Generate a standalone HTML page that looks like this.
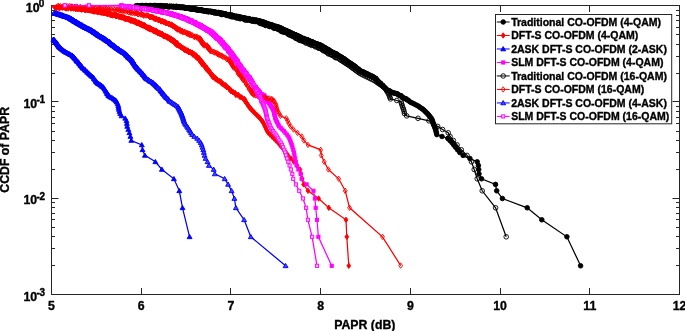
<!DOCTYPE html>
<html><head><meta charset="utf-8"><style>
html,body{margin:0;padding:0;background:#fff;}
svg{display:block;will-change:transform;}
text{font-family:"Liberation Sans",sans-serif;font-weight:bold;fill:#000;stroke:#000;stroke-width:0.35px;}
</style></head><body>
<svg width="685" height="331" viewBox="0 0 685 331">
<defs><clipPath id="pc"><rect x="51.5" y="2.5" width="628.0" height="292.0"/></clipPath><g id="m_blk4"><circle cx="0" cy="0" r="2.3" fill="#000" stroke="#000" stroke-width="0.9"/></g><g id="m_red4"><path d="M0,-2.7L1.9,0L0,2.7L-1.9,0Z" fill="#f00" stroke="#f00" stroke-width="0.9"/></g><g id="m_blu2"><path d="M0,-2.4L2.45,1.85L-2.45,1.85Z" fill="#00f" stroke="#00f" stroke-width="0.9"/></g><g id="m_mag4"><rect x="-1.6" y="-1.6" width="3.2" height="3.2" fill="#f0f" stroke="#f0f" stroke-width="0.9"/></g><g id="m_blk16"><circle cx="0" cy="0" r="2.3" fill="none" stroke="#000" stroke-width="0.9"/></g><g id="m_red16"><path d="M0,-2.7L1.9,0L0,2.7L-1.9,0Z" fill="none" stroke="#f00" stroke-width="0.9"/></g><g id="m_blu4"><path d="M0,-2.4L2.45,1.85L-2.45,1.85Z" fill="#44f" stroke="#00f" stroke-width="0.9"/></g><g id="m_mag16"><rect x="-1.6" y="-1.6" width="3.2" height="3.2" fill="#fbf" stroke="#f0f" stroke-width="0.9"/></g></defs>
<rect width="685" height="331" fill="#fff"/>
<rect x="51.5" y="5.5" width="628.0" height="289.0" fill="none" stroke="#262626" stroke-width="1"/><line x1="51.50" y1="294.5" x2="51.50" y2="288.0" stroke="#262626"/><line x1="51.50" y1="5.5" x2="51.50" y2="12.0" stroke="#262626"/><line x1="141.50" y1="294.5" x2="141.50" y2="288.0" stroke="#262626"/><line x1="141.50" y1="5.5" x2="141.50" y2="12.0" stroke="#262626"/><line x1="230.50" y1="294.5" x2="230.50" y2="288.0" stroke="#262626"/><line x1="230.50" y1="5.5" x2="230.50" y2="12.0" stroke="#262626"/><line x1="320.50" y1="294.5" x2="320.50" y2="288.0" stroke="#262626"/><line x1="320.50" y1="5.5" x2="320.50" y2="12.0" stroke="#262626"/><line x1="410.50" y1="294.5" x2="410.50" y2="288.0" stroke="#262626"/><line x1="410.50" y1="5.5" x2="410.50" y2="12.0" stroke="#262626"/><line x1="500.50" y1="294.5" x2="500.50" y2="288.0" stroke="#262626"/><line x1="500.50" y1="5.5" x2="500.50" y2="12.0" stroke="#262626"/><line x1="589.50" y1="294.5" x2="589.50" y2="288.0" stroke="#262626"/><line x1="589.50" y1="5.5" x2="589.50" y2="12.0" stroke="#262626"/><line x1="679.50" y1="294.5" x2="679.50" y2="288.0" stroke="#262626"/><line x1="679.50" y1="5.5" x2="679.50" y2="12.0" stroke="#262626"/><line x1="51.5" y1="5.50" x2="58.5" y2="5.50" stroke="#262626"/><line x1="679.5" y1="5.50" x2="672.5" y2="5.50" stroke="#262626"/><line x1="51.5" y1="73.50" x2="55.0" y2="73.50" stroke="#262626"/><line x1="679.5" y1="73.50" x2="676.0" y2="73.50" stroke="#262626"/><line x1="51.5" y1="56.50" x2="55.0" y2="56.50" stroke="#262626"/><line x1="679.5" y1="56.50" x2="676.0" y2="56.50" stroke="#262626"/><line x1="51.5" y1="44.50" x2="55.0" y2="44.50" stroke="#262626"/><line x1="679.5" y1="44.50" x2="676.0" y2="44.50" stroke="#262626"/><line x1="51.5" y1="34.50" x2="55.0" y2="34.50" stroke="#262626"/><line x1="679.5" y1="34.50" x2="676.0" y2="34.50" stroke="#262626"/><line x1="51.5" y1="27.50" x2="55.0" y2="27.50" stroke="#262626"/><line x1="679.5" y1="27.50" x2="676.0" y2="27.50" stroke="#262626"/><line x1="51.5" y1="20.50" x2="55.0" y2="20.50" stroke="#262626"/><line x1="679.5" y1="20.50" x2="676.0" y2="20.50" stroke="#262626"/><line x1="51.5" y1="15.50" x2="55.0" y2="15.50" stroke="#262626"/><line x1="679.5" y1="15.50" x2="676.0" y2="15.50" stroke="#262626"/><line x1="51.5" y1="10.50" x2="55.0" y2="10.50" stroke="#262626"/><line x1="679.5" y1="10.50" x2="676.0" y2="10.50" stroke="#262626"/><line x1="51.5" y1="101.50" x2="58.5" y2="101.50" stroke="#262626"/><line x1="679.5" y1="101.50" x2="672.5" y2="101.50" stroke="#262626"/><line x1="51.5" y1="169.50" x2="55.0" y2="169.50" stroke="#262626"/><line x1="679.5" y1="169.50" x2="676.0" y2="169.50" stroke="#262626"/><line x1="51.5" y1="152.50" x2="55.0" y2="152.50" stroke="#262626"/><line x1="679.5" y1="152.50" x2="676.0" y2="152.50" stroke="#262626"/><line x1="51.5" y1="140.50" x2="55.0" y2="140.50" stroke="#262626"/><line x1="679.5" y1="140.50" x2="676.0" y2="140.50" stroke="#262626"/><line x1="51.5" y1="131.50" x2="55.0" y2="131.50" stroke="#262626"/><line x1="679.5" y1="131.50" x2="676.0" y2="131.50" stroke="#262626"/><line x1="51.5" y1="123.50" x2="55.0" y2="123.50" stroke="#262626"/><line x1="679.5" y1="123.50" x2="676.0" y2="123.50" stroke="#262626"/><line x1="51.5" y1="117.50" x2="55.0" y2="117.50" stroke="#262626"/><line x1="679.5" y1="117.50" x2="676.0" y2="117.50" stroke="#262626"/><line x1="51.5" y1="111.50" x2="55.0" y2="111.50" stroke="#262626"/><line x1="679.5" y1="111.50" x2="676.0" y2="111.50" stroke="#262626"/><line x1="51.5" y1="106.50" x2="55.0" y2="106.50" stroke="#262626"/><line x1="679.5" y1="106.50" x2="676.0" y2="106.50" stroke="#262626"/><line x1="51.5" y1="198.50" x2="58.5" y2="198.50" stroke="#262626"/><line x1="679.5" y1="198.50" x2="672.5" y2="198.50" stroke="#262626"/><line x1="51.5" y1="265.50" x2="55.0" y2="265.50" stroke="#262626"/><line x1="679.5" y1="265.50" x2="676.0" y2="265.50" stroke="#262626"/><line x1="51.5" y1="248.50" x2="55.0" y2="248.50" stroke="#262626"/><line x1="679.5" y1="248.50" x2="676.0" y2="248.50" stroke="#262626"/><line x1="51.5" y1="236.50" x2="55.0" y2="236.50" stroke="#262626"/><line x1="679.5" y1="236.50" x2="676.0" y2="236.50" stroke="#262626"/><line x1="51.5" y1="227.50" x2="55.0" y2="227.50" stroke="#262626"/><line x1="679.5" y1="227.50" x2="676.0" y2="227.50" stroke="#262626"/><line x1="51.5" y1="219.50" x2="55.0" y2="219.50" stroke="#262626"/><line x1="679.5" y1="219.50" x2="676.0" y2="219.50" stroke="#262626"/><line x1="51.5" y1="213.50" x2="55.0" y2="213.50" stroke="#262626"/><line x1="679.5" y1="213.50" x2="676.0" y2="213.50" stroke="#262626"/><line x1="51.5" y1="207.50" x2="55.0" y2="207.50" stroke="#262626"/><line x1="679.5" y1="207.50" x2="676.0" y2="207.50" stroke="#262626"/><line x1="51.5" y1="202.50" x2="55.0" y2="202.50" stroke="#262626"/><line x1="679.5" y1="202.50" x2="676.0" y2="202.50" stroke="#262626"/><line x1="51.5" y1="294.50" x2="58.5" y2="294.50" stroke="#262626"/><line x1="679.5" y1="294.50" x2="672.5" y2="294.50" stroke="#262626"/>
<polyline points="135.7,6.1 137.8,5.6 139.2,5.8 140.9,6.0 142.0,5.5 144.3,5.8 145.8,5.5 147.1,6.0 148.5,6.2 150.7,5.5 151.5,5.9 153.6,5.8 154.2,5.9 155.4,5.7 157.0,5.9 158.1,5.8 159.5,6.0 160.8,5.7 162.2,6.1 162.8,5.9 164.0,6.4 164.1,6.1 165.5,6.4 166.5,6.2 167.2,6.5 167.6,6.5 169.0,6.7 169.5,6.5 169.9,6.3 171.5,6.5 171.8,6.6 173.1,6.8 173.6,6.6 174.6,6.9 175.5,6.7 176.3,6.5 176.8,7.0 178.5,7.0 178.8,6.7 179.8,7.3 180.7,7.1 181.4,7.0 181.7,7.6 182.3,7.3 182.6,7.5 183.8,7.2 184.2,7.8 184.9,7.9 185.4,7.8 185.8,7.8 185.9,8.2 187.0,7.8 187.5,8.1 187.9,8.1 188.7,8.4 189.4,8.4 189.4,8.3 190.2,8.6 191.4,8.9 191.9,9.0 192.0,9.1 193.0,8.6 193.0,8.7 194.3,8.9 194.3,9.3 195.1,9.0 195.6,9.4 196.2,9.3 197.3,9.5 197.5,9.6 197.9,9.7 198.8,9.6 199.2,10.2 200.2,9.8 200.9,10.3 201.0,9.9 201.7,10.5 202.3,10.5 203.4,10.5 203.6,10.9 204.8,10.7 204.9,10.9 205.7,10.9 206.2,11.1 206.6,10.9 208.1,11.4 208.1,11.5 208.8,11.7 209.8,11.4 210.0,11.2 211.2,11.3 211.8,12.1 212.2,11.6 213.1,12.3 213.6,12.0 214.0,12.0 214.5,12.3 215.3,12.1 215.7,12.5 216.5,12.5 217.2,12.9 218.3,12.4 218.4,12.7 219.7,13.1 219.8,12.8 220.6,13.3 221.3,13.1 221.7,13.4 221.8,13.7 222.1,13.7 222.4,13.4 223.6,13.5 223.9,13.9 224.5,13.8 224.5,13.9 225.5,14.2 226.0,14.5 225.8,14.3 226.2,14.1 226.7,14.8 227.8,14.9 227.9,14.8 228.7,14.7 229.0,14.7 229.1,14.9 230.3,15.2 230.8,15.2 230.7,15.6 231.7,15.1 232.0,15.3 232.0,15.9 232.5,15.6 233.8,15.8 233.5,15.7 234.1,16.3 234.5,16.5 235.2,16.6 236.2,16.3 236.1,16.5 236.5,16.7 237.0,16.4 238.3,16.7 238.5,16.9 238.7,16.7 239.8,17.5 240.3,17.0 240.2,17.5 241.4,17.5 241.7,17.7 241.9,17.8 242.5,17.7 242.9,17.8 244.2,18.0 244.5,18.3 245.3,18.2 245.3,18.3 245.9,18.8 247.0,18.5 247.0,18.8 247.8,18.9 248.1,18.6 248.7,18.8 249.5,18.9 249.7,19.4 250.4,19.6 251.2,19.8 251.5,19.7 252.6,19.5 253.4,19.7 253.8,20.4 254.4,20.0 254.4,20.3 255.7,20.2 256.3,20.2 256.9,20.3 256.9,21.0 258.0,21.1 258.6,21.1 259.1,20.9 259.5,21.0 260.3,21.4 260.2,21.1 261.2,21.8 261.2,21.7 261.8,21.8 261.8,21.8 262.0,21.7 262.8,22.1 263.1,22.0 263.2,22.2 263.4,22.4 264.4,22.6 264.4,22.9 264.6,22.6 265.3,23.1 265.8,23.1 266.2,23.5 266.1,23.4 266.7,23.4 267.1,23.7 267.9,24.1 267.7,24.1 267.9,23.8 268.7,24.5 268.8,24.5 269.8,24.3 270.0,24.9 270.1,24.9 270.9,24.9 271.4,25.3 271.8,25.2 271.5,25.1 272.0,25.4 272.9,25.2 273.2,25.8 273.3,25.8 273.5,26.1 273.8,26.4 274.9,26.3 274.8,26.6 275.9,26.2 276.1,26.9 276.4,26.9 276.6,27.2 277.5,26.9 277.8,27.1 277.6,27.2 278.0,27.7 279.2,27.3 279.3,27.7 279.3,27.7 279.8,28.2 279.9,27.9 280.6,28.0 281.1,28.5 281.6,28.4 281.4,28.8 281.7,28.9 282.0,29.2 282.8,29.4 283.3,29.4 283.2,29.7 283.7,29.7 283.7,29.6 283.8,30.1 284.1,30.2 284.8,30.5 285.4,30.7 285.1,30.5 285.8,30.5 286.1,30.7 286.5,30.6 286.7,31.1 286.9,31.2 287.7,31.6 287.8,31.7 288.0,31.5 288.0,31.7 288.9,32.3 289.4,32.2 289.9,32.3 290.1,32.5 290.4,33.0 290.3,32.6 291.0,33.0 291.1,32.8 291.5,33.3 291.8,33.7 292.3,33.8 293.0,34.0 293.0,34.1 293.5,34.2 293.8,34.2 294.2,34.6 294.8,34.8 295.1,35.0 295.4,35.0 295.4,35.0 296.1,35.6 296.3,35.2 296.9,35.6 297.0,35.5 297.4,36.2 297.7,36.1 298.3,36.0 298.5,36.8 299.0,36.6 299.4,36.9 299.4,36.8 300.4,37.0 300.1,37.6 300.9,37.5 301.4,37.9 301.5,38.0 302.4,38.3 302.5,38.4 302.9,38.5 303.3,38.9 304.4,38.7 304.2,39.4 305.1,39.5 305.0,39.7 306.0,39.4 306.3,40.0 307.1,39.7 307.4,39.9 308.2,40.3 308.6,40.7 308.8,40.6 309.2,40.7 309.3,41.3 310.0,41.5 310.4,41.7 311.3,41.6 311.2,41.8 312.1,41.8 312.3,42.0 313.2,42.8 313.3,42.4 314.3,43.1 315.0,43.2 314.9,43.5 315.2,43.7 315.7,43.6 316.6,43.8 316.8,43.9 317.9,44.3 318.2,44.3 318.9,44.6 319.3,45.3 320.2,44.9 320.5,45.7 320.4,45.5 321.0,46.1 321.3,46.3 322.0,46.0 322.5,46.2 322.2,46.8 322.5,46.9 323.0,47.1 324.0,47.7 323.7,47.3 324.9,47.5 324.8,47.8 325.0,48.0 325.9,48.7 326.4,49.0 326.8,48.9 327.2,49.6 327.6,49.3 327.5,50.0 328.4,49.9 328.8,50.2 329.2,50.1 329.5,50.6 329.8,51.2 330.4,51.3 331.1,51.6 331.6,51.9 331.6,52.3 332.0,52.5 333.1,52.7 332.8,52.4 333.9,52.9 334.0,53.6 334.2,53.5 335.0,53.5 335.4,54.1 336.3,53.9 336.5,54.2 337.2,54.5 337.0,55.0 338.1,55.2 338.1,55.8 339.2,56.1 339.2,56.1 339.7,56.5 340.2,56.6 341.0,57.3 341.3,57.0 341.8,57.6 342.6,58.0 342.9,58.3 343.1,58.7 343.8,58.6 343.6,59.0 344.4,59.1 344.7,59.7 344.9,60.2 345.9,60.1 346.1,60.5 346.6,61.1 347.2,61.2 347.4,61.8 348.1,61.7 348.3,62.5 349.2,62.8 350.1,63.1 350.5,63.4 351.0,63.7 350.7,63.8 351.6,64.5 352.2,64.6 352.6,64.7 353.3,65.3 353.3,65.5 354.2,65.9 354.0,66.0 354.9,66.6 355.6,66.7 355.6,67.5 355.8,67.4 356.7,67.9 356.8,68.2 357.8,68.8 357.8,68.8 359.0,69.6 358.9,70.2 359.3,70.2 360.7,70.8 361.0,71.4 362.1,71.8 363.1,71.8 363.8,72.3 364.8,72.9 365.5,73.4 366.6,73.4 366.7,74.2 368.1,74.4 368.7,74.8 369.9,75.5 370.5,75.4 371.7,76.1 372.0,76.5 373.3,76.7 373.7,77.4 375.4,78.2 375.9,78.5 376.0,79.0 376.5,79.5 377.2,80.3 377.3,80.5 377.7,80.8 378.4,81.5 379.0,82.3 379.1,82.6 380.4,83.2 380.5,83.4 380.9,84.4 381.9,84.7 382.5,85.5 383.0,85.6 383.2,86.5 383.7,87.1 384.4,87.3 384.9,87.8 385.5,88.6 386.1,89.0 387.2,90.1 388.5,90.4 389.8,91.0 390.3,92.0 391.2,92.1 392.1,92.5 393.2,92.8 394.6,93.3 395.1,93.2 397.0,93.6 397.1,94.0 398.5,94.8 399.5,95.4 401.0,95.6 401.9,97.0 403.0,97.4 404.0,98.5 405.8,98.6 406.7,99.6 408.1,100.2 409.1,101.1 410.6,102.3 412.2,103.0 413.9,103.8 415.6,104.7 417.4,105.6 418.9,106.5 420.2,107.5 421.6,108.4 423.1,109.4 424.2,110.4 425.3,111.5 426.3,112.5 427.4,113.6 428.4,114.7 429.4,115.9 430.3,117.1 431.3,118.3 431.9,119.5 432.4,120.8 432.8,122.1 433.2,123.5 433.8,124.9 434.4,126.4 435.0,127.9 435.6,129.5 436.0,131.1 436.4,132.8 436.8,134.6 442.0,136.5 447.8,138.4 449.9,140.5 451.9,142.6 453.7,144.9 455.6,147.3 457.6,149.8 459.8,152.5 463.1,155.4 469.9,158.5 477.2,161.8 478.4,165.5 478.7,169.5 479.0,173.9 481.5,178.8 495.5,184.4 496.7,190.8 502.4,198.5 527.2,207.8 541.8,219.8 566.9,236.8 580.6,265.8" fill="none" stroke="#000" stroke-width="1.25" clip-path="url(#pc)"/><g><use href="#m_blk4" x="135.7" y="6.1"/><use href="#m_blk4" x="137.8" y="5.6"/><use href="#m_blk4" x="139.2" y="5.8"/><use href="#m_blk4" x="140.9" y="6.0"/><use href="#m_blk4" x="142.0" y="5.5"/><use href="#m_blk4" x="144.3" y="5.8"/><use href="#m_blk4" x="145.8" y="5.5"/><use href="#m_blk4" x="147.1" y="6.0"/><use href="#m_blk4" x="148.5" y="6.2"/><use href="#m_blk4" x="150.7" y="5.5"/><use href="#m_blk4" x="151.5" y="5.9"/><use href="#m_blk4" x="153.6" y="5.8"/><use href="#m_blk4" x="154.2" y="5.9"/><use href="#m_blk4" x="155.4" y="5.7"/><use href="#m_blk4" x="157.0" y="5.9"/><use href="#m_blk4" x="158.1" y="5.8"/><use href="#m_blk4" x="159.5" y="6.0"/><use href="#m_blk4" x="160.8" y="5.7"/><use href="#m_blk4" x="162.2" y="6.1"/><use href="#m_blk4" x="162.8" y="5.9"/><use href="#m_blk4" x="164.0" y="6.4"/><use href="#m_blk4" x="164.1" y="6.1"/><use href="#m_blk4" x="165.5" y="6.4"/><use href="#m_blk4" x="166.5" y="6.2"/><use href="#m_blk4" x="167.2" y="6.5"/><use href="#m_blk4" x="167.6" y="6.5"/><use href="#m_blk4" x="169.0" y="6.7"/><use href="#m_blk4" x="169.5" y="6.5"/><use href="#m_blk4" x="169.9" y="6.3"/><use href="#m_blk4" x="171.5" y="6.5"/><use href="#m_blk4" x="171.8" y="6.6"/><use href="#m_blk4" x="173.1" y="6.8"/><use href="#m_blk4" x="173.6" y="6.6"/><use href="#m_blk4" x="174.6" y="6.9"/><use href="#m_blk4" x="175.5" y="6.7"/><use href="#m_blk4" x="176.3" y="6.5"/><use href="#m_blk4" x="176.8" y="7.0"/><use href="#m_blk4" x="178.5" y="7.0"/><use href="#m_blk4" x="178.8" y="6.7"/><use href="#m_blk4" x="179.8" y="7.3"/><use href="#m_blk4" x="180.7" y="7.1"/><use href="#m_blk4" x="181.4" y="7.0"/><use href="#m_blk4" x="181.7" y="7.6"/><use href="#m_blk4" x="182.3" y="7.3"/><use href="#m_blk4" x="182.6" y="7.5"/><use href="#m_blk4" x="183.8" y="7.2"/><use href="#m_blk4" x="184.2" y="7.8"/><use href="#m_blk4" x="184.9" y="7.9"/><use href="#m_blk4" x="185.4" y="7.8"/><use href="#m_blk4" x="185.8" y="7.8"/><use href="#m_blk4" x="185.9" y="8.2"/><use href="#m_blk4" x="187.0" y="7.8"/><use href="#m_blk4" x="187.5" y="8.1"/><use href="#m_blk4" x="187.9" y="8.1"/><use href="#m_blk4" x="188.7" y="8.4"/><use href="#m_blk4" x="189.4" y="8.4"/><use href="#m_blk4" x="189.4" y="8.3"/><use href="#m_blk4" x="190.2" y="8.6"/><use href="#m_blk4" x="191.4" y="8.9"/><use href="#m_blk4" x="191.9" y="9.0"/><use href="#m_blk4" x="192.0" y="9.1"/><use href="#m_blk4" x="193.0" y="8.6"/><use href="#m_blk4" x="193.0" y="8.7"/><use href="#m_blk4" x="194.3" y="8.9"/><use href="#m_blk4" x="194.3" y="9.3"/><use href="#m_blk4" x="195.1" y="9.0"/><use href="#m_blk4" x="195.6" y="9.4"/><use href="#m_blk4" x="196.2" y="9.3"/><use href="#m_blk4" x="197.3" y="9.5"/><use href="#m_blk4" x="197.5" y="9.6"/><use href="#m_blk4" x="197.9" y="9.7"/><use href="#m_blk4" x="198.8" y="9.6"/><use href="#m_blk4" x="199.2" y="10.2"/><use href="#m_blk4" x="200.2" y="9.8"/><use href="#m_blk4" x="200.9" y="10.3"/><use href="#m_blk4" x="201.0" y="9.9"/><use href="#m_blk4" x="201.7" y="10.5"/><use href="#m_blk4" x="202.3" y="10.5"/><use href="#m_blk4" x="203.4" y="10.5"/><use href="#m_blk4" x="203.6" y="10.9"/><use href="#m_blk4" x="204.8" y="10.7"/><use href="#m_blk4" x="204.9" y="10.9"/><use href="#m_blk4" x="205.7" y="10.9"/><use href="#m_blk4" x="206.2" y="11.1"/><use href="#m_blk4" x="206.6" y="10.9"/><use href="#m_blk4" x="208.1" y="11.4"/><use href="#m_blk4" x="208.1" y="11.5"/><use href="#m_blk4" x="208.8" y="11.7"/><use href="#m_blk4" x="209.8" y="11.4"/><use href="#m_blk4" x="210.0" y="11.2"/><use href="#m_blk4" x="211.2" y="11.3"/><use href="#m_blk4" x="211.8" y="12.1"/><use href="#m_blk4" x="212.2" y="11.6"/><use href="#m_blk4" x="213.1" y="12.3"/><use href="#m_blk4" x="213.6" y="12.0"/><use href="#m_blk4" x="214.0" y="12.0"/><use href="#m_blk4" x="214.5" y="12.3"/><use href="#m_blk4" x="215.3" y="12.1"/><use href="#m_blk4" x="215.7" y="12.5"/><use href="#m_blk4" x="216.5" y="12.5"/><use href="#m_blk4" x="217.2" y="12.9"/><use href="#m_blk4" x="218.3" y="12.4"/><use href="#m_blk4" x="218.4" y="12.7"/><use href="#m_blk4" x="219.7" y="13.1"/><use href="#m_blk4" x="219.8" y="12.8"/><use href="#m_blk4" x="220.6" y="13.3"/><use href="#m_blk4" x="221.3" y="13.1"/><use href="#m_blk4" x="221.7" y="13.4"/><use href="#m_blk4" x="221.8" y="13.7"/><use href="#m_blk4" x="222.1" y="13.7"/><use href="#m_blk4" x="222.4" y="13.4"/><use href="#m_blk4" x="223.6" y="13.5"/><use href="#m_blk4" x="223.9" y="13.9"/><use href="#m_blk4" x="224.5" y="13.8"/><use href="#m_blk4" x="224.5" y="13.9"/><use href="#m_blk4" x="225.5" y="14.2"/><use href="#m_blk4" x="226.0" y="14.5"/><use href="#m_blk4" x="225.8" y="14.3"/><use href="#m_blk4" x="226.2" y="14.1"/><use href="#m_blk4" x="226.7" y="14.8"/><use href="#m_blk4" x="227.8" y="14.9"/><use href="#m_blk4" x="227.9" y="14.8"/><use href="#m_blk4" x="228.7" y="14.7"/><use href="#m_blk4" x="229.0" y="14.7"/><use href="#m_blk4" x="229.1" y="14.9"/><use href="#m_blk4" x="230.3" y="15.2"/><use href="#m_blk4" x="230.8" y="15.2"/><use href="#m_blk4" x="230.7" y="15.6"/><use href="#m_blk4" x="231.7" y="15.1"/><use href="#m_blk4" x="232.0" y="15.3"/><use href="#m_blk4" x="232.0" y="15.9"/><use href="#m_blk4" x="232.5" y="15.6"/><use href="#m_blk4" x="233.8" y="15.8"/><use href="#m_blk4" x="233.5" y="15.7"/><use href="#m_blk4" x="234.1" y="16.3"/><use href="#m_blk4" x="234.5" y="16.5"/><use href="#m_blk4" x="235.2" y="16.6"/><use href="#m_blk4" x="236.2" y="16.3"/><use href="#m_blk4" x="236.1" y="16.5"/><use href="#m_blk4" x="236.5" y="16.7"/><use href="#m_blk4" x="237.0" y="16.4"/><use href="#m_blk4" x="238.3" y="16.7"/><use href="#m_blk4" x="238.5" y="16.9"/><use href="#m_blk4" x="238.7" y="16.7"/><use href="#m_blk4" x="239.8" y="17.5"/><use href="#m_blk4" x="240.3" y="17.0"/><use href="#m_blk4" x="240.2" y="17.5"/><use href="#m_blk4" x="241.4" y="17.5"/><use href="#m_blk4" x="241.7" y="17.7"/><use href="#m_blk4" x="241.9" y="17.8"/><use href="#m_blk4" x="242.5" y="17.7"/><use href="#m_blk4" x="242.9" y="17.8"/><use href="#m_blk4" x="244.2" y="18.0"/><use href="#m_blk4" x="244.5" y="18.3"/><use href="#m_blk4" x="245.3" y="18.2"/><use href="#m_blk4" x="245.3" y="18.3"/><use href="#m_blk4" x="245.9" y="18.8"/><use href="#m_blk4" x="247.0" y="18.5"/><use href="#m_blk4" x="247.0" y="18.8"/><use href="#m_blk4" x="247.8" y="18.9"/><use href="#m_blk4" x="248.1" y="18.6"/><use href="#m_blk4" x="248.7" y="18.8"/><use href="#m_blk4" x="249.5" y="18.9"/><use href="#m_blk4" x="249.7" y="19.4"/><use href="#m_blk4" x="250.4" y="19.6"/><use href="#m_blk4" x="251.2" y="19.8"/><use href="#m_blk4" x="251.5" y="19.7"/><use href="#m_blk4" x="252.6" y="19.5"/><use href="#m_blk4" x="253.4" y="19.7"/><use href="#m_blk4" x="253.8" y="20.4"/><use href="#m_blk4" x="254.4" y="20.0"/><use href="#m_blk4" x="254.4" y="20.3"/><use href="#m_blk4" x="255.7" y="20.2"/><use href="#m_blk4" x="256.3" y="20.2"/><use href="#m_blk4" x="256.9" y="20.3"/><use href="#m_blk4" x="256.9" y="21.0"/><use href="#m_blk4" x="258.0" y="21.1"/><use href="#m_blk4" x="258.6" y="21.1"/><use href="#m_blk4" x="259.1" y="20.9"/><use href="#m_blk4" x="259.5" y="21.0"/><use href="#m_blk4" x="260.3" y="21.4"/><use href="#m_blk4" x="260.2" y="21.1"/><use href="#m_blk4" x="261.2" y="21.8"/><use href="#m_blk4" x="261.2" y="21.7"/><use href="#m_blk4" x="261.8" y="21.8"/><use href="#m_blk4" x="261.8" y="21.8"/><use href="#m_blk4" x="262.0" y="21.7"/><use href="#m_blk4" x="262.8" y="22.1"/><use href="#m_blk4" x="263.1" y="22.0"/><use href="#m_blk4" x="263.2" y="22.2"/><use href="#m_blk4" x="263.4" y="22.4"/><use href="#m_blk4" x="264.4" y="22.6"/><use href="#m_blk4" x="264.4" y="22.9"/><use href="#m_blk4" x="264.6" y="22.6"/><use href="#m_blk4" x="265.3" y="23.1"/><use href="#m_blk4" x="265.8" y="23.1"/><use href="#m_blk4" x="266.2" y="23.5"/><use href="#m_blk4" x="266.1" y="23.4"/><use href="#m_blk4" x="266.7" y="23.4"/><use href="#m_blk4" x="267.1" y="23.7"/><use href="#m_blk4" x="267.9" y="24.1"/><use href="#m_blk4" x="267.7" y="24.1"/><use href="#m_blk4" x="267.9" y="23.8"/><use href="#m_blk4" x="268.7" y="24.5"/><use href="#m_blk4" x="268.8" y="24.5"/><use href="#m_blk4" x="269.8" y="24.3"/><use href="#m_blk4" x="270.0" y="24.9"/><use href="#m_blk4" x="270.1" y="24.9"/><use href="#m_blk4" x="270.9" y="24.9"/><use href="#m_blk4" x="271.4" y="25.3"/><use href="#m_blk4" x="271.8" y="25.2"/><use href="#m_blk4" x="271.5" y="25.1"/><use href="#m_blk4" x="272.0" y="25.4"/><use href="#m_blk4" x="272.9" y="25.2"/><use href="#m_blk4" x="273.2" y="25.8"/><use href="#m_blk4" x="273.3" y="25.8"/><use href="#m_blk4" x="273.5" y="26.1"/><use href="#m_blk4" x="273.8" y="26.4"/><use href="#m_blk4" x="274.9" y="26.3"/><use href="#m_blk4" x="274.8" y="26.6"/><use href="#m_blk4" x="275.9" y="26.2"/><use href="#m_blk4" x="276.1" y="26.9"/><use href="#m_blk4" x="276.4" y="26.9"/><use href="#m_blk4" x="276.6" y="27.2"/><use href="#m_blk4" x="277.5" y="26.9"/><use href="#m_blk4" x="277.8" y="27.1"/><use href="#m_blk4" x="277.6" y="27.2"/><use href="#m_blk4" x="278.0" y="27.7"/><use href="#m_blk4" x="279.2" y="27.3"/><use href="#m_blk4" x="279.3" y="27.7"/><use href="#m_blk4" x="279.3" y="27.7"/><use href="#m_blk4" x="279.8" y="28.2"/><use href="#m_blk4" x="279.9" y="27.9"/><use href="#m_blk4" x="280.6" y="28.0"/><use href="#m_blk4" x="281.1" y="28.5"/><use href="#m_blk4" x="281.6" y="28.4"/><use href="#m_blk4" x="281.4" y="28.8"/><use href="#m_blk4" x="281.7" y="28.9"/><use href="#m_blk4" x="282.0" y="29.2"/><use href="#m_blk4" x="282.8" y="29.4"/><use href="#m_blk4" x="283.3" y="29.4"/><use href="#m_blk4" x="283.2" y="29.7"/><use href="#m_blk4" x="283.7" y="29.7"/><use href="#m_blk4" x="283.7" y="29.6"/><use href="#m_blk4" x="283.8" y="30.1"/><use href="#m_blk4" x="284.1" y="30.2"/><use href="#m_blk4" x="284.8" y="30.5"/><use href="#m_blk4" x="285.4" y="30.7"/><use href="#m_blk4" x="285.1" y="30.5"/><use href="#m_blk4" x="285.8" y="30.5"/><use href="#m_blk4" x="286.1" y="30.7"/><use href="#m_blk4" x="286.5" y="30.6"/><use href="#m_blk4" x="286.7" y="31.1"/><use href="#m_blk4" x="286.9" y="31.2"/><use href="#m_blk4" x="287.7" y="31.6"/><use href="#m_blk4" x="287.8" y="31.7"/><use href="#m_blk4" x="288.0" y="31.5"/><use href="#m_blk4" x="288.0" y="31.7"/><use href="#m_blk4" x="288.9" y="32.3"/><use href="#m_blk4" x="289.4" y="32.2"/><use href="#m_blk4" x="289.9" y="32.3"/><use href="#m_blk4" x="290.1" y="32.5"/><use href="#m_blk4" x="290.4" y="33.0"/><use href="#m_blk4" x="290.3" y="32.6"/><use href="#m_blk4" x="291.0" y="33.0"/><use href="#m_blk4" x="291.1" y="32.8"/><use href="#m_blk4" x="291.5" y="33.3"/><use href="#m_blk4" x="291.8" y="33.7"/><use href="#m_blk4" x="292.3" y="33.8"/><use href="#m_blk4" x="293.0" y="34.0"/><use href="#m_blk4" x="293.0" y="34.1"/><use href="#m_blk4" x="293.5" y="34.2"/><use href="#m_blk4" x="293.8" y="34.2"/><use href="#m_blk4" x="294.2" y="34.6"/><use href="#m_blk4" x="294.8" y="34.8"/><use href="#m_blk4" x="295.1" y="35.0"/><use href="#m_blk4" x="295.4" y="35.0"/><use href="#m_blk4" x="295.4" y="35.0"/><use href="#m_blk4" x="296.1" y="35.6"/><use href="#m_blk4" x="296.3" y="35.2"/><use href="#m_blk4" x="296.9" y="35.6"/><use href="#m_blk4" x="297.0" y="35.5"/><use href="#m_blk4" x="297.4" y="36.2"/><use href="#m_blk4" x="297.7" y="36.1"/><use href="#m_blk4" x="298.3" y="36.0"/><use href="#m_blk4" x="298.5" y="36.8"/><use href="#m_blk4" x="299.0" y="36.6"/><use href="#m_blk4" x="299.4" y="36.9"/><use href="#m_blk4" x="299.4" y="36.8"/><use href="#m_blk4" x="300.4" y="37.0"/><use href="#m_blk4" x="300.1" y="37.6"/><use href="#m_blk4" x="300.9" y="37.5"/><use href="#m_blk4" x="301.4" y="37.9"/><use href="#m_blk4" x="301.5" y="38.0"/><use href="#m_blk4" x="302.4" y="38.3"/><use href="#m_blk4" x="302.5" y="38.4"/><use href="#m_blk4" x="302.9" y="38.5"/><use href="#m_blk4" x="303.3" y="38.9"/><use href="#m_blk4" x="304.4" y="38.7"/><use href="#m_blk4" x="304.2" y="39.4"/><use href="#m_blk4" x="305.1" y="39.5"/><use href="#m_blk4" x="305.0" y="39.7"/><use href="#m_blk4" x="306.0" y="39.4"/><use href="#m_blk4" x="306.3" y="40.0"/><use href="#m_blk4" x="307.1" y="39.7"/><use href="#m_blk4" x="307.4" y="39.9"/><use href="#m_blk4" x="308.2" y="40.3"/><use href="#m_blk4" x="308.6" y="40.7"/><use href="#m_blk4" x="308.8" y="40.6"/><use href="#m_blk4" x="309.2" y="40.7"/><use href="#m_blk4" x="309.3" y="41.3"/><use href="#m_blk4" x="310.0" y="41.5"/><use href="#m_blk4" x="310.4" y="41.7"/><use href="#m_blk4" x="311.3" y="41.6"/><use href="#m_blk4" x="311.2" y="41.8"/><use href="#m_blk4" x="312.1" y="41.8"/><use href="#m_blk4" x="312.3" y="42.0"/><use href="#m_blk4" x="313.2" y="42.8"/><use href="#m_blk4" x="313.3" y="42.4"/><use href="#m_blk4" x="314.3" y="43.1"/><use href="#m_blk4" x="315.0" y="43.2"/><use href="#m_blk4" x="314.9" y="43.5"/><use href="#m_blk4" x="315.2" y="43.7"/><use href="#m_blk4" x="315.7" y="43.6"/><use href="#m_blk4" x="316.6" y="43.8"/><use href="#m_blk4" x="316.8" y="43.9"/><use href="#m_blk4" x="317.9" y="44.3"/><use href="#m_blk4" x="318.2" y="44.3"/><use href="#m_blk4" x="318.9" y="44.6"/><use href="#m_blk4" x="319.3" y="45.3"/><use href="#m_blk4" x="320.2" y="44.9"/><use href="#m_blk4" x="320.5" y="45.7"/><use href="#m_blk4" x="320.4" y="45.5"/><use href="#m_blk4" x="321.0" y="46.1"/><use href="#m_blk4" x="321.3" y="46.3"/><use href="#m_blk4" x="322.0" y="46.0"/><use href="#m_blk4" x="322.5" y="46.2"/><use href="#m_blk4" x="322.2" y="46.8"/><use href="#m_blk4" x="322.5" y="46.9"/><use href="#m_blk4" x="323.0" y="47.1"/><use href="#m_blk4" x="324.0" y="47.7"/><use href="#m_blk4" x="323.7" y="47.3"/><use href="#m_blk4" x="324.9" y="47.5"/><use href="#m_blk4" x="324.8" y="47.8"/><use href="#m_blk4" x="325.0" y="48.0"/><use href="#m_blk4" x="325.9" y="48.7"/><use href="#m_blk4" x="326.4" y="49.0"/><use href="#m_blk4" x="326.8" y="48.9"/><use href="#m_blk4" x="327.2" y="49.6"/><use href="#m_blk4" x="327.6" y="49.3"/><use href="#m_blk4" x="327.5" y="50.0"/><use href="#m_blk4" x="328.4" y="49.9"/><use href="#m_blk4" x="328.8" y="50.2"/><use href="#m_blk4" x="329.2" y="50.1"/><use href="#m_blk4" x="329.5" y="50.6"/><use href="#m_blk4" x="329.8" y="51.2"/><use href="#m_blk4" x="330.4" y="51.3"/><use href="#m_blk4" x="331.1" y="51.6"/><use href="#m_blk4" x="331.6" y="51.9"/><use href="#m_blk4" x="331.6" y="52.3"/><use href="#m_blk4" x="332.0" y="52.5"/><use href="#m_blk4" x="333.1" y="52.7"/><use href="#m_blk4" x="332.8" y="52.4"/><use href="#m_blk4" x="333.9" y="52.9"/><use href="#m_blk4" x="334.0" y="53.6"/><use href="#m_blk4" x="334.2" y="53.5"/><use href="#m_blk4" x="335.0" y="53.5"/><use href="#m_blk4" x="335.4" y="54.1"/><use href="#m_blk4" x="336.3" y="53.9"/><use href="#m_blk4" x="336.5" y="54.2"/><use href="#m_blk4" x="337.2" y="54.5"/><use href="#m_blk4" x="337.0" y="55.0"/><use href="#m_blk4" x="338.1" y="55.2"/><use href="#m_blk4" x="338.1" y="55.8"/><use href="#m_blk4" x="339.2" y="56.1"/><use href="#m_blk4" x="339.2" y="56.1"/><use href="#m_blk4" x="339.7" y="56.5"/><use href="#m_blk4" x="340.2" y="56.6"/><use href="#m_blk4" x="341.0" y="57.3"/><use href="#m_blk4" x="341.3" y="57.0"/><use href="#m_blk4" x="341.8" y="57.6"/><use href="#m_blk4" x="342.6" y="58.0"/><use href="#m_blk4" x="342.9" y="58.3"/><use href="#m_blk4" x="343.1" y="58.7"/><use href="#m_blk4" x="343.8" y="58.6"/><use href="#m_blk4" x="343.6" y="59.0"/><use href="#m_blk4" x="344.4" y="59.1"/><use href="#m_blk4" x="344.7" y="59.7"/><use href="#m_blk4" x="344.9" y="60.2"/><use href="#m_blk4" x="345.9" y="60.1"/><use href="#m_blk4" x="346.1" y="60.5"/><use href="#m_blk4" x="346.6" y="61.1"/><use href="#m_blk4" x="347.2" y="61.2"/><use href="#m_blk4" x="347.4" y="61.8"/><use href="#m_blk4" x="348.1" y="61.7"/><use href="#m_blk4" x="348.3" y="62.5"/><use href="#m_blk4" x="349.2" y="62.8"/><use href="#m_blk4" x="350.1" y="63.1"/><use href="#m_blk4" x="350.5" y="63.4"/><use href="#m_blk4" x="351.0" y="63.7"/><use href="#m_blk4" x="350.7" y="63.8"/><use href="#m_blk4" x="351.6" y="64.5"/><use href="#m_blk4" x="352.2" y="64.6"/><use href="#m_blk4" x="352.6" y="64.7"/><use href="#m_blk4" x="353.3" y="65.3"/><use href="#m_blk4" x="353.3" y="65.5"/><use href="#m_blk4" x="354.2" y="65.9"/><use href="#m_blk4" x="354.0" y="66.0"/><use href="#m_blk4" x="354.9" y="66.6"/><use href="#m_blk4" x="355.6" y="66.7"/><use href="#m_blk4" x="355.6" y="67.5"/><use href="#m_blk4" x="355.8" y="67.4"/><use href="#m_blk4" x="356.7" y="67.9"/><use href="#m_blk4" x="356.8" y="68.2"/><use href="#m_blk4" x="357.8" y="68.8"/><use href="#m_blk4" x="357.8" y="68.8"/><use href="#m_blk4" x="359.0" y="69.6"/><use href="#m_blk4" x="358.9" y="70.2"/><use href="#m_blk4" x="359.3" y="70.2"/><use href="#m_blk4" x="360.7" y="70.8"/><use href="#m_blk4" x="361.0" y="71.4"/><use href="#m_blk4" x="362.1" y="71.8"/><use href="#m_blk4" x="363.1" y="71.8"/><use href="#m_blk4" x="363.8" y="72.3"/><use href="#m_blk4" x="364.8" y="72.9"/><use href="#m_blk4" x="365.5" y="73.4"/><use href="#m_blk4" x="366.6" y="73.4"/><use href="#m_blk4" x="366.7" y="74.2"/><use href="#m_blk4" x="368.1" y="74.4"/><use href="#m_blk4" x="368.7" y="74.8"/><use href="#m_blk4" x="369.9" y="75.5"/><use href="#m_blk4" x="370.5" y="75.4"/><use href="#m_blk4" x="371.7" y="76.1"/><use href="#m_blk4" x="372.0" y="76.5"/><use href="#m_blk4" x="373.3" y="76.7"/><use href="#m_blk4" x="373.7" y="77.4"/><use href="#m_blk4" x="375.4" y="78.2"/><use href="#m_blk4" x="375.9" y="78.5"/><use href="#m_blk4" x="376.0" y="79.0"/><use href="#m_blk4" x="376.5" y="79.5"/><use href="#m_blk4" x="377.2" y="80.3"/><use href="#m_blk4" x="377.3" y="80.5"/><use href="#m_blk4" x="377.7" y="80.8"/><use href="#m_blk4" x="378.4" y="81.5"/><use href="#m_blk4" x="379.0" y="82.3"/><use href="#m_blk4" x="379.1" y="82.6"/><use href="#m_blk4" x="380.4" y="83.2"/><use href="#m_blk4" x="380.5" y="83.4"/><use href="#m_blk4" x="380.9" y="84.4"/><use href="#m_blk4" x="381.9" y="84.7"/><use href="#m_blk4" x="382.5" y="85.5"/><use href="#m_blk4" x="383.0" y="85.6"/><use href="#m_blk4" x="383.2" y="86.5"/><use href="#m_blk4" x="383.7" y="87.1"/><use href="#m_blk4" x="384.4" y="87.3"/><use href="#m_blk4" x="384.9" y="87.8"/><use href="#m_blk4" x="385.5" y="88.6"/><use href="#m_blk4" x="386.1" y="89.0"/><use href="#m_blk4" x="387.2" y="90.1"/><use href="#m_blk4" x="388.5" y="90.4"/><use href="#m_blk4" x="389.8" y="91.0"/><use href="#m_blk4" x="390.3" y="92.0"/><use href="#m_blk4" x="391.2" y="92.1"/><use href="#m_blk4" x="392.1" y="92.5"/><use href="#m_blk4" x="393.2" y="92.8"/><use href="#m_blk4" x="394.6" y="93.3"/><use href="#m_blk4" x="395.1" y="93.2"/><use href="#m_blk4" x="397.0" y="93.6"/><use href="#m_blk4" x="397.1" y="94.0"/><use href="#m_blk4" x="398.5" y="94.8"/><use href="#m_blk4" x="399.5" y="95.4"/><use href="#m_blk4" x="401.0" y="95.6"/><use href="#m_blk4" x="401.9" y="97.0"/><use href="#m_blk4" x="403.0" y="97.4"/><use href="#m_blk4" x="404.0" y="98.5"/><use href="#m_blk4" x="405.8" y="98.6"/><use href="#m_blk4" x="406.7" y="99.6"/><use href="#m_blk4" x="408.1" y="100.2"/><use href="#m_blk4" x="409.1" y="101.1"/><use href="#m_blk4" x="410.6" y="102.3"/><use href="#m_blk4" x="412.2" y="103.0"/><use href="#m_blk4" x="413.9" y="103.8"/><use href="#m_blk4" x="415.6" y="104.7"/><use href="#m_blk4" x="417.4" y="105.6"/><use href="#m_blk4" x="418.9" y="106.5"/><use href="#m_blk4" x="420.2" y="107.5"/><use href="#m_blk4" x="421.6" y="108.4"/><use href="#m_blk4" x="423.1" y="109.4"/><use href="#m_blk4" x="424.2" y="110.4"/><use href="#m_blk4" x="425.3" y="111.5"/><use href="#m_blk4" x="426.3" y="112.5"/><use href="#m_blk4" x="427.4" y="113.6"/><use href="#m_blk4" x="428.4" y="114.7"/><use href="#m_blk4" x="429.4" y="115.9"/><use href="#m_blk4" x="430.3" y="117.1"/><use href="#m_blk4" x="431.3" y="118.3"/><use href="#m_blk4" x="431.9" y="119.5"/><use href="#m_blk4" x="432.4" y="120.8"/><use href="#m_blk4" x="432.8" y="122.1"/><use href="#m_blk4" x="433.2" y="123.5"/><use href="#m_blk4" x="433.8" y="124.9"/><use href="#m_blk4" x="434.4" y="126.4"/><use href="#m_blk4" x="435.0" y="127.9"/><use href="#m_blk4" x="435.6" y="129.5"/><use href="#m_blk4" x="436.0" y="131.1"/><use href="#m_blk4" x="436.4" y="132.8"/><use href="#m_blk4" x="436.8" y="134.6"/><use href="#m_blk4" x="442.0" y="136.5"/><use href="#m_blk4" x="447.8" y="138.4"/><use href="#m_blk4" x="449.9" y="140.5"/><use href="#m_blk4" x="451.9" y="142.6"/><use href="#m_blk4" x="453.7" y="144.9"/><use href="#m_blk4" x="455.6" y="147.3"/><use href="#m_blk4" x="457.6" y="149.8"/><use href="#m_blk4" x="459.8" y="152.5"/><use href="#m_blk4" x="463.1" y="155.4"/><use href="#m_blk4" x="469.9" y="158.5"/><use href="#m_blk4" x="477.2" y="161.8"/><use href="#m_blk4" x="478.4" y="165.5"/><use href="#m_blk4" x="478.7" y="169.5"/><use href="#m_blk4" x="479.0" y="173.9"/><use href="#m_blk4" x="481.5" y="178.8"/><use href="#m_blk4" x="495.5" y="184.4"/><use href="#m_blk4" x="496.7" y="190.8"/><use href="#m_blk4" x="502.4" y="198.5"/><use href="#m_blk4" x="527.2" y="207.8"/><use href="#m_blk4" x="541.8" y="219.8"/><use href="#m_blk4" x="566.9" y="236.8"/><use href="#m_blk4" x="580.6" y="265.8"/></g><polyline points="46.5,7.7 47.7,7.0 48.7,7.7 49.9,7.5 52.1,7.1 53.3,7.2 54.0,8.1 55.1,7.7 56.7,8.2 58.8,7.5 59.4,8.3 60.8,7.5 62.4,7.7 63.4,7.4 65.2,8.2 66.2,8.6 66.7,8.2 68.3,8.5 70.4,8.0 71.0,8.6 72.6,8.1 73.8,8.6 75.8,9.2 77.2,8.9 77.8,8.7 78.7,9.1 79.4,8.7 80.3,9.1 81.0,9.3 81.5,9.7 82.9,9.4 82.7,9.3 84.4,9.7 85.3,10.1 85.3,9.7 86.1,9.4 86.5,9.7 87.2,10.1 88.8,10.2 89.5,9.9 89.6,10.4 91.0,10.3 90.3,10.0 91.2,10.7 91.4,10.4 92.7,11.3 92.7,11.0 93.4,10.4 93.7,10.6 94.0,11.5 95.1,10.7 94.8,11.6 95.3,11.2 96.0,11.0 96.2,11.2 97.2,12.2 98.1,11.5 98.6,11.7 98.9,11.8 100.0,11.9 100.3,12.4 100.9,12.4 101.4,12.3 101.6,12.6 101.9,12.7 102.5,12.6 103.5,12.9 103.5,12.4 104.0,12.6 104.1,13.0 105.0,12.9 105.1,13.3 105.8,13.3 105.8,13.4 107.0,13.6 107.3,14.1 108.0,14.0 107.5,13.7 108.9,13.6 109.7,13.7 110.1,13.9 110.5,14.7 110.3,14.8 110.5,14.9 111.3,14.5 111.4,14.8 112.1,15.0 113.3,15.0 112.6,15.5 114.4,15.3 114.1,15.3 115.3,15.3 115.6,15.6 115.6,16.0 116.1,15.8 116.0,15.7 116.5,16.1 116.9,15.5 117.6,15.7 118.6,16.0 118.8,16.8 120.2,16.6 120.5,16.9 120.0,17.0 120.3,16.8 120.8,16.5 121.7,17.4 121.4,17.5 121.8,17.3 123.0,17.6 122.1,17.3 122.8,17.3 123.8,17.5 124.0,17.9 124.0,17.3 124.6,18.4 124.2,18.2 125.0,18.0 125.6,18.8 125.0,18.8 125.9,18.9 125.9,18.9 126.2,18.6 127.7,19.0 127.8,18.9 127.7,19.1 128.5,19.4 128.0,19.2 128.8,19.5 129.7,19.9 129.0,19.5 129.3,19.2 129.6,19.5 130.9,20.2 131.3,19.9 130.8,20.8 132.1,20.9 131.3,20.4 132.5,20.9 133.2,20.8 132.9,20.3 133.8,21.5 134.3,21.3 133.9,20.9 134.9,21.8 135.5,21.1 135.3,21.6 135.3,22.0 136.3,22.1 136.2,22.1 136.4,22.1 136.1,22.5 136.2,22.5 136.8,22.5 137.5,22.5 138.2,22.4 137.1,23.3 137.8,22.7 138.2,23.2 139.3,23.4 138.6,23.3 139.1,23.4 139.3,23.2 139.6,23.6 139.6,24.2 140.1,23.6 140.6,24.5 141.2,24.3 141.4,24.2 140.9,24.2 141.4,24.4 141.9,24.3 141.7,24.6 142.1,25.3 142.8,24.8 143.0,25.7 143.5,25.5 143.5,25.2 144.1,25.2 144.6,25.3 144.8,25.8 145.0,26.2 144.6,26.2 144.8,26.1 145.5,26.2 146.2,27.2 146.1,27.1 146.2,27.1 146.6,27.1 146.6,27.5 147.0,27.3 147.5,27.8 148.2,27.7 148.7,27.5 148.0,28.2 148.7,28.4 149.9,28.3 149.0,28.7 150.1,28.2 149.8,28.6 149.9,29.2 151.0,29.2 150.9,29.5 150.8,29.4 151.3,28.8 151.4,29.1 152.6,29.5 152.5,29.9 152.5,30.1 153.4,30.5 153.4,30.6 154.4,30.7 153.9,30.3 153.8,31.0 154.1,30.9 154.9,30.5 154.8,31.5 155.6,31.7 156.4,31.0 156.4,31.1 156.4,31.7 157.4,32.0 156.7,32.1 157.4,31.9 157.5,32.8 158.7,32.8 157.7,33.1 158.6,33.2 158.5,32.6 159.9,32.9 159.0,33.3 160.6,33.9 160.1,34.2 161.0,34.2 161.1,33.9 161.8,34.1 162.2,34.4 162.5,34.4 162.2,34.7 162.3,34.4 163.1,35.4 163.0,35.5 164.0,35.6 163.8,36.0 164.7,35.7 164.1,35.9 164.3,36.4 165.1,36.0 165.7,36.5 166.1,36.5 166.6,37.1 166.6,36.9 167.5,36.5 166.9,37.0 167.4,37.8 167.6,37.1 168.2,37.8 169.3,38.5 169.7,38.2 168.9,37.8 170.1,38.8 169.9,39.2 170.5,38.9 170.8,38.5 170.4,39.7 170.8,38.9 171.0,39.8 171.3,39.4 171.5,39.9 172.4,39.9 172.8,40.9 173.0,40.1 172.5,41.2 173.5,40.5 173.2,41.0 173.9,40.8 173.5,41.8 174.5,41.2 174.4,42.1 175.0,42.0 175.4,42.0 174.5,42.1 175.4,42.3 175.2,42.6 175.1,43.6 175.8,43.8 176.6,43.2 177.1,43.2 177.5,43.4 176.7,44.2 176.6,44.6 177.0,44.9 177.2,44.8 177.7,44.7 178.4,45.1 178.5,45.6 178.5,45.3 179.4,45.6 180.1,46.0 179.7,45.7 179.3,46.1 180.5,46.9 181.4,46.9 181.4,47.0 180.9,47.3 182.1,48.0 182.8,48.2 182.7,48.1 182.9,48.3 183.6,48.6 184.2,48.7 184.0,49.4 184.7,49.3 184.9,49.8 185.4,49.5 185.3,50.1 185.4,50.2 187.0,50.1 186.9,50.9 188.1,51.2 188.2,51.1 188.4,51.6 188.8,52.0 188.8,52.2 190.4,52.0 189.9,52.3 191.2,53.0 192.1,52.6 191.5,52.8 193.1,53.6 192.3,53.9 193.8,54.1 193.1,54.8 194.1,54.2 194.6,54.8 194.6,54.9 194.6,55.3 195.3,55.6 196.1,55.4 195.6,56.7 196.5,56.6 196.9,56.4 196.9,56.7 197.0,57.8 198.2,58.0 197.5,58.1 198.1,58.2 198.9,57.9 198.7,58.8 199.6,59.1 199.0,59.5 199.6,59.4 199.8,59.7 199.3,60.1 199.7,60.6 200.5,61.3 201.1,61.5 201.6,61.3 201.0,61.5 200.9,62.2 201.7,62.1 202.5,63.3 201.6,62.6 201.8,63.7 203.2,63.3 202.3,64.2 203.0,63.9 202.8,64.5 203.4,64.9 204.2,65.2 204.0,65.5 205.2,65.9 205.1,66.5 205.0,66.8 204.9,66.9 206.1,67.9 205.8,67.7 207.0,67.9 207.2,69.2 206.6,69.5 206.9,69.0 207.4,69.7 208.2,70.2 208.8,70.9 208.2,70.8 209.4,71.1 210.0,72.2 209.4,72.1 209.7,72.6 210.1,72.6 210.4,73.2 210.9,73.9 212.0,74.6 212.0,75.3 212.1,75.2 212.2,76.1 213.5,76.6 213.5,76.2 213.1,77.4 214.7,77.6 215.1,78.5 215.6,78.3 215.9,78.8 216.6,79.4 216.9,79.5 217.8,80.5 219.6,81.2 219.4,81.4 220.9,81.5 220.9,82.6 221.8,83.2 222.3,83.9 223.1,84.0 224.1,85.0 225.3,85.6 225.6,85.2 225.5,86.3 227.3,87.1 226.9,87.3 228.7,88.1 229.2,89.1 229.9,89.4 230.6,89.7 230.6,91.0 231.4,90.9 233.0,92.3 233.3,92.2 235.1,92.9 235.4,93.7 235.9,95.0 238.1,94.7 238.5,95.5 240.1,97.1 241.1,97.1 242.6,98.2 244.3,99.0 244.9,99.7 244.8,100.9 245.5,101.3 246.0,102.0 246.5,103.0 247.1,103.8 247.7,104.7 248.3,105.6 248.9,106.5 249.6,107.5 250.3,108.4 251.3,109.4 252.3,110.4 253.3,111.5 254.3,112.5 255.4,113.6 256.6,114.7 257.7,115.9 258.9,117.1 260.1,118.3 261.0,119.5 262.0,120.8 262.9,122.1 263.7,123.5 264.4,124.9 265.0,126.4 265.7,127.9 266.4,129.5 267.2,131.1 268.3,132.8 270.1,134.6 272.0,136.5 273.9,138.4 275.9,140.5 278.0,142.6 279.9,144.9 281.8,147.3 283.9,149.8 285.9,152.5 288.0,155.4 290.9,158.5 293.9,161.8 297.0,165.5 300.0,169.5 301.0,173.9 302.1,178.8 303.6,184.4 308.0,190.8 318.6,198.5 328.8,207.8 346.0,219.8 346.8,236.8 348.8,265.8" fill="none" stroke="#f00" stroke-width="1.25" clip-path="url(#pc)"/><g><use href="#m_red4" x="55.1" y="7.7"/><use href="#m_red4" x="56.7" y="8.2"/><use href="#m_red4" x="58.8" y="7.5"/><use href="#m_red4" x="59.4" y="8.3"/><use href="#m_red4" x="60.8" y="7.5"/><use href="#m_red4" x="62.4" y="7.7"/><use href="#m_red4" x="63.4" y="7.4"/><use href="#m_red4" x="65.2" y="8.2"/><use href="#m_red4" x="66.2" y="8.6"/><use href="#m_red4" x="66.7" y="8.2"/><use href="#m_red4" x="68.3" y="8.5"/><use href="#m_red4" x="70.4" y="8.0"/><use href="#m_red4" x="71.0" y="8.6"/><use href="#m_red4" x="72.6" y="8.1"/><use href="#m_red4" x="73.8" y="8.6"/><use href="#m_red4" x="75.8" y="9.2"/><use href="#m_red4" x="77.2" y="8.9"/><use href="#m_red4" x="77.8" y="8.7"/><use href="#m_red4" x="78.7" y="9.1"/><use href="#m_red4" x="79.4" y="8.7"/><use href="#m_red4" x="80.3" y="9.1"/><use href="#m_red4" x="81.0" y="9.3"/><use href="#m_red4" x="81.5" y="9.7"/><use href="#m_red4" x="82.9" y="9.4"/><use href="#m_red4" x="82.7" y="9.3"/><use href="#m_red4" x="84.4" y="9.7"/><use href="#m_red4" x="85.3" y="10.1"/><use href="#m_red4" x="85.3" y="9.7"/><use href="#m_red4" x="86.1" y="9.4"/><use href="#m_red4" x="86.5" y="9.7"/><use href="#m_red4" x="87.2" y="10.1"/><use href="#m_red4" x="88.8" y="10.2"/><use href="#m_red4" x="89.5" y="9.9"/><use href="#m_red4" x="89.6" y="10.4"/><use href="#m_red4" x="91.0" y="10.3"/><use href="#m_red4" x="90.3" y="10.0"/><use href="#m_red4" x="91.2" y="10.7"/><use href="#m_red4" x="91.4" y="10.4"/><use href="#m_red4" x="92.7" y="11.3"/><use href="#m_red4" x="92.7" y="11.0"/><use href="#m_red4" x="93.4" y="10.4"/><use href="#m_red4" x="93.7" y="10.6"/><use href="#m_red4" x="94.0" y="11.5"/><use href="#m_red4" x="95.1" y="10.7"/><use href="#m_red4" x="94.8" y="11.6"/><use href="#m_red4" x="95.3" y="11.2"/><use href="#m_red4" x="96.0" y="11.0"/><use href="#m_red4" x="96.2" y="11.2"/><use href="#m_red4" x="97.2" y="12.2"/><use href="#m_red4" x="98.1" y="11.5"/><use href="#m_red4" x="98.6" y="11.7"/><use href="#m_red4" x="98.9" y="11.8"/><use href="#m_red4" x="100.0" y="11.9"/><use href="#m_red4" x="100.3" y="12.4"/><use href="#m_red4" x="100.9" y="12.4"/><use href="#m_red4" x="101.4" y="12.3"/><use href="#m_red4" x="101.6" y="12.6"/><use href="#m_red4" x="101.9" y="12.7"/><use href="#m_red4" x="102.5" y="12.6"/><use href="#m_red4" x="103.5" y="12.9"/><use href="#m_red4" x="103.5" y="12.4"/><use href="#m_red4" x="104.0" y="12.6"/><use href="#m_red4" x="104.1" y="13.0"/><use href="#m_red4" x="105.0" y="12.9"/><use href="#m_red4" x="105.1" y="13.3"/><use href="#m_red4" x="105.8" y="13.3"/><use href="#m_red4" x="105.8" y="13.4"/><use href="#m_red4" x="107.0" y="13.6"/><use href="#m_red4" x="107.3" y="14.1"/><use href="#m_red4" x="108.0" y="14.0"/><use href="#m_red4" x="107.5" y="13.7"/><use href="#m_red4" x="108.9" y="13.6"/><use href="#m_red4" x="109.7" y="13.7"/><use href="#m_red4" x="110.1" y="13.9"/><use href="#m_red4" x="110.5" y="14.7"/><use href="#m_red4" x="110.3" y="14.8"/><use href="#m_red4" x="110.5" y="14.9"/><use href="#m_red4" x="111.3" y="14.5"/><use href="#m_red4" x="111.4" y="14.8"/><use href="#m_red4" x="112.1" y="15.0"/><use href="#m_red4" x="113.3" y="15.0"/><use href="#m_red4" x="112.6" y="15.5"/><use href="#m_red4" x="114.4" y="15.3"/><use href="#m_red4" x="114.1" y="15.3"/><use href="#m_red4" x="115.3" y="15.3"/><use href="#m_red4" x="115.6" y="15.6"/><use href="#m_red4" x="115.6" y="16.0"/><use href="#m_red4" x="116.1" y="15.8"/><use href="#m_red4" x="116.0" y="15.7"/><use href="#m_red4" x="116.5" y="16.1"/><use href="#m_red4" x="116.9" y="15.5"/><use href="#m_red4" x="117.6" y="15.7"/><use href="#m_red4" x="118.6" y="16.0"/><use href="#m_red4" x="118.8" y="16.8"/><use href="#m_red4" x="120.2" y="16.6"/><use href="#m_red4" x="120.5" y="16.9"/><use href="#m_red4" x="120.0" y="17.0"/><use href="#m_red4" x="120.3" y="16.8"/><use href="#m_red4" x="120.8" y="16.5"/><use href="#m_red4" x="121.7" y="17.4"/><use href="#m_red4" x="121.4" y="17.5"/><use href="#m_red4" x="121.8" y="17.3"/><use href="#m_red4" x="123.0" y="17.6"/><use href="#m_red4" x="122.1" y="17.3"/><use href="#m_red4" x="122.8" y="17.3"/><use href="#m_red4" x="123.8" y="17.5"/><use href="#m_red4" x="124.0" y="17.9"/><use href="#m_red4" x="124.0" y="17.3"/><use href="#m_red4" x="124.6" y="18.4"/><use href="#m_red4" x="124.2" y="18.2"/><use href="#m_red4" x="125.0" y="18.0"/><use href="#m_red4" x="125.6" y="18.8"/><use href="#m_red4" x="125.0" y="18.8"/><use href="#m_red4" x="125.9" y="18.9"/><use href="#m_red4" x="125.9" y="18.9"/><use href="#m_red4" x="126.2" y="18.6"/><use href="#m_red4" x="127.7" y="19.0"/><use href="#m_red4" x="127.8" y="18.9"/><use href="#m_red4" x="127.7" y="19.1"/><use href="#m_red4" x="128.5" y="19.4"/><use href="#m_red4" x="128.0" y="19.2"/><use href="#m_red4" x="128.8" y="19.5"/><use href="#m_red4" x="129.7" y="19.9"/><use href="#m_red4" x="129.0" y="19.5"/><use href="#m_red4" x="129.3" y="19.2"/><use href="#m_red4" x="129.6" y="19.5"/><use href="#m_red4" x="130.9" y="20.2"/><use href="#m_red4" x="131.3" y="19.9"/><use href="#m_red4" x="130.8" y="20.8"/><use href="#m_red4" x="132.1" y="20.9"/><use href="#m_red4" x="131.3" y="20.4"/><use href="#m_red4" x="132.5" y="20.9"/><use href="#m_red4" x="133.2" y="20.8"/><use href="#m_red4" x="132.9" y="20.3"/><use href="#m_red4" x="133.8" y="21.5"/><use href="#m_red4" x="134.3" y="21.3"/><use href="#m_red4" x="133.9" y="20.9"/><use href="#m_red4" x="134.9" y="21.8"/><use href="#m_red4" x="135.5" y="21.1"/><use href="#m_red4" x="135.3" y="21.6"/><use href="#m_red4" x="135.3" y="22.0"/><use href="#m_red4" x="136.3" y="22.1"/><use href="#m_red4" x="136.2" y="22.1"/><use href="#m_red4" x="136.4" y="22.1"/><use href="#m_red4" x="136.1" y="22.5"/><use href="#m_red4" x="136.2" y="22.5"/><use href="#m_red4" x="136.8" y="22.5"/><use href="#m_red4" x="137.5" y="22.5"/><use href="#m_red4" x="138.2" y="22.4"/><use href="#m_red4" x="137.1" y="23.3"/><use href="#m_red4" x="137.8" y="22.7"/><use href="#m_red4" x="138.2" y="23.2"/><use href="#m_red4" x="139.3" y="23.4"/><use href="#m_red4" x="138.6" y="23.3"/><use href="#m_red4" x="139.1" y="23.4"/><use href="#m_red4" x="139.3" y="23.2"/><use href="#m_red4" x="139.6" y="23.6"/><use href="#m_red4" x="139.6" y="24.2"/><use href="#m_red4" x="140.1" y="23.6"/><use href="#m_red4" x="140.6" y="24.5"/><use href="#m_red4" x="141.2" y="24.3"/><use href="#m_red4" x="141.4" y="24.2"/><use href="#m_red4" x="140.9" y="24.2"/><use href="#m_red4" x="141.4" y="24.4"/><use href="#m_red4" x="141.9" y="24.3"/><use href="#m_red4" x="141.7" y="24.6"/><use href="#m_red4" x="142.1" y="25.3"/><use href="#m_red4" x="142.8" y="24.8"/><use href="#m_red4" x="143.0" y="25.7"/><use href="#m_red4" x="143.5" y="25.5"/><use href="#m_red4" x="143.5" y="25.2"/><use href="#m_red4" x="144.1" y="25.2"/><use href="#m_red4" x="144.6" y="25.3"/><use href="#m_red4" x="144.8" y="25.8"/><use href="#m_red4" x="145.0" y="26.2"/><use href="#m_red4" x="144.6" y="26.2"/><use href="#m_red4" x="144.8" y="26.1"/><use href="#m_red4" x="145.5" y="26.2"/><use href="#m_red4" x="146.2" y="27.2"/><use href="#m_red4" x="146.1" y="27.1"/><use href="#m_red4" x="146.2" y="27.1"/><use href="#m_red4" x="146.6" y="27.1"/><use href="#m_red4" x="146.6" y="27.5"/><use href="#m_red4" x="147.0" y="27.3"/><use href="#m_red4" x="147.5" y="27.8"/><use href="#m_red4" x="148.2" y="27.7"/><use href="#m_red4" x="148.7" y="27.5"/><use href="#m_red4" x="148.0" y="28.2"/><use href="#m_red4" x="148.7" y="28.4"/><use href="#m_red4" x="149.9" y="28.3"/><use href="#m_red4" x="149.0" y="28.7"/><use href="#m_red4" x="150.1" y="28.2"/><use href="#m_red4" x="149.8" y="28.6"/><use href="#m_red4" x="149.9" y="29.2"/><use href="#m_red4" x="151.0" y="29.2"/><use href="#m_red4" x="150.9" y="29.5"/><use href="#m_red4" x="150.8" y="29.4"/><use href="#m_red4" x="151.3" y="28.8"/><use href="#m_red4" x="151.4" y="29.1"/><use href="#m_red4" x="152.6" y="29.5"/><use href="#m_red4" x="152.5" y="29.9"/><use href="#m_red4" x="152.5" y="30.1"/><use href="#m_red4" x="153.4" y="30.5"/><use href="#m_red4" x="153.4" y="30.6"/><use href="#m_red4" x="154.4" y="30.7"/><use href="#m_red4" x="153.9" y="30.3"/><use href="#m_red4" x="153.8" y="31.0"/><use href="#m_red4" x="154.1" y="30.9"/><use href="#m_red4" x="154.9" y="30.5"/><use href="#m_red4" x="154.8" y="31.5"/><use href="#m_red4" x="155.6" y="31.7"/><use href="#m_red4" x="156.4" y="31.0"/><use href="#m_red4" x="156.4" y="31.1"/><use href="#m_red4" x="156.4" y="31.7"/><use href="#m_red4" x="157.4" y="32.0"/><use href="#m_red4" x="156.7" y="32.1"/><use href="#m_red4" x="157.4" y="31.9"/><use href="#m_red4" x="157.5" y="32.8"/><use href="#m_red4" x="158.7" y="32.8"/><use href="#m_red4" x="157.7" y="33.1"/><use href="#m_red4" x="158.6" y="33.2"/><use href="#m_red4" x="158.5" y="32.6"/><use href="#m_red4" x="159.9" y="32.9"/><use href="#m_red4" x="159.0" y="33.3"/><use href="#m_red4" x="160.6" y="33.9"/><use href="#m_red4" x="160.1" y="34.2"/><use href="#m_red4" x="161.0" y="34.2"/><use href="#m_red4" x="161.1" y="33.9"/><use href="#m_red4" x="161.8" y="34.1"/><use href="#m_red4" x="162.2" y="34.4"/><use href="#m_red4" x="162.5" y="34.4"/><use href="#m_red4" x="162.2" y="34.7"/><use href="#m_red4" x="162.3" y="34.4"/><use href="#m_red4" x="163.1" y="35.4"/><use href="#m_red4" x="163.0" y="35.5"/><use href="#m_red4" x="164.0" y="35.6"/><use href="#m_red4" x="163.8" y="36.0"/><use href="#m_red4" x="164.7" y="35.7"/><use href="#m_red4" x="164.1" y="35.9"/><use href="#m_red4" x="164.3" y="36.4"/><use href="#m_red4" x="165.1" y="36.0"/><use href="#m_red4" x="165.7" y="36.5"/><use href="#m_red4" x="166.1" y="36.5"/><use href="#m_red4" x="166.6" y="37.1"/><use href="#m_red4" x="166.6" y="36.9"/><use href="#m_red4" x="167.5" y="36.5"/><use href="#m_red4" x="166.9" y="37.0"/><use href="#m_red4" x="167.4" y="37.8"/><use href="#m_red4" x="167.6" y="37.1"/><use href="#m_red4" x="168.2" y="37.8"/><use href="#m_red4" x="169.3" y="38.5"/><use href="#m_red4" x="169.7" y="38.2"/><use href="#m_red4" x="168.9" y="37.8"/><use href="#m_red4" x="170.1" y="38.8"/><use href="#m_red4" x="169.9" y="39.2"/><use href="#m_red4" x="170.5" y="38.9"/><use href="#m_red4" x="170.8" y="38.5"/><use href="#m_red4" x="170.4" y="39.7"/><use href="#m_red4" x="170.8" y="38.9"/><use href="#m_red4" x="171.0" y="39.8"/><use href="#m_red4" x="171.3" y="39.4"/><use href="#m_red4" x="171.5" y="39.9"/><use href="#m_red4" x="172.4" y="39.9"/><use href="#m_red4" x="172.8" y="40.9"/><use href="#m_red4" x="173.0" y="40.1"/><use href="#m_red4" x="172.5" y="41.2"/><use href="#m_red4" x="173.5" y="40.5"/><use href="#m_red4" x="173.2" y="41.0"/><use href="#m_red4" x="173.9" y="40.8"/><use href="#m_red4" x="173.5" y="41.8"/><use href="#m_red4" x="174.5" y="41.2"/><use href="#m_red4" x="174.4" y="42.1"/><use href="#m_red4" x="175.0" y="42.0"/><use href="#m_red4" x="175.4" y="42.0"/><use href="#m_red4" x="174.5" y="42.1"/><use href="#m_red4" x="175.4" y="42.3"/><use href="#m_red4" x="175.2" y="42.6"/><use href="#m_red4" x="175.1" y="43.6"/><use href="#m_red4" x="175.8" y="43.8"/><use href="#m_red4" x="176.6" y="43.2"/><use href="#m_red4" x="177.1" y="43.2"/><use href="#m_red4" x="177.5" y="43.4"/><use href="#m_red4" x="176.7" y="44.2"/><use href="#m_red4" x="176.6" y="44.6"/><use href="#m_red4" x="177.0" y="44.9"/><use href="#m_red4" x="177.2" y="44.8"/><use href="#m_red4" x="177.7" y="44.7"/><use href="#m_red4" x="178.4" y="45.1"/><use href="#m_red4" x="178.5" y="45.6"/><use href="#m_red4" x="178.5" y="45.3"/><use href="#m_red4" x="179.4" y="45.6"/><use href="#m_red4" x="180.1" y="46.0"/><use href="#m_red4" x="179.7" y="45.7"/><use href="#m_red4" x="179.3" y="46.1"/><use href="#m_red4" x="180.5" y="46.9"/><use href="#m_red4" x="181.4" y="46.9"/><use href="#m_red4" x="181.4" y="47.0"/><use href="#m_red4" x="180.9" y="47.3"/><use href="#m_red4" x="182.1" y="48.0"/><use href="#m_red4" x="182.8" y="48.2"/><use href="#m_red4" x="182.7" y="48.1"/><use href="#m_red4" x="182.9" y="48.3"/><use href="#m_red4" x="183.6" y="48.6"/><use href="#m_red4" x="184.2" y="48.7"/><use href="#m_red4" x="184.0" y="49.4"/><use href="#m_red4" x="184.7" y="49.3"/><use href="#m_red4" x="184.9" y="49.8"/><use href="#m_red4" x="185.4" y="49.5"/><use href="#m_red4" x="185.3" y="50.1"/><use href="#m_red4" x="185.4" y="50.2"/><use href="#m_red4" x="187.0" y="50.1"/><use href="#m_red4" x="186.9" y="50.9"/><use href="#m_red4" x="188.1" y="51.2"/><use href="#m_red4" x="188.2" y="51.1"/><use href="#m_red4" x="188.4" y="51.6"/><use href="#m_red4" x="188.8" y="52.0"/><use href="#m_red4" x="188.8" y="52.2"/><use href="#m_red4" x="190.4" y="52.0"/><use href="#m_red4" x="189.9" y="52.3"/><use href="#m_red4" x="191.2" y="53.0"/><use href="#m_red4" x="192.1" y="52.6"/><use href="#m_red4" x="191.5" y="52.8"/><use href="#m_red4" x="193.1" y="53.6"/><use href="#m_red4" x="192.3" y="53.9"/><use href="#m_red4" x="193.8" y="54.1"/><use href="#m_red4" x="193.1" y="54.8"/><use href="#m_red4" x="194.1" y="54.2"/><use href="#m_red4" x="194.6" y="54.8"/><use href="#m_red4" x="194.6" y="54.9"/><use href="#m_red4" x="194.6" y="55.3"/><use href="#m_red4" x="195.3" y="55.6"/><use href="#m_red4" x="196.1" y="55.4"/><use href="#m_red4" x="195.6" y="56.7"/><use href="#m_red4" x="196.5" y="56.6"/><use href="#m_red4" x="196.9" y="56.4"/><use href="#m_red4" x="196.9" y="56.7"/><use href="#m_red4" x="197.0" y="57.8"/><use href="#m_red4" x="198.2" y="58.0"/><use href="#m_red4" x="197.5" y="58.1"/><use href="#m_red4" x="198.1" y="58.2"/><use href="#m_red4" x="198.9" y="57.9"/><use href="#m_red4" x="198.7" y="58.8"/><use href="#m_red4" x="199.6" y="59.1"/><use href="#m_red4" x="199.0" y="59.5"/><use href="#m_red4" x="199.6" y="59.4"/><use href="#m_red4" x="199.8" y="59.7"/><use href="#m_red4" x="199.3" y="60.1"/><use href="#m_red4" x="199.7" y="60.6"/><use href="#m_red4" x="200.5" y="61.3"/><use href="#m_red4" x="201.1" y="61.5"/><use href="#m_red4" x="201.6" y="61.3"/><use href="#m_red4" x="201.0" y="61.5"/><use href="#m_red4" x="200.9" y="62.2"/><use href="#m_red4" x="201.7" y="62.1"/><use href="#m_red4" x="202.5" y="63.3"/><use href="#m_red4" x="201.6" y="62.6"/><use href="#m_red4" x="201.8" y="63.7"/><use href="#m_red4" x="203.2" y="63.3"/><use href="#m_red4" x="202.3" y="64.2"/><use href="#m_red4" x="203.0" y="63.9"/><use href="#m_red4" x="202.8" y="64.5"/><use href="#m_red4" x="203.4" y="64.9"/><use href="#m_red4" x="204.2" y="65.2"/><use href="#m_red4" x="204.0" y="65.5"/><use href="#m_red4" x="205.2" y="65.9"/><use href="#m_red4" x="205.1" y="66.5"/><use href="#m_red4" x="205.0" y="66.8"/><use href="#m_red4" x="204.9" y="66.9"/><use href="#m_red4" x="206.1" y="67.9"/><use href="#m_red4" x="205.8" y="67.7"/><use href="#m_red4" x="207.0" y="67.9"/><use href="#m_red4" x="207.2" y="69.2"/><use href="#m_red4" x="206.6" y="69.5"/><use href="#m_red4" x="206.9" y="69.0"/><use href="#m_red4" x="207.4" y="69.7"/><use href="#m_red4" x="208.2" y="70.2"/><use href="#m_red4" x="208.8" y="70.9"/><use href="#m_red4" x="208.2" y="70.8"/><use href="#m_red4" x="209.4" y="71.1"/><use href="#m_red4" x="210.0" y="72.2"/><use href="#m_red4" x="209.4" y="72.1"/><use href="#m_red4" x="209.7" y="72.6"/><use href="#m_red4" x="210.1" y="72.6"/><use href="#m_red4" x="210.4" y="73.2"/><use href="#m_red4" x="210.9" y="73.9"/><use href="#m_red4" x="212.0" y="74.6"/><use href="#m_red4" x="212.0" y="75.3"/><use href="#m_red4" x="212.1" y="75.2"/><use href="#m_red4" x="212.2" y="76.1"/><use href="#m_red4" x="213.5" y="76.6"/><use href="#m_red4" x="213.5" y="76.2"/><use href="#m_red4" x="213.1" y="77.4"/><use href="#m_red4" x="214.7" y="77.6"/><use href="#m_red4" x="215.1" y="78.5"/><use href="#m_red4" x="215.6" y="78.3"/><use href="#m_red4" x="215.9" y="78.8"/><use href="#m_red4" x="216.6" y="79.4"/><use href="#m_red4" x="216.9" y="79.5"/><use href="#m_red4" x="217.8" y="80.5"/><use href="#m_red4" x="219.6" y="81.2"/><use href="#m_red4" x="219.4" y="81.4"/><use href="#m_red4" x="220.9" y="81.5"/><use href="#m_red4" x="220.9" y="82.6"/><use href="#m_red4" x="221.8" y="83.2"/><use href="#m_red4" x="222.3" y="83.9"/><use href="#m_red4" x="223.1" y="84.0"/><use href="#m_red4" x="224.1" y="85.0"/><use href="#m_red4" x="225.3" y="85.6"/><use href="#m_red4" x="225.6" y="85.2"/><use href="#m_red4" x="225.5" y="86.3"/><use href="#m_red4" x="227.3" y="87.1"/><use href="#m_red4" x="226.9" y="87.3"/><use href="#m_red4" x="228.7" y="88.1"/><use href="#m_red4" x="229.2" y="89.1"/><use href="#m_red4" x="229.9" y="89.4"/><use href="#m_red4" x="230.6" y="89.7"/><use href="#m_red4" x="230.6" y="91.0"/><use href="#m_red4" x="231.4" y="90.9"/><use href="#m_red4" x="233.0" y="92.3"/><use href="#m_red4" x="233.3" y="92.2"/><use href="#m_red4" x="235.1" y="92.9"/><use href="#m_red4" x="235.4" y="93.7"/><use href="#m_red4" x="235.9" y="95.0"/><use href="#m_red4" x="238.1" y="94.7"/><use href="#m_red4" x="238.5" y="95.5"/><use href="#m_red4" x="240.1" y="97.1"/><use href="#m_red4" x="241.1" y="97.1"/><use href="#m_red4" x="242.6" y="98.2"/><use href="#m_red4" x="244.3" y="99.0"/><use href="#m_red4" x="244.9" y="99.7"/><use href="#m_red4" x="244.8" y="100.9"/><use href="#m_red4" x="245.5" y="101.3"/><use href="#m_red4" x="246.0" y="102.0"/><use href="#m_red4" x="246.5" y="103.0"/><use href="#m_red4" x="247.1" y="103.8"/><use href="#m_red4" x="247.7" y="104.7"/><use href="#m_red4" x="248.3" y="105.6"/><use href="#m_red4" x="248.9" y="106.5"/><use href="#m_red4" x="249.6" y="107.5"/><use href="#m_red4" x="250.3" y="108.4"/><use href="#m_red4" x="251.3" y="109.4"/><use href="#m_red4" x="252.3" y="110.4"/><use href="#m_red4" x="253.3" y="111.5"/><use href="#m_red4" x="254.3" y="112.5"/><use href="#m_red4" x="255.4" y="113.6"/><use href="#m_red4" x="256.6" y="114.7"/><use href="#m_red4" x="257.7" y="115.9"/><use href="#m_red4" x="258.9" y="117.1"/><use href="#m_red4" x="260.1" y="118.3"/><use href="#m_red4" x="261.0" y="119.5"/><use href="#m_red4" x="262.0" y="120.8"/><use href="#m_red4" x="262.9" y="122.1"/><use href="#m_red4" x="263.7" y="123.5"/><use href="#m_red4" x="264.4" y="124.9"/><use href="#m_red4" x="265.0" y="126.4"/><use href="#m_red4" x="265.7" y="127.9"/><use href="#m_red4" x="266.4" y="129.5"/><use href="#m_red4" x="267.2" y="131.1"/><use href="#m_red4" x="268.3" y="132.8"/><use href="#m_red4" x="270.1" y="134.6"/><use href="#m_red4" x="272.0" y="136.5"/><use href="#m_red4" x="273.9" y="138.4"/><use href="#m_red4" x="275.9" y="140.5"/><use href="#m_red4" x="278.0" y="142.6"/><use href="#m_red4" x="279.9" y="144.9"/><use href="#m_red4" x="281.8" y="147.3"/><use href="#m_red4" x="283.9" y="149.8"/><use href="#m_red4" x="285.9" y="152.5"/><use href="#m_red4" x="288.0" y="155.4"/><use href="#m_red4" x="290.9" y="158.5"/><use href="#m_red4" x="293.9" y="161.8"/><use href="#m_red4" x="297.0" y="165.5"/><use href="#m_red4" x="300.0" y="169.5"/><use href="#m_red4" x="301.0" y="173.9"/><use href="#m_red4" x="302.1" y="178.8"/><use href="#m_red4" x="303.6" y="184.4"/><use href="#m_red4" x="308.0" y="190.8"/><use href="#m_red4" x="318.6" y="198.5"/><use href="#m_red4" x="328.8" y="207.8"/><use href="#m_red4" x="346.0" y="219.8"/><use href="#m_red4" x="346.8" y="236.8"/><use href="#m_red4" x="348.8" y="265.8"/></g><polyline points="50.1,36.0 50.2,36.6 50.5,36.7 50.8,37.1 51.0,37.5 51.7,38.0 52.2,38.1 52.5,38.5 52.7,39.1 53.4,39.5 53.9,39.5 53.9,40.1 54.2,40.3 54.8,40.9 55.0,41.1 55.6,41.8 56.0,42.3 56.3,42.7 56.6,42.9 56.8,43.1 56.9,43.8 57.6,43.9 57.5,44.5 57.9,45.1 58.1,45.3 58.6,46.1 58.8,46.3 58.9,46.7 59.8,47.0 59.7,47.7 60.5,48.1 61.1,48.6 61.5,48.9 62.2,49.5 62.9,50.1 63.4,50.4 64.4,51.2 64.8,51.5 65.6,52.0 66.3,52.4 67.4,53.0 68.6,53.6 69.5,54.0 70.2,54.6 71.7,55.2 72.4,55.7 72.8,56.3 73.7,56.7 74.1,57.4 74.4,57.7 75.1,58.4 75.3,59.0 76.2,59.9 76.5,60.5 76.8,60.9 77.2,61.4 78.3,61.9 78.7,62.8 79.4,63.7 79.4,64.0 80.5,64.7 80.6,65.7 81.5,66.1 82.0,66.9 82.6,67.7 83.2,68.4 84.4,69.2 85.1,69.8 85.5,70.5 86.8,71.3 87.3,72.4 88.5,73.2 89.3,74.1 90.3,75.0 91.2,75.8 92.3,76.6 93.4,77.4 94.0,78.7 94.4,79.3 95.6,80.4 95.9,81.6 96.9,82.3 97.4,82.8 98.1,83.6 98.9,83.9 99.8,84.5 100.6,85.1 101.4,85.5 101.8,86.3 103.1,86.9 103.7,87.9 104.6,89.2 105.6,90.6 106.3,91.6 106.9,93.4 107.6,93.7 108.2,94.4 108.4,95.4 108.6,95.7 109.6,96.5 110.9,97.3 112.1,97.9 113.5,98.9 114.8,99.6 115.7,100.4 116.3,101.2 116.7,102.1 117.7,103.8 118.3,105.6 118.6,107.5 118.9,109.4 119.5,111.5 120.2,113.6 121.5,115.9 125.2,118.3 126.5,120.8 126.9,123.5 127.2,126.4 128.3,129.5 129.4,132.8 130.4,136.5 131.3,140.5 141.8,144.9 142.5,149.8 144.9,155.4 155.4,161.8 161.9,169.5 173.9,178.8 179.3,190.8 182.5,207.8 189.6,236.8" fill="none" stroke="#00f" stroke-width="1.25" clip-path="url(#pc)"/><g><use href="#m_blu2" x="53.4" y="39.5"/><use href="#m_blu2" x="53.9" y="39.5"/><use href="#m_blu2" x="53.9" y="40.1"/><use href="#m_blu2" x="54.2" y="40.3"/><use href="#m_blu2" x="54.8" y="40.9"/><use href="#m_blu2" x="55.0" y="41.1"/><use href="#m_blu2" x="55.6" y="41.8"/><use href="#m_blu2" x="56.0" y="42.3"/><use href="#m_blu2" x="56.3" y="42.7"/><use href="#m_blu2" x="56.6" y="42.9"/><use href="#m_blu2" x="56.8" y="43.1"/><use href="#m_blu2" x="56.9" y="43.8"/><use href="#m_blu2" x="57.6" y="43.9"/><use href="#m_blu2" x="57.5" y="44.5"/><use href="#m_blu2" x="57.9" y="45.1"/><use href="#m_blu2" x="58.1" y="45.3"/><use href="#m_blu2" x="58.6" y="46.1"/><use href="#m_blu2" x="58.8" y="46.3"/><use href="#m_blu2" x="58.9" y="46.7"/><use href="#m_blu2" x="59.8" y="47.0"/><use href="#m_blu2" x="59.7" y="47.7"/><use href="#m_blu2" x="60.5" y="48.1"/><use href="#m_blu2" x="61.1" y="48.6"/><use href="#m_blu2" x="61.5" y="48.9"/><use href="#m_blu2" x="62.2" y="49.5"/><use href="#m_blu2" x="62.9" y="50.1"/><use href="#m_blu2" x="63.4" y="50.4"/><use href="#m_blu2" x="64.4" y="51.2"/><use href="#m_blu2" x="64.8" y="51.5"/><use href="#m_blu2" x="65.6" y="52.0"/><use href="#m_blu2" x="66.3" y="52.4"/><use href="#m_blu2" x="67.4" y="53.0"/><use href="#m_blu2" x="68.6" y="53.6"/><use href="#m_blu2" x="69.5" y="54.0"/><use href="#m_blu2" x="70.2" y="54.6"/><use href="#m_blu2" x="71.7" y="55.2"/><use href="#m_blu2" x="72.4" y="55.7"/><use href="#m_blu2" x="72.8" y="56.3"/><use href="#m_blu2" x="73.7" y="56.7"/><use href="#m_blu2" x="74.1" y="57.4"/><use href="#m_blu2" x="74.4" y="57.7"/><use href="#m_blu2" x="75.1" y="58.4"/><use href="#m_blu2" x="75.3" y="59.0"/><use href="#m_blu2" x="76.2" y="59.9"/><use href="#m_blu2" x="76.5" y="60.5"/><use href="#m_blu2" x="76.8" y="60.9"/><use href="#m_blu2" x="77.2" y="61.4"/><use href="#m_blu2" x="78.3" y="61.9"/><use href="#m_blu2" x="78.7" y="62.8"/><use href="#m_blu2" x="79.4" y="63.7"/><use href="#m_blu2" x="79.4" y="64.0"/><use href="#m_blu2" x="80.5" y="64.7"/><use href="#m_blu2" x="80.6" y="65.7"/><use href="#m_blu2" x="81.5" y="66.1"/><use href="#m_blu2" x="82.0" y="66.9"/><use href="#m_blu2" x="82.6" y="67.7"/><use href="#m_blu2" x="83.2" y="68.4"/><use href="#m_blu2" x="84.4" y="69.2"/><use href="#m_blu2" x="85.1" y="69.8"/><use href="#m_blu2" x="85.5" y="70.5"/><use href="#m_blu2" x="86.8" y="71.3"/><use href="#m_blu2" x="87.3" y="72.4"/><use href="#m_blu2" x="88.5" y="73.2"/><use href="#m_blu2" x="89.3" y="74.1"/><use href="#m_blu2" x="90.3" y="75.0"/><use href="#m_blu2" x="91.2" y="75.8"/><use href="#m_blu2" x="92.3" y="76.6"/><use href="#m_blu2" x="93.4" y="77.4"/><use href="#m_blu2" x="94.0" y="78.7"/><use href="#m_blu2" x="94.4" y="79.3"/><use href="#m_blu2" x="95.6" y="80.4"/><use href="#m_blu2" x="95.9" y="81.6"/><use href="#m_blu2" x="96.9" y="82.3"/><use href="#m_blu2" x="97.4" y="82.8"/><use href="#m_blu2" x="98.1" y="83.6"/><use href="#m_blu2" x="98.9" y="83.9"/><use href="#m_blu2" x="99.8" y="84.5"/><use href="#m_blu2" x="100.6" y="85.1"/><use href="#m_blu2" x="101.4" y="85.5"/><use href="#m_blu2" x="101.8" y="86.3"/><use href="#m_blu2" x="103.1" y="86.9"/><use href="#m_blu2" x="103.7" y="87.9"/><use href="#m_blu2" x="104.6" y="89.2"/><use href="#m_blu2" x="105.6" y="90.6"/><use href="#m_blu2" x="106.3" y="91.6"/><use href="#m_blu2" x="106.9" y="93.4"/><use href="#m_blu2" x="107.6" y="93.7"/><use href="#m_blu2" x="108.2" y="94.4"/><use href="#m_blu2" x="108.4" y="95.4"/><use href="#m_blu2" x="108.6" y="95.7"/><use href="#m_blu2" x="109.6" y="96.5"/><use href="#m_blu2" x="110.9" y="97.3"/><use href="#m_blu2" x="112.1" y="97.9"/><use href="#m_blu2" x="113.5" y="98.9"/><use href="#m_blu2" x="114.8" y="99.6"/><use href="#m_blu2" x="115.7" y="100.4"/><use href="#m_blu2" x="116.3" y="101.2"/><use href="#m_blu2" x="116.7" y="102.1"/><use href="#m_blu2" x="117.7" y="103.8"/><use href="#m_blu2" x="118.3" y="105.6"/><use href="#m_blu2" x="118.6" y="107.5"/><use href="#m_blu2" x="118.9" y="109.4"/><use href="#m_blu2" x="119.5" y="111.5"/><use href="#m_blu2" x="120.2" y="113.6"/><use href="#m_blu2" x="121.5" y="115.9"/><use href="#m_blu2" x="125.2" y="118.3"/><use href="#m_blu2" x="126.5" y="120.8"/><use href="#m_blu2" x="126.9" y="123.5"/><use href="#m_blu2" x="127.2" y="126.4"/><use href="#m_blu2" x="128.3" y="129.5"/><use href="#m_blu2" x="129.4" y="132.8"/><use href="#m_blu2" x="130.4" y="136.5"/><use href="#m_blu2" x="131.3" y="140.5"/><use href="#m_blu2" x="141.8" y="144.9"/><use href="#m_blu2" x="142.5" y="149.8"/><use href="#m_blu2" x="144.9" y="155.4"/><use href="#m_blu2" x="155.4" y="161.8"/><use href="#m_blu2" x="161.9" y="169.5"/><use href="#m_blu2" x="173.9" y="178.8"/><use href="#m_blu2" x="179.3" y="190.8"/><use href="#m_blu2" x="182.5" y="207.8"/><use href="#m_blu2" x="189.6" y="236.8"/></g><polyline points="64.8,5.5 89.0,5.5 120.8,5.8 121.6,5.7 122.7,6.5 123.0,6.2 123.9,5.9 124.5,6.2 125.0,6.2 125.8,6.1 126.1,6.1 127.3,6.3 128.3,7.1 129.0,6.5 129.9,6.6 129.8,7.0 131.0,6.9 131.9,7.5 131.9,6.9 132.7,7.5 133.9,7.0 134.2,7.9 135.7,7.6 136.1,8.0 136.1,7.2 137.3,7.6 138.1,7.6 138.4,8.3 138.6,7.9 139.4,8.2 140.9,8.8 141.7,7.9 141.9,8.4 142.9,8.7 144.1,9.1 143.7,8.3 145.5,8.4 146.2,8.4 146.4,8.5 146.5,8.8 148.1,9.3 148.1,8.8 148.9,8.9 149.5,9.4 150.3,9.9 150.2,9.6 151.3,9.3 151.5,9.3 152.6,9.7 151.9,9.9 153.0,10.5 153.7,9.8 154.4,9.7 154.6,9.8 155.2,10.0 155.6,10.8 156.0,10.1 155.9,10.2 156.8,11.3 157.0,11.0 157.7,10.6 157.7,10.9 158.7,11.0 158.6,11.3 158.8,10.9 159.3,10.9 160.4,11.5 160.8,11.7 160.4,12.1 162.0,11.3 161.9,12.2 162.3,12.4 163.2,12.3 163.9,12.5 164.0,11.8 164.2,12.6 164.8,12.6 165.0,13.0 165.3,12.9 166.1,12.4 166.0,12.5 166.8,13.0 166.9,12.6 168.5,13.7 168.4,13.3 169.2,12.9 169.6,13.7 170.6,13.8 170.4,13.6 171.3,13.8 171.0,14.2 171.3,13.5 171.9,14.5 171.9,13.8 171.9,14.8 172.2,14.6 172.6,14.5 174.1,14.3 173.6,14.8 174.3,14.9 174.4,14.4 175.1,14.8 175.5,15.1 175.3,15.8 175.8,15.9 176.4,15.5 176.4,15.2 177.4,15.6 177.6,15.4 177.9,16.1 178.6,16.2 178.5,16.3 179.1,16.2 179.5,16.1 179.1,16.0 180.7,17.0 180.8,16.4 181.1,17.1 180.9,16.6 180.6,17.5 182.1,17.5 181.6,17.4 182.5,17.3 181.7,17.9 182.6,17.8 183.0,17.1 183.0,17.2 183.0,18.4 183.9,18.0 183.4,18.3 184.3,18.3 184.7,18.8 184.7,18.5 185.1,18.6 185.6,18.3 185.0,18.3 185.2,18.9 185.9,19.3 186.0,18.7 187.3,18.7 186.8,19.5 187.4,19.2 187.1,19.6 187.5,20.1 187.9,20.3 187.8,20.0 188.5,20.0 189.0,20.5 188.9,20.5 189.0,20.5 190.4,20.4 190.7,20.4 190.2,21.2 191.4,21.2 190.5,21.5 191.0,21.5 191.1,20.9 191.3,21.5 192.5,21.5 191.5,21.8 192.9,22.0 191.9,21.6 193.2,22.2 193.7,22.5 193.7,22.4 193.4,21.8 194.2,22.4 194.5,22.1 194.8,22.8 195.1,23.0 194.7,22.9 194.5,22.8 195.4,22.8 195.3,23.5 195.9,23.9 195.9,23.6 196.2,24.0 196.7,24.3 196.3,23.5 196.7,24.2 197.5,23.9 197.2,24.4 197.5,24.8 197.5,24.9 197.8,25.0 199.0,25.4 199.4,24.5 199.3,25.6 199.7,25.2 200.0,25.2 200.3,25.4 200.8,25.1 200.5,25.4 201.0,26.5 200.8,26.5 200.7,25.7 201.7,26.2 200.9,26.7 202.3,26.2 202.2,26.6 201.6,26.4 201.8,26.8 202.4,27.2 203.1,27.7 203.7,27.1 203.6,28.0 203.3,27.8 204.6,28.0 204.5,27.8 205.1,28.5 204.4,28.1 204.2,28.4 205.7,28.9 204.9,28.4 205.2,28.6 205.5,28.6 206.2,29.6 206.9,29.5 206.4,29.9 206.5,29.1 206.8,30.1 207.7,29.7 207.3,30.2 208.0,30.5 208.1,29.9 207.9,30.2 208.8,30.9 209.1,30.3 209.9,30.9 209.6,30.8 209.4,31.0 210.2,31.9 210.0,31.4 210.2,31.2 209.9,32.2 211.5,31.5 210.4,32.2 210.9,32.1 211.9,32.2 211.1,33.1 211.9,33.0 212.1,32.5 212.7,32.6 211.8,33.3 212.9,34.0 211.9,33.2 212.1,33.4 213.5,33.5 213.2,33.8 212.6,34.1 213.2,34.5 214.2,34.7 213.9,34.6 213.6,34.9 214.1,35.6 214.0,34.8 214.0,35.3 214.4,35.5 215.5,36.1 215.3,36.4 215.9,35.7 215.8,35.9 215.7,36.4 215.7,36.2 215.7,37.1 217.0,37.5 215.9,37.3 216.3,37.4 217.0,37.2 216.6,37.7 216.7,38.3 218.1,37.6 218.2,38.7 217.3,38.6 218.1,38.3 218.8,38.9 219.0,39.5 219.4,39.4 219.5,38.9 219.0,39.6 219.4,39.6 220.1,40.0 220.3,40.1 220.7,40.2 220.9,40.6 220.2,40.9 220.0,41.1 220.8,41.5 220.3,41.2 221.1,41.0 221.6,42.1 221.5,42.2 222.2,42.0 221.7,42.7 222.1,42.2 222.2,43.0 222.7,42.5 221.9,43.3 222.9,43.6 222.7,43.4 223.6,43.4 222.8,43.4 222.7,44.3 223.7,44.0 224.0,44.2 223.6,44.9 224.4,44.9 224.6,45.2 224.6,45.8 224.7,45.7 225.4,45.3 224.3,45.5 224.9,46.3 225.5,46.7 224.8,47.1 225.3,47.5 225.7,47.6 226.4,46.9 226.3,47.5 227.2,47.6 226.5,47.7 226.2,48.4 227.2,48.2 227.7,48.5 228.1,49.2 228.3,49.2 228.3,49.6 228.4,49.6 228.3,49.7 228.3,50.7 228.1,50.8 229.3,50.3 229.0,51.3 229.3,51.2 229.5,51.1 230.3,52.0 229.5,51.8 230.3,52.6 230.3,52.2 230.2,52.7 231.2,53.2 230.4,52.7 231.2,53.2 231.7,53.4 232.1,54.3 231.3,53.7 232.2,54.1 231.5,54.7 231.7,54.6 232.5,55.5 233.0,55.1 232.2,55.9 233.4,55.8 233.4,56.0 234.0,57.2 234.3,56.9 233.3,57.7 234.0,57.4 234.2,58.1 234.8,58.1 234.4,58.1 234.3,59.3 235.8,58.6 235.5,59.9 235.8,60.2 235.4,60.2 236.6,59.8 235.9,61.1 236.2,61.0 237.3,61.4 237.4,61.3 237.7,61.4 237.3,62.1 237.9,62.0 237.3,62.7 237.6,63.6 238.3,63.6 238.5,64.2 239.4,64.6 238.5,64.6 239.7,65.3 239.6,65.1 239.3,65.0 239.4,65.6 240.6,66.1 240.6,66.3 241.4,67.4 240.7,67.2 240.7,67.5 241.2,68.3 241.5,68.6 241.4,69.0 242.5,68.9 243.0,69.9 243.4,70.1 243.1,70.4 243.8,70.5 244.3,71.4 244.3,71.8 243.8,72.2 244.6,72.5 245.3,72.6 245.7,73.5 246.4,73.0 246.6,74.3 246.5,74.7 246.5,74.7 246.5,75.8 247.9,75.7 248.0,76.5 247.7,76.7 248.9,77.2 249.6,77.3 249.5,78.3 249.4,79.0 249.7,78.6 249.7,79.3 251.1,80.4 251.3,80.6 251.1,81.1 251.5,81.9 251.6,81.8 252.4,82.8 252.7,82.6 252.9,83.3 252.8,83.8 252.7,84.2 254.0,85.5 253.6,86.2 254.5,86.6 254.3,86.4 255.8,87.0 255.2,88.2 255.7,88.6 257.2,88.8 257.7,90.3 258.4,90.6 258.6,90.8 258.8,92.2 259.7,92.1 260.1,93.0 260.7,94.1 262.2,94.3 263.8,95.7 264.4,95.4 263.8,96.7 264.5,96.9 266.2,97.6 265.9,98.7 267.4,100.2 267.8,100.4 267.4,101.8 268.2,102.3 269.2,103.0 269.7,103.8 270.2,104.7 270.8,105.6 271.3,106.5 271.9,107.5 272.5,108.4 273.1,109.4 273.5,110.4 273.8,111.5 274.0,112.5 274.3,113.6 274.5,114.7 274.8,115.9 275.1,117.1 275.3,118.3 275.8,119.5 276.4,120.8 277.0,122.1 277.7,123.5 278.4,124.9 279.2,126.4 280.7,127.9 282.3,129.5 283.9,131.1 285.4,132.8 286.9,134.6 288.4,136.5 289.4,138.4 290.2,140.5 291.0,142.6 291.8,144.9 292.5,147.3 293.3,149.8 293.9,152.5 294.5,155.4 295.2,158.5 295.8,161.8 296.6,165.5 298.4,169.5 300.6,173.9 301.6,178.8 306.6,184.4 313.5,190.8 314.9,198.5 315.7,207.8 317.0,219.8 318.4,236.8 331.7,265.8" fill="none" stroke="#f0f" stroke-width="1.25" clip-path="url(#pc)"/><g><use href="#m_mag4" x="64.8" y="5.5"/><use href="#m_mag4" x="89.0" y="5.5"/><use href="#m_mag4" x="120.8" y="5.8"/><use href="#m_mag4" x="121.6" y="5.7"/><use href="#m_mag4" x="122.7" y="6.5"/><use href="#m_mag4" x="123.0" y="6.2"/><use href="#m_mag4" x="123.9" y="5.9"/><use href="#m_mag4" x="124.5" y="6.2"/><use href="#m_mag4" x="125.0" y="6.2"/><use href="#m_mag4" x="125.8" y="6.1"/><use href="#m_mag4" x="126.1" y="6.1"/><use href="#m_mag4" x="127.3" y="6.3"/><use href="#m_mag4" x="128.3" y="7.1"/><use href="#m_mag4" x="129.0" y="6.5"/><use href="#m_mag4" x="129.9" y="6.6"/><use href="#m_mag4" x="129.8" y="7.0"/><use href="#m_mag4" x="131.0" y="6.9"/><use href="#m_mag4" x="131.9" y="7.5"/><use href="#m_mag4" x="131.9" y="6.9"/><use href="#m_mag4" x="132.7" y="7.5"/><use href="#m_mag4" x="133.9" y="7.0"/><use href="#m_mag4" x="134.2" y="7.9"/><use href="#m_mag4" x="135.7" y="7.6"/><use href="#m_mag4" x="136.1" y="8.0"/><use href="#m_mag4" x="136.1" y="7.2"/><use href="#m_mag4" x="137.3" y="7.6"/><use href="#m_mag4" x="138.1" y="7.6"/><use href="#m_mag4" x="138.4" y="8.3"/><use href="#m_mag4" x="138.6" y="7.9"/><use href="#m_mag4" x="139.4" y="8.2"/><use href="#m_mag4" x="140.9" y="8.8"/><use href="#m_mag4" x="141.7" y="7.9"/><use href="#m_mag4" x="141.9" y="8.4"/><use href="#m_mag4" x="142.9" y="8.7"/><use href="#m_mag4" x="144.1" y="9.1"/><use href="#m_mag4" x="143.7" y="8.3"/><use href="#m_mag4" x="145.5" y="8.4"/><use href="#m_mag4" x="146.2" y="8.4"/><use href="#m_mag4" x="146.4" y="8.5"/><use href="#m_mag4" x="146.5" y="8.8"/><use href="#m_mag4" x="148.1" y="9.3"/><use href="#m_mag4" x="148.1" y="8.8"/><use href="#m_mag4" x="148.9" y="8.9"/><use href="#m_mag4" x="149.5" y="9.4"/><use href="#m_mag4" x="150.3" y="9.9"/><use href="#m_mag4" x="150.2" y="9.6"/><use href="#m_mag4" x="151.3" y="9.3"/><use href="#m_mag4" x="151.5" y="9.3"/><use href="#m_mag4" x="152.6" y="9.7"/><use href="#m_mag4" x="151.9" y="9.9"/><use href="#m_mag4" x="153.0" y="10.5"/><use href="#m_mag4" x="153.7" y="9.8"/><use href="#m_mag4" x="154.4" y="9.7"/><use href="#m_mag4" x="154.6" y="9.8"/><use href="#m_mag4" x="155.2" y="10.0"/><use href="#m_mag4" x="155.6" y="10.8"/><use href="#m_mag4" x="156.0" y="10.1"/><use href="#m_mag4" x="155.9" y="10.2"/><use href="#m_mag4" x="156.8" y="11.3"/><use href="#m_mag4" x="157.0" y="11.0"/><use href="#m_mag4" x="157.7" y="10.6"/><use href="#m_mag4" x="157.7" y="10.9"/><use href="#m_mag4" x="158.7" y="11.0"/><use href="#m_mag4" x="158.6" y="11.3"/><use href="#m_mag4" x="158.8" y="10.9"/><use href="#m_mag4" x="159.3" y="10.9"/><use href="#m_mag4" x="160.4" y="11.5"/><use href="#m_mag4" x="160.8" y="11.7"/><use href="#m_mag4" x="160.4" y="12.1"/><use href="#m_mag4" x="162.0" y="11.3"/><use href="#m_mag4" x="161.9" y="12.2"/><use href="#m_mag4" x="162.3" y="12.4"/><use href="#m_mag4" x="163.2" y="12.3"/><use href="#m_mag4" x="163.9" y="12.5"/><use href="#m_mag4" x="164.0" y="11.8"/><use href="#m_mag4" x="164.2" y="12.6"/><use href="#m_mag4" x="164.8" y="12.6"/><use href="#m_mag4" x="165.0" y="13.0"/><use href="#m_mag4" x="165.3" y="12.9"/><use href="#m_mag4" x="166.1" y="12.4"/><use href="#m_mag4" x="166.0" y="12.5"/><use href="#m_mag4" x="166.8" y="13.0"/><use href="#m_mag4" x="166.9" y="12.6"/><use href="#m_mag4" x="168.5" y="13.7"/><use href="#m_mag4" x="168.4" y="13.3"/><use href="#m_mag4" x="169.2" y="12.9"/><use href="#m_mag4" x="169.6" y="13.7"/><use href="#m_mag4" x="170.6" y="13.8"/><use href="#m_mag4" x="170.4" y="13.6"/><use href="#m_mag4" x="171.3" y="13.8"/><use href="#m_mag4" x="171.0" y="14.2"/><use href="#m_mag4" x="171.3" y="13.5"/><use href="#m_mag4" x="171.9" y="14.5"/><use href="#m_mag4" x="171.9" y="13.8"/><use href="#m_mag4" x="171.9" y="14.8"/><use href="#m_mag4" x="172.2" y="14.6"/><use href="#m_mag4" x="172.6" y="14.5"/><use href="#m_mag4" x="174.1" y="14.3"/><use href="#m_mag4" x="173.6" y="14.8"/><use href="#m_mag4" x="174.3" y="14.9"/><use href="#m_mag4" x="174.4" y="14.4"/><use href="#m_mag4" x="175.1" y="14.8"/><use href="#m_mag4" x="175.5" y="15.1"/><use href="#m_mag4" x="175.3" y="15.8"/><use href="#m_mag4" x="175.8" y="15.9"/><use href="#m_mag4" x="176.4" y="15.5"/><use href="#m_mag4" x="176.4" y="15.2"/><use href="#m_mag4" x="177.4" y="15.6"/><use href="#m_mag4" x="177.6" y="15.4"/><use href="#m_mag4" x="177.9" y="16.1"/><use href="#m_mag4" x="178.6" y="16.2"/><use href="#m_mag4" x="178.5" y="16.3"/><use href="#m_mag4" x="179.1" y="16.2"/><use href="#m_mag4" x="179.5" y="16.1"/><use href="#m_mag4" x="179.1" y="16.0"/><use href="#m_mag4" x="180.7" y="17.0"/><use href="#m_mag4" x="180.8" y="16.4"/><use href="#m_mag4" x="181.1" y="17.1"/><use href="#m_mag4" x="180.9" y="16.6"/><use href="#m_mag4" x="180.6" y="17.5"/><use href="#m_mag4" x="182.1" y="17.5"/><use href="#m_mag4" x="181.6" y="17.4"/><use href="#m_mag4" x="182.5" y="17.3"/><use href="#m_mag4" x="181.7" y="17.9"/><use href="#m_mag4" x="182.6" y="17.8"/><use href="#m_mag4" x="183.0" y="17.1"/><use href="#m_mag4" x="183.0" y="17.2"/><use href="#m_mag4" x="183.0" y="18.4"/><use href="#m_mag4" x="183.9" y="18.0"/><use href="#m_mag4" x="183.4" y="18.3"/><use href="#m_mag4" x="184.3" y="18.3"/><use href="#m_mag4" x="184.7" y="18.8"/><use href="#m_mag4" x="184.7" y="18.5"/><use href="#m_mag4" x="185.1" y="18.6"/><use href="#m_mag4" x="185.6" y="18.3"/><use href="#m_mag4" x="185.0" y="18.3"/><use href="#m_mag4" x="185.2" y="18.9"/><use href="#m_mag4" x="185.9" y="19.3"/><use href="#m_mag4" x="186.0" y="18.7"/><use href="#m_mag4" x="187.3" y="18.7"/><use href="#m_mag4" x="186.8" y="19.5"/><use href="#m_mag4" x="187.4" y="19.2"/><use href="#m_mag4" x="187.1" y="19.6"/><use href="#m_mag4" x="187.5" y="20.1"/><use href="#m_mag4" x="187.9" y="20.3"/><use href="#m_mag4" x="187.8" y="20.0"/><use href="#m_mag4" x="188.5" y="20.0"/><use href="#m_mag4" x="189.0" y="20.5"/><use href="#m_mag4" x="188.9" y="20.5"/><use href="#m_mag4" x="189.0" y="20.5"/><use href="#m_mag4" x="190.4" y="20.4"/><use href="#m_mag4" x="190.7" y="20.4"/><use href="#m_mag4" x="190.2" y="21.2"/><use href="#m_mag4" x="191.4" y="21.2"/><use href="#m_mag4" x="190.5" y="21.5"/><use href="#m_mag4" x="191.0" y="21.5"/><use href="#m_mag4" x="191.1" y="20.9"/><use href="#m_mag4" x="191.3" y="21.5"/><use href="#m_mag4" x="192.5" y="21.5"/><use href="#m_mag4" x="191.5" y="21.8"/><use href="#m_mag4" x="192.9" y="22.0"/><use href="#m_mag4" x="191.9" y="21.6"/><use href="#m_mag4" x="193.2" y="22.2"/><use href="#m_mag4" x="193.7" y="22.5"/><use href="#m_mag4" x="193.7" y="22.4"/><use href="#m_mag4" x="193.4" y="21.8"/><use href="#m_mag4" x="194.2" y="22.4"/><use href="#m_mag4" x="194.5" y="22.1"/><use href="#m_mag4" x="194.8" y="22.8"/><use href="#m_mag4" x="195.1" y="23.0"/><use href="#m_mag4" x="194.7" y="22.9"/><use href="#m_mag4" x="194.5" y="22.8"/><use href="#m_mag4" x="195.4" y="22.8"/><use href="#m_mag4" x="195.3" y="23.5"/><use href="#m_mag4" x="195.9" y="23.9"/><use href="#m_mag4" x="195.9" y="23.6"/><use href="#m_mag4" x="196.2" y="24.0"/><use href="#m_mag4" x="196.7" y="24.3"/><use href="#m_mag4" x="196.3" y="23.5"/><use href="#m_mag4" x="196.7" y="24.2"/><use href="#m_mag4" x="197.5" y="23.9"/><use href="#m_mag4" x="197.2" y="24.4"/><use href="#m_mag4" x="197.5" y="24.8"/><use href="#m_mag4" x="197.5" y="24.9"/><use href="#m_mag4" x="197.8" y="25.0"/><use href="#m_mag4" x="199.0" y="25.4"/><use href="#m_mag4" x="199.4" y="24.5"/><use href="#m_mag4" x="199.3" y="25.6"/><use href="#m_mag4" x="199.7" y="25.2"/><use href="#m_mag4" x="200.0" y="25.2"/><use href="#m_mag4" x="200.3" y="25.4"/><use href="#m_mag4" x="200.8" y="25.1"/><use href="#m_mag4" x="200.5" y="25.4"/><use href="#m_mag4" x="201.0" y="26.5"/><use href="#m_mag4" x="200.8" y="26.5"/><use href="#m_mag4" x="200.7" y="25.7"/><use href="#m_mag4" x="201.7" y="26.2"/><use href="#m_mag4" x="200.9" y="26.7"/><use href="#m_mag4" x="202.3" y="26.2"/><use href="#m_mag4" x="202.2" y="26.6"/><use href="#m_mag4" x="201.6" y="26.4"/><use href="#m_mag4" x="201.8" y="26.8"/><use href="#m_mag4" x="202.4" y="27.2"/><use href="#m_mag4" x="203.1" y="27.7"/><use href="#m_mag4" x="203.7" y="27.1"/><use href="#m_mag4" x="203.6" y="28.0"/><use href="#m_mag4" x="203.3" y="27.8"/><use href="#m_mag4" x="204.6" y="28.0"/><use href="#m_mag4" x="204.5" y="27.8"/><use href="#m_mag4" x="205.1" y="28.5"/><use href="#m_mag4" x="204.4" y="28.1"/><use href="#m_mag4" x="204.2" y="28.4"/><use href="#m_mag4" x="205.7" y="28.9"/><use href="#m_mag4" x="204.9" y="28.4"/><use href="#m_mag4" x="205.2" y="28.6"/><use href="#m_mag4" x="205.5" y="28.6"/><use href="#m_mag4" x="206.2" y="29.6"/><use href="#m_mag4" x="206.9" y="29.5"/><use href="#m_mag4" x="206.4" y="29.9"/><use href="#m_mag4" x="206.5" y="29.1"/><use href="#m_mag4" x="206.8" y="30.1"/><use href="#m_mag4" x="207.7" y="29.7"/><use href="#m_mag4" x="207.3" y="30.2"/><use href="#m_mag4" x="208.0" y="30.5"/><use href="#m_mag4" x="208.1" y="29.9"/><use href="#m_mag4" x="207.9" y="30.2"/><use href="#m_mag4" x="208.8" y="30.9"/><use href="#m_mag4" x="209.1" y="30.3"/><use href="#m_mag4" x="209.9" y="30.9"/><use href="#m_mag4" x="209.6" y="30.8"/><use href="#m_mag4" x="209.4" y="31.0"/><use href="#m_mag4" x="210.2" y="31.9"/><use href="#m_mag4" x="210.0" y="31.4"/><use href="#m_mag4" x="210.2" y="31.2"/><use href="#m_mag4" x="209.9" y="32.2"/><use href="#m_mag4" x="211.5" y="31.5"/><use href="#m_mag4" x="210.4" y="32.2"/><use href="#m_mag4" x="210.9" y="32.1"/><use href="#m_mag4" x="211.9" y="32.2"/><use href="#m_mag4" x="211.1" y="33.1"/><use href="#m_mag4" x="211.9" y="33.0"/><use href="#m_mag4" x="212.1" y="32.5"/><use href="#m_mag4" x="212.7" y="32.6"/><use href="#m_mag4" x="211.8" y="33.3"/><use href="#m_mag4" x="212.9" y="34.0"/><use href="#m_mag4" x="211.9" y="33.2"/><use href="#m_mag4" x="212.1" y="33.4"/><use href="#m_mag4" x="213.5" y="33.5"/><use href="#m_mag4" x="213.2" y="33.8"/><use href="#m_mag4" x="212.6" y="34.1"/><use href="#m_mag4" x="213.2" y="34.5"/><use href="#m_mag4" x="214.2" y="34.7"/><use href="#m_mag4" x="213.9" y="34.6"/><use href="#m_mag4" x="213.6" y="34.9"/><use href="#m_mag4" x="214.1" y="35.6"/><use href="#m_mag4" x="214.0" y="34.8"/><use href="#m_mag4" x="214.0" y="35.3"/><use href="#m_mag4" x="214.4" y="35.5"/><use href="#m_mag4" x="215.5" y="36.1"/><use href="#m_mag4" x="215.3" y="36.4"/><use href="#m_mag4" x="215.9" y="35.7"/><use href="#m_mag4" x="215.8" y="35.9"/><use href="#m_mag4" x="215.7" y="36.4"/><use href="#m_mag4" x="215.7" y="36.2"/><use href="#m_mag4" x="215.7" y="37.1"/><use href="#m_mag4" x="217.0" y="37.5"/><use href="#m_mag4" x="215.9" y="37.3"/><use href="#m_mag4" x="216.3" y="37.4"/><use href="#m_mag4" x="217.0" y="37.2"/><use href="#m_mag4" x="216.6" y="37.7"/><use href="#m_mag4" x="216.7" y="38.3"/><use href="#m_mag4" x="218.1" y="37.6"/><use href="#m_mag4" x="218.2" y="38.7"/><use href="#m_mag4" x="217.3" y="38.6"/><use href="#m_mag4" x="218.1" y="38.3"/><use href="#m_mag4" x="218.8" y="38.9"/><use href="#m_mag4" x="219.0" y="39.5"/><use href="#m_mag4" x="219.4" y="39.4"/><use href="#m_mag4" x="219.5" y="38.9"/><use href="#m_mag4" x="219.0" y="39.6"/><use href="#m_mag4" x="219.4" y="39.6"/><use href="#m_mag4" x="220.1" y="40.0"/><use href="#m_mag4" x="220.3" y="40.1"/><use href="#m_mag4" x="220.7" y="40.2"/><use href="#m_mag4" x="220.9" y="40.6"/><use href="#m_mag4" x="220.2" y="40.9"/><use href="#m_mag4" x="220.0" y="41.1"/><use href="#m_mag4" x="220.8" y="41.5"/><use href="#m_mag4" x="220.3" y="41.2"/><use href="#m_mag4" x="221.1" y="41.0"/><use href="#m_mag4" x="221.6" y="42.1"/><use href="#m_mag4" x="221.5" y="42.2"/><use href="#m_mag4" x="222.2" y="42.0"/><use href="#m_mag4" x="221.7" y="42.7"/><use href="#m_mag4" x="222.1" y="42.2"/><use href="#m_mag4" x="222.2" y="43.0"/><use href="#m_mag4" x="222.7" y="42.5"/><use href="#m_mag4" x="221.9" y="43.3"/><use href="#m_mag4" x="222.9" y="43.6"/><use href="#m_mag4" x="222.7" y="43.4"/><use href="#m_mag4" x="223.6" y="43.4"/><use href="#m_mag4" x="222.8" y="43.4"/><use href="#m_mag4" x="222.7" y="44.3"/><use href="#m_mag4" x="223.7" y="44.0"/><use href="#m_mag4" x="224.0" y="44.2"/><use href="#m_mag4" x="223.6" y="44.9"/><use href="#m_mag4" x="224.4" y="44.9"/><use href="#m_mag4" x="224.6" y="45.2"/><use href="#m_mag4" x="224.6" y="45.8"/><use href="#m_mag4" x="224.7" y="45.7"/><use href="#m_mag4" x="225.4" y="45.3"/><use href="#m_mag4" x="224.3" y="45.5"/><use href="#m_mag4" x="224.9" y="46.3"/><use href="#m_mag4" x="225.5" y="46.7"/><use href="#m_mag4" x="224.8" y="47.1"/><use href="#m_mag4" x="225.3" y="47.5"/><use href="#m_mag4" x="225.7" y="47.6"/><use href="#m_mag4" x="226.4" y="46.9"/><use href="#m_mag4" x="226.3" y="47.5"/><use href="#m_mag4" x="227.2" y="47.6"/><use href="#m_mag4" x="226.5" y="47.7"/><use href="#m_mag4" x="226.2" y="48.4"/><use href="#m_mag4" x="227.2" y="48.2"/><use href="#m_mag4" x="227.7" y="48.5"/><use href="#m_mag4" x="228.1" y="49.2"/><use href="#m_mag4" x="228.3" y="49.2"/><use href="#m_mag4" x="228.3" y="49.6"/><use href="#m_mag4" x="228.4" y="49.6"/><use href="#m_mag4" x="228.3" y="49.7"/><use href="#m_mag4" x="228.3" y="50.7"/><use href="#m_mag4" x="228.1" y="50.8"/><use href="#m_mag4" x="229.3" y="50.3"/><use href="#m_mag4" x="229.0" y="51.3"/><use href="#m_mag4" x="229.3" y="51.2"/><use href="#m_mag4" x="229.5" y="51.1"/><use href="#m_mag4" x="230.3" y="52.0"/><use href="#m_mag4" x="229.5" y="51.8"/><use href="#m_mag4" x="230.3" y="52.6"/><use href="#m_mag4" x="230.3" y="52.2"/><use href="#m_mag4" x="230.2" y="52.7"/><use href="#m_mag4" x="231.2" y="53.2"/><use href="#m_mag4" x="230.4" y="52.7"/><use href="#m_mag4" x="231.2" y="53.2"/><use href="#m_mag4" x="231.7" y="53.4"/><use href="#m_mag4" x="232.1" y="54.3"/><use href="#m_mag4" x="231.3" y="53.7"/><use href="#m_mag4" x="232.2" y="54.1"/><use href="#m_mag4" x="231.5" y="54.7"/><use href="#m_mag4" x="231.7" y="54.6"/><use href="#m_mag4" x="232.5" y="55.5"/><use href="#m_mag4" x="233.0" y="55.1"/><use href="#m_mag4" x="232.2" y="55.9"/><use href="#m_mag4" x="233.4" y="55.8"/><use href="#m_mag4" x="233.4" y="56.0"/><use href="#m_mag4" x="234.0" y="57.2"/><use href="#m_mag4" x="234.3" y="56.9"/><use href="#m_mag4" x="233.3" y="57.7"/><use href="#m_mag4" x="234.0" y="57.4"/><use href="#m_mag4" x="234.2" y="58.1"/><use href="#m_mag4" x="234.8" y="58.1"/><use href="#m_mag4" x="234.4" y="58.1"/><use href="#m_mag4" x="234.3" y="59.3"/><use href="#m_mag4" x="235.8" y="58.6"/><use href="#m_mag4" x="235.5" y="59.9"/><use href="#m_mag4" x="235.8" y="60.2"/><use href="#m_mag4" x="235.4" y="60.2"/><use href="#m_mag4" x="236.6" y="59.8"/><use href="#m_mag4" x="235.9" y="61.1"/><use href="#m_mag4" x="236.2" y="61.0"/><use href="#m_mag4" x="237.3" y="61.4"/><use href="#m_mag4" x="237.4" y="61.3"/><use href="#m_mag4" x="237.7" y="61.4"/><use href="#m_mag4" x="237.3" y="62.1"/><use href="#m_mag4" x="237.9" y="62.0"/><use href="#m_mag4" x="237.3" y="62.7"/><use href="#m_mag4" x="237.6" y="63.6"/><use href="#m_mag4" x="238.3" y="63.6"/><use href="#m_mag4" x="238.5" y="64.2"/><use href="#m_mag4" x="239.4" y="64.6"/><use href="#m_mag4" x="238.5" y="64.6"/><use href="#m_mag4" x="239.7" y="65.3"/><use href="#m_mag4" x="239.6" y="65.1"/><use href="#m_mag4" x="239.3" y="65.0"/><use href="#m_mag4" x="239.4" y="65.6"/><use href="#m_mag4" x="240.6" y="66.1"/><use href="#m_mag4" x="240.6" y="66.3"/><use href="#m_mag4" x="241.4" y="67.4"/><use href="#m_mag4" x="240.7" y="67.2"/><use href="#m_mag4" x="240.7" y="67.5"/><use href="#m_mag4" x="241.2" y="68.3"/><use href="#m_mag4" x="241.5" y="68.6"/><use href="#m_mag4" x="241.4" y="69.0"/><use href="#m_mag4" x="242.5" y="68.9"/><use href="#m_mag4" x="243.0" y="69.9"/><use href="#m_mag4" x="243.4" y="70.1"/><use href="#m_mag4" x="243.1" y="70.4"/><use href="#m_mag4" x="243.8" y="70.5"/><use href="#m_mag4" x="244.3" y="71.4"/><use href="#m_mag4" x="244.3" y="71.8"/><use href="#m_mag4" x="243.8" y="72.2"/><use href="#m_mag4" x="244.6" y="72.5"/><use href="#m_mag4" x="245.3" y="72.6"/><use href="#m_mag4" x="245.7" y="73.5"/><use href="#m_mag4" x="246.4" y="73.0"/><use href="#m_mag4" x="246.6" y="74.3"/><use href="#m_mag4" x="246.5" y="74.7"/><use href="#m_mag4" x="246.5" y="74.7"/><use href="#m_mag4" x="246.5" y="75.8"/><use href="#m_mag4" x="247.9" y="75.7"/><use href="#m_mag4" x="248.0" y="76.5"/><use href="#m_mag4" x="247.7" y="76.7"/><use href="#m_mag4" x="248.9" y="77.2"/><use href="#m_mag4" x="249.6" y="77.3"/><use href="#m_mag4" x="249.5" y="78.3"/><use href="#m_mag4" x="249.4" y="79.0"/><use href="#m_mag4" x="249.7" y="78.6"/><use href="#m_mag4" x="249.7" y="79.3"/><use href="#m_mag4" x="251.1" y="80.4"/><use href="#m_mag4" x="251.3" y="80.6"/><use href="#m_mag4" x="251.1" y="81.1"/><use href="#m_mag4" x="251.5" y="81.9"/><use href="#m_mag4" x="251.6" y="81.8"/><use href="#m_mag4" x="252.4" y="82.8"/><use href="#m_mag4" x="252.7" y="82.6"/><use href="#m_mag4" x="252.9" y="83.3"/><use href="#m_mag4" x="252.8" y="83.8"/><use href="#m_mag4" x="252.7" y="84.2"/><use href="#m_mag4" x="254.0" y="85.5"/><use href="#m_mag4" x="253.6" y="86.2"/><use href="#m_mag4" x="254.5" y="86.6"/><use href="#m_mag4" x="254.3" y="86.4"/><use href="#m_mag4" x="255.8" y="87.0"/><use href="#m_mag4" x="255.2" y="88.2"/><use href="#m_mag4" x="255.7" y="88.6"/><use href="#m_mag4" x="257.2" y="88.8"/><use href="#m_mag4" x="257.7" y="90.3"/><use href="#m_mag4" x="258.4" y="90.6"/><use href="#m_mag4" x="258.6" y="90.8"/><use href="#m_mag4" x="258.8" y="92.2"/><use href="#m_mag4" x="259.7" y="92.1"/><use href="#m_mag4" x="260.1" y="93.0"/><use href="#m_mag4" x="260.7" y="94.1"/><use href="#m_mag4" x="262.2" y="94.3"/><use href="#m_mag4" x="263.8" y="95.7"/><use href="#m_mag4" x="264.4" y="95.4"/><use href="#m_mag4" x="263.8" y="96.7"/><use href="#m_mag4" x="264.5" y="96.9"/><use href="#m_mag4" x="266.2" y="97.6"/><use href="#m_mag4" x="265.9" y="98.7"/><use href="#m_mag4" x="267.4" y="100.2"/><use href="#m_mag4" x="267.8" y="100.4"/><use href="#m_mag4" x="267.4" y="101.8"/><use href="#m_mag4" x="268.2" y="102.3"/><use href="#m_mag4" x="269.2" y="103.0"/><use href="#m_mag4" x="269.7" y="103.8"/><use href="#m_mag4" x="270.2" y="104.7"/><use href="#m_mag4" x="270.8" y="105.6"/><use href="#m_mag4" x="271.3" y="106.5"/><use href="#m_mag4" x="271.9" y="107.5"/><use href="#m_mag4" x="272.5" y="108.4"/><use href="#m_mag4" x="273.1" y="109.4"/><use href="#m_mag4" x="273.5" y="110.4"/><use href="#m_mag4" x="273.8" y="111.5"/><use href="#m_mag4" x="274.0" y="112.5"/><use href="#m_mag4" x="274.3" y="113.6"/><use href="#m_mag4" x="274.5" y="114.7"/><use href="#m_mag4" x="274.8" y="115.9"/><use href="#m_mag4" x="275.1" y="117.1"/><use href="#m_mag4" x="275.3" y="118.3"/><use href="#m_mag4" x="275.8" y="119.5"/><use href="#m_mag4" x="276.4" y="120.8"/><use href="#m_mag4" x="277.0" y="122.1"/><use href="#m_mag4" x="277.7" y="123.5"/><use href="#m_mag4" x="278.4" y="124.9"/><use href="#m_mag4" x="279.2" y="126.4"/><use href="#m_mag4" x="280.7" y="127.9"/><use href="#m_mag4" x="282.3" y="129.5"/><use href="#m_mag4" x="283.9" y="131.1"/><use href="#m_mag4" x="285.4" y="132.8"/><use href="#m_mag4" x="286.9" y="134.6"/><use href="#m_mag4" x="288.4" y="136.5"/><use href="#m_mag4" x="289.4" y="138.4"/><use href="#m_mag4" x="290.2" y="140.5"/><use href="#m_mag4" x="291.0" y="142.6"/><use href="#m_mag4" x="291.8" y="144.9"/><use href="#m_mag4" x="292.5" y="147.3"/><use href="#m_mag4" x="293.3" y="149.8"/><use href="#m_mag4" x="293.9" y="152.5"/><use href="#m_mag4" x="294.5" y="155.4"/><use href="#m_mag4" x="295.2" y="158.5"/><use href="#m_mag4" x="295.8" y="161.8"/><use href="#m_mag4" x="296.6" y="165.5"/><use href="#m_mag4" x="298.4" y="169.5"/><use href="#m_mag4" x="300.6" y="173.9"/><use href="#m_mag4" x="301.6" y="178.8"/><use href="#m_mag4" x="306.6" y="184.4"/><use href="#m_mag4" x="313.5" y="190.8"/><use href="#m_mag4" x="314.9" y="198.5"/><use href="#m_mag4" x="315.7" y="207.8"/><use href="#m_mag4" x="317.0" y="219.8"/><use href="#m_mag4" x="318.4" y="236.8"/><use href="#m_mag4" x="331.7" y="265.8"/></g><polyline points="136.4,5.8 138.1,6.3 139.0,6.1 140.2,5.8 142.6,5.6 143.8,6.2 145.2,6.3 146.7,5.6 149.0,5.6 150.9,5.7 151.5,6.1 153.5,6.1 154.6,5.4 156.5,6.0 158.0,5.6 160.3,5.7 161.1,6.5 163.4,6.4 163.3,6.5 164.4,6.6 165.8,6.0 167.1,6.0 168.6,6.8 169.7,6.8 170.2,6.3 172.2,6.4 173.3,6.7 173.6,6.4 175.8,7.2 176.5,6.3 176.8,7.4 179.0,7.2 179.4,7.4 180.5,7.4 182.5,7.2 183.8,7.2 185.2,8.2 185.5,7.7 187.3,7.9 188.2,8.4 189.9,8.7 190.1,8.4 191.0,9.1 193.3,8.6 194.0,8.9 195.0,8.8 196.6,10.0 197.2,9.9 199.3,9.9 200.6,9.9 201.3,9.7 201.7,10.5 203.7,10.6 204.9,10.8 205.2,11.3 207.0,11.6 207.7,11.0 208.2,11.6 208.9,11.5 211.0,11.6 211.9,11.9 212.3,12.1 213.6,12.3 214.7,13.2 216.2,12.9 216.9,12.9 218.7,13.1 218.9,13.4 220.7,14.2 221.7,13.9 221.7,14.5 222.4,14.4 224.5,14.3 224.8,14.5 225.5,14.5 226.7,15.4 226.9,14.8 228.0,15.4 229.1,16.0 230.2,15.5 230.4,16.1 231.5,16.8 233.2,17.0 234.0,16.5 235.1,16.8 235.2,16.8 236.5,18.0 237.8,17.9 238.3,17.9 240.0,18.7 240.2,18.5 241.4,18.3 242.5,18.4 243.9,19.0 244.7,19.6 245.2,20.0 247.2,19.8 247.0,20.2 248.9,19.9 250.1,20.2 250.4,20.3 252.0,21.2 253.2,21.0 253.7,20.9 254.6,21.4 255.7,21.4 257.1,21.6 258.4,21.9 259.3,22.2 259.9,23.2 260.5,23.5 262.0,23.6 262.5,23.9 262.8,23.8 263.2,23.7 264.5,24.6 266.0,25.1 265.5,25.5 266.7,25.2 267.1,25.1 268.3,25.8 269.6,26.3 269.4,26.5 271.1,26.3 271.1,26.6 272.8,26.8 273.1,27.3 274.0,27.7 274.1,28.4 275.3,27.8 275.7,28.2 276.6,28.5 277.9,29.3 278.4,29.2 279.5,29.6 280.5,30.5 281.0,30.8 281.0,31.1 281.8,31.4 282.7,31.0 282.9,32.0 283.8,31.5 284.5,31.8 284.4,32.3 286.1,32.5 286.8,32.6 286.7,32.9 287.9,33.9 288.7,34.5 289.5,34.4 289.4,34.9 290.3,34.8 290.9,35.4 292.2,35.3 292.6,36.4 293.6,36.6 294.0,36.4 294.9,36.7 295.3,37.1 295.5,38.1 296.4,38.5 296.9,38.2 297.8,39.0 299.2,39.8 299.4,40.3 300.4,39.8 301.3,40.7 302.5,40.5 303.7,41.4 303.3,41.5 305.4,41.6 305.6,42.7 306.3,43.1 307.9,43.0 309.2,43.2 309.3,44.4 310.9,44.2 311.6,45.4 312.3,44.9 313.7,45.5 315.0,46.0 315.4,46.9 317.5,47.2 318.6,48.2 319.4,48.2 319.9,48.1 321.0,48.7 321.9,49.4 322.7,50.0 323.6,50.9 324.5,50.5 325.9,51.7 326.1,51.9 327.2,52.3 328.3,53.5 328.4,53.9 330.7,54.4 330.9,54.7 331.9,54.9 332.5,55.3 333.9,55.9 334.6,56.9 335.7,57.7 336.5,57.6 338.0,58.1 339.7,59.0 340.2,59.7 341.2,60.3 342.1,60.9 343.1,61.5 344.1,62.2 345.1,62.8 346.1,63.5 347.1,64.1 348.2,64.8 349.2,65.5 350.3,66.2 351.2,66.9 352.2,67.7 353.2,68.4 354.2,69.1 355.2,69.9 356.3,70.7 357.3,71.5 358.4,72.3 359.5,73.1 361.0,74.0 362.7,74.8 364.4,75.7 366.2,76.6 368.1,77.5 370.0,78.5 371.9,79.4 373.9,80.4 375.6,81.4 377.1,82.5 378.6,83.5 380.2,84.6 381.8,85.7 383.4,86.9 385.0,88.1 385.8,89.3 386.5,90.5 387.3,91.8 388.1,93.1 388.9,94.5 389.4,95.9 389.9,97.4 390.5,98.9 396.8,100.5 401.1,102.1 401.6,103.8 402.2,105.6 402.8,107.5 403.5,109.4 404.1,111.5 404.5,113.6 406.7,115.9 418.0,118.3 428.9,120.8 433.4,123.5 437.7,126.4 442.6,129.5 448.2,132.8 450.1,136.5 453.4,140.5 457.1,144.9 461.3,149.8 467.0,155.4 471.5,161.8 474.2,169.5 477.2,178.8 482.2,190.8 495.6,207.8 506.2,236.8" fill="none" stroke="#000" stroke-width="1.25" clip-path="url(#pc)"/><g><use href="#m_blk16" x="136.4" y="5.8"/><use href="#m_blk16" x="138.1" y="6.3"/><use href="#m_blk16" x="139.0" y="6.1"/><use href="#m_blk16" x="140.2" y="5.8"/><use href="#m_blk16" x="142.6" y="5.6"/><use href="#m_blk16" x="143.8" y="6.2"/><use href="#m_blk16" x="145.2" y="6.3"/><use href="#m_blk16" x="146.7" y="5.6"/><use href="#m_blk16" x="149.0" y="5.6"/><use href="#m_blk16" x="150.9" y="5.7"/><use href="#m_blk16" x="151.5" y="6.1"/><use href="#m_blk16" x="153.5" y="6.1"/><use href="#m_blk16" x="154.6" y="5.4"/><use href="#m_blk16" x="156.5" y="6.0"/><use href="#m_blk16" x="158.0" y="5.6"/><use href="#m_blk16" x="160.3" y="5.7"/><use href="#m_blk16" x="161.1" y="6.5"/><use href="#m_blk16" x="163.4" y="6.4"/><use href="#m_blk16" x="163.3" y="6.5"/><use href="#m_blk16" x="164.4" y="6.6"/><use href="#m_blk16" x="165.8" y="6.0"/><use href="#m_blk16" x="167.1" y="6.0"/><use href="#m_blk16" x="168.6" y="6.8"/><use href="#m_blk16" x="169.7" y="6.8"/><use href="#m_blk16" x="170.2" y="6.3"/><use href="#m_blk16" x="172.2" y="6.4"/><use href="#m_blk16" x="173.3" y="6.7"/><use href="#m_blk16" x="173.6" y="6.4"/><use href="#m_blk16" x="175.8" y="7.2"/><use href="#m_blk16" x="176.5" y="6.3"/><use href="#m_blk16" x="176.8" y="7.4"/><use href="#m_blk16" x="179.0" y="7.2"/><use href="#m_blk16" x="179.4" y="7.4"/><use href="#m_blk16" x="180.5" y="7.4"/><use href="#m_blk16" x="182.5" y="7.2"/><use href="#m_blk16" x="183.8" y="7.2"/><use href="#m_blk16" x="185.2" y="8.2"/><use href="#m_blk16" x="185.5" y="7.7"/><use href="#m_blk16" x="187.3" y="7.9"/><use href="#m_blk16" x="188.2" y="8.4"/><use href="#m_blk16" x="189.9" y="8.7"/><use href="#m_blk16" x="190.1" y="8.4"/><use href="#m_blk16" x="191.0" y="9.1"/><use href="#m_blk16" x="193.3" y="8.6"/><use href="#m_blk16" x="194.0" y="8.9"/><use href="#m_blk16" x="195.0" y="8.8"/><use href="#m_blk16" x="196.6" y="10.0"/><use href="#m_blk16" x="197.2" y="9.9"/><use href="#m_blk16" x="199.3" y="9.9"/><use href="#m_blk16" x="200.6" y="9.9"/><use href="#m_blk16" x="201.3" y="9.7"/><use href="#m_blk16" x="201.7" y="10.5"/><use href="#m_blk16" x="203.7" y="10.6"/><use href="#m_blk16" x="204.9" y="10.8"/><use href="#m_blk16" x="205.2" y="11.3"/><use href="#m_blk16" x="207.0" y="11.6"/><use href="#m_blk16" x="207.7" y="11.0"/><use href="#m_blk16" x="208.2" y="11.6"/><use href="#m_blk16" x="208.9" y="11.5"/><use href="#m_blk16" x="211.0" y="11.6"/><use href="#m_blk16" x="211.9" y="11.9"/><use href="#m_blk16" x="212.3" y="12.1"/><use href="#m_blk16" x="213.6" y="12.3"/><use href="#m_blk16" x="214.7" y="13.2"/><use href="#m_blk16" x="216.2" y="12.9"/><use href="#m_blk16" x="216.9" y="12.9"/><use href="#m_blk16" x="218.7" y="13.1"/><use href="#m_blk16" x="218.9" y="13.4"/><use href="#m_blk16" x="220.7" y="14.2"/><use href="#m_blk16" x="221.7" y="13.9"/><use href="#m_blk16" x="221.7" y="14.5"/><use href="#m_blk16" x="222.4" y="14.4"/><use href="#m_blk16" x="224.5" y="14.3"/><use href="#m_blk16" x="224.8" y="14.5"/><use href="#m_blk16" x="225.5" y="14.5"/><use href="#m_blk16" x="226.7" y="15.4"/><use href="#m_blk16" x="226.9" y="14.8"/><use href="#m_blk16" x="228.0" y="15.4"/><use href="#m_blk16" x="229.1" y="16.0"/><use href="#m_blk16" x="230.2" y="15.5"/><use href="#m_blk16" x="230.4" y="16.1"/><use href="#m_blk16" x="231.5" y="16.8"/><use href="#m_blk16" x="233.2" y="17.0"/><use href="#m_blk16" x="234.0" y="16.5"/><use href="#m_blk16" x="235.1" y="16.8"/><use href="#m_blk16" x="235.2" y="16.8"/><use href="#m_blk16" x="236.5" y="18.0"/><use href="#m_blk16" x="237.8" y="17.9"/><use href="#m_blk16" x="238.3" y="17.9"/><use href="#m_blk16" x="240.0" y="18.7"/><use href="#m_blk16" x="240.2" y="18.5"/><use href="#m_blk16" x="241.4" y="18.3"/><use href="#m_blk16" x="242.5" y="18.4"/><use href="#m_blk16" x="243.9" y="19.0"/><use href="#m_blk16" x="244.7" y="19.6"/><use href="#m_blk16" x="245.2" y="20.0"/><use href="#m_blk16" x="247.2" y="19.8"/><use href="#m_blk16" x="247.0" y="20.2"/><use href="#m_blk16" x="248.9" y="19.9"/><use href="#m_blk16" x="250.1" y="20.2"/><use href="#m_blk16" x="250.4" y="20.3"/><use href="#m_blk16" x="252.0" y="21.2"/><use href="#m_blk16" x="253.2" y="21.0"/><use href="#m_blk16" x="253.7" y="20.9"/><use href="#m_blk16" x="254.6" y="21.4"/><use href="#m_blk16" x="255.7" y="21.4"/><use href="#m_blk16" x="257.1" y="21.6"/><use href="#m_blk16" x="258.4" y="21.9"/><use href="#m_blk16" x="259.3" y="22.2"/><use href="#m_blk16" x="259.9" y="23.2"/><use href="#m_blk16" x="260.5" y="23.5"/><use href="#m_blk16" x="262.0" y="23.6"/><use href="#m_blk16" x="262.5" y="23.9"/><use href="#m_blk16" x="262.8" y="23.8"/><use href="#m_blk16" x="263.2" y="23.7"/><use href="#m_blk16" x="264.5" y="24.6"/><use href="#m_blk16" x="266.0" y="25.1"/><use href="#m_blk16" x="265.5" y="25.5"/><use href="#m_blk16" x="266.7" y="25.2"/><use href="#m_blk16" x="267.1" y="25.1"/><use href="#m_blk16" x="268.3" y="25.8"/><use href="#m_blk16" x="269.6" y="26.3"/><use href="#m_blk16" x="269.4" y="26.5"/><use href="#m_blk16" x="271.1" y="26.3"/><use href="#m_blk16" x="271.1" y="26.6"/><use href="#m_blk16" x="272.8" y="26.8"/><use href="#m_blk16" x="273.1" y="27.3"/><use href="#m_blk16" x="274.0" y="27.7"/><use href="#m_blk16" x="274.1" y="28.4"/><use href="#m_blk16" x="275.3" y="27.8"/><use href="#m_blk16" x="275.7" y="28.2"/><use href="#m_blk16" x="276.6" y="28.5"/><use href="#m_blk16" x="277.9" y="29.3"/><use href="#m_blk16" x="278.4" y="29.2"/><use href="#m_blk16" x="279.5" y="29.6"/><use href="#m_blk16" x="280.5" y="30.5"/><use href="#m_blk16" x="281.0" y="30.8"/><use href="#m_blk16" x="281.0" y="31.1"/><use href="#m_blk16" x="281.8" y="31.4"/><use href="#m_blk16" x="282.7" y="31.0"/><use href="#m_blk16" x="282.9" y="32.0"/><use href="#m_blk16" x="283.8" y="31.5"/><use href="#m_blk16" x="284.5" y="31.8"/><use href="#m_blk16" x="284.4" y="32.3"/><use href="#m_blk16" x="286.1" y="32.5"/><use href="#m_blk16" x="286.8" y="32.6"/><use href="#m_blk16" x="286.7" y="32.9"/><use href="#m_blk16" x="287.9" y="33.9"/><use href="#m_blk16" x="288.7" y="34.5"/><use href="#m_blk16" x="289.5" y="34.4"/><use href="#m_blk16" x="289.4" y="34.9"/><use href="#m_blk16" x="290.3" y="34.8"/><use href="#m_blk16" x="290.9" y="35.4"/><use href="#m_blk16" x="292.2" y="35.3"/><use href="#m_blk16" x="292.6" y="36.4"/><use href="#m_blk16" x="293.6" y="36.6"/><use href="#m_blk16" x="294.0" y="36.4"/><use href="#m_blk16" x="294.9" y="36.7"/><use href="#m_blk16" x="295.3" y="37.1"/><use href="#m_blk16" x="295.5" y="38.1"/><use href="#m_blk16" x="296.4" y="38.5"/><use href="#m_blk16" x="296.9" y="38.2"/><use href="#m_blk16" x="297.8" y="39.0"/><use href="#m_blk16" x="299.2" y="39.8"/><use href="#m_blk16" x="299.4" y="40.3"/><use href="#m_blk16" x="300.4" y="39.8"/><use href="#m_blk16" x="301.3" y="40.7"/><use href="#m_blk16" x="302.5" y="40.5"/><use href="#m_blk16" x="303.7" y="41.4"/><use href="#m_blk16" x="303.3" y="41.5"/><use href="#m_blk16" x="305.4" y="41.6"/><use href="#m_blk16" x="305.6" y="42.7"/><use href="#m_blk16" x="306.3" y="43.1"/><use href="#m_blk16" x="307.9" y="43.0"/><use href="#m_blk16" x="309.2" y="43.2"/><use href="#m_blk16" x="309.3" y="44.4"/><use href="#m_blk16" x="310.9" y="44.2"/><use href="#m_blk16" x="311.6" y="45.4"/><use href="#m_blk16" x="312.3" y="44.9"/><use href="#m_blk16" x="313.7" y="45.5"/><use href="#m_blk16" x="315.0" y="46.0"/><use href="#m_blk16" x="315.4" y="46.9"/><use href="#m_blk16" x="317.5" y="47.2"/><use href="#m_blk16" x="318.6" y="48.2"/><use href="#m_blk16" x="319.4" y="48.2"/><use href="#m_blk16" x="319.9" y="48.1"/><use href="#m_blk16" x="321.0" y="48.7"/><use href="#m_blk16" x="321.9" y="49.4"/><use href="#m_blk16" x="322.7" y="50.0"/><use href="#m_blk16" x="323.6" y="50.9"/><use href="#m_blk16" x="324.5" y="50.5"/><use href="#m_blk16" x="325.9" y="51.7"/><use href="#m_blk16" x="326.1" y="51.9"/><use href="#m_blk16" x="327.2" y="52.3"/><use href="#m_blk16" x="328.3" y="53.5"/><use href="#m_blk16" x="328.4" y="53.9"/><use href="#m_blk16" x="330.7" y="54.4"/><use href="#m_blk16" x="330.9" y="54.7"/><use href="#m_blk16" x="331.9" y="54.9"/><use href="#m_blk16" x="332.5" y="55.3"/><use href="#m_blk16" x="333.9" y="55.9"/><use href="#m_blk16" x="334.6" y="56.9"/><use href="#m_blk16" x="335.7" y="57.7"/><use href="#m_blk16" x="336.5" y="57.6"/><use href="#m_blk16" x="338.0" y="58.1"/><use href="#m_blk16" x="339.7" y="59.0"/><use href="#m_blk16" x="340.2" y="59.7"/><use href="#m_blk16" x="341.2" y="60.3"/><use href="#m_blk16" x="342.1" y="60.9"/><use href="#m_blk16" x="343.1" y="61.5"/><use href="#m_blk16" x="344.1" y="62.2"/><use href="#m_blk16" x="345.1" y="62.8"/><use href="#m_blk16" x="346.1" y="63.5"/><use href="#m_blk16" x="347.1" y="64.1"/><use href="#m_blk16" x="348.2" y="64.8"/><use href="#m_blk16" x="349.2" y="65.5"/><use href="#m_blk16" x="350.3" y="66.2"/><use href="#m_blk16" x="351.2" y="66.9"/><use href="#m_blk16" x="352.2" y="67.7"/><use href="#m_blk16" x="353.2" y="68.4"/><use href="#m_blk16" x="354.2" y="69.1"/><use href="#m_blk16" x="355.2" y="69.9"/><use href="#m_blk16" x="356.3" y="70.7"/><use href="#m_blk16" x="357.3" y="71.5"/><use href="#m_blk16" x="358.4" y="72.3"/><use href="#m_blk16" x="359.5" y="73.1"/><use href="#m_blk16" x="361.0" y="74.0"/><use href="#m_blk16" x="362.7" y="74.8"/><use href="#m_blk16" x="364.4" y="75.7"/><use href="#m_blk16" x="366.2" y="76.6"/><use href="#m_blk16" x="368.1" y="77.5"/><use href="#m_blk16" x="370.0" y="78.5"/><use href="#m_blk16" x="371.9" y="79.4"/><use href="#m_blk16" x="373.9" y="80.4"/><use href="#m_blk16" x="375.6" y="81.4"/><use href="#m_blk16" x="377.1" y="82.5"/><use href="#m_blk16" x="378.6" y="83.5"/><use href="#m_blk16" x="380.2" y="84.6"/><use href="#m_blk16" x="381.8" y="85.7"/><use href="#m_blk16" x="383.4" y="86.9"/><use href="#m_blk16" x="385.0" y="88.1"/><use href="#m_blk16" x="385.8" y="89.3"/><use href="#m_blk16" x="386.5" y="90.5"/><use href="#m_blk16" x="387.3" y="91.8"/><use href="#m_blk16" x="388.1" y="93.1"/><use href="#m_blk16" x="388.9" y="94.5"/><use href="#m_blk16" x="389.4" y="95.9"/><use href="#m_blk16" x="389.9" y="97.4"/><use href="#m_blk16" x="390.5" y="98.9"/><use href="#m_blk16" x="396.8" y="100.5"/><use href="#m_blk16" x="401.1" y="102.1"/><use href="#m_blk16" x="401.6" y="103.8"/><use href="#m_blk16" x="402.2" y="105.6"/><use href="#m_blk16" x="402.8" y="107.5"/><use href="#m_blk16" x="403.5" y="109.4"/><use href="#m_blk16" x="404.1" y="111.5"/><use href="#m_blk16" x="404.5" y="113.6"/><use href="#m_blk16" x="406.7" y="115.9"/><use href="#m_blk16" x="418.0" y="118.3"/><use href="#m_blk16" x="428.9" y="120.8"/><use href="#m_blk16" x="433.4" y="123.5"/><use href="#m_blk16" x="437.7" y="126.4"/><use href="#m_blk16" x="442.6" y="129.5"/><use href="#m_blk16" x="448.2" y="132.8"/><use href="#m_blk16" x="450.1" y="136.5"/><use href="#m_blk16" x="453.4" y="140.5"/><use href="#m_blk16" x="457.1" y="144.9"/><use href="#m_blk16" x="461.3" y="149.8"/><use href="#m_blk16" x="467.0" y="155.4"/><use href="#m_blk16" x="471.5" y="161.8"/><use href="#m_blk16" x="474.2" y="169.5"/><use href="#m_blk16" x="477.2" y="178.8"/><use href="#m_blk16" x="482.2" y="190.8"/><use href="#m_blk16" x="495.6" y="207.8"/><use href="#m_blk16" x="506.2" y="236.8"/></g><polyline points="47.8,5.6 49.9,5.8 50.6,5.7 51.5,6.4 53.2,5.8 54.3,6.2 56.6,6.7 58.2,5.8 59.0,6.3 60.5,6.3 62.5,6.6 63.2,7.0 64.7,6.0 66.3,7.2 67.7,6.4 69.4,6.2 70.8,6.4 71.9,6.5 72.1,6.7 73.8,7.2 74.9,6.6 76.7,7.5 77.0,6.6 78.2,7.7 80.2,6.9 80.3,7.9 81.6,7.6 83.6,7.8 84.6,7.6 85.8,7.3 87.1,7.3 87.1,8.0 89.9,8.1 90.9,7.4 91.9,7.6 93.0,7.9 93.5,8.2 95.5,8.5 95.7,8.8 98.0,8.2 99.1,8.1 99.4,8.9 100.1,8.5 101.1,8.4 102.8,9.2 104.3,8.5 105.6,9.3 106.1,8.7 107.8,9.7 108.2,9.1 109.5,9.9 110.3,8.9 111.6,9.5 113.8,9.1 114.7,9.8 116.0,10.4 116.9,9.6 118.4,9.5 119.6,10.0 119.7,10.6 121.0,10.3 121.7,10.5 122.6,10.8 123.8,10.7 124.2,10.8 126.3,11.6 127.5,11.1 128.5,12.2 128.7,12.4 130.6,12.5 131.0,12.7 131.4,12.1 132.4,12.9 134.6,12.6 134.5,13.5 136.4,12.9 136.0,13.2 137.2,13.1 137.9,14.3 138.7,14.1 140.5,14.5 140.8,14.1 141.8,14.6 142.8,14.7 143.7,15.7 143.9,15.0 146.0,15.6 146.8,15.3 148.0,15.4 148.7,15.9 149.5,16.8 150.4,17.1 150.3,17.2 151.4,16.7 151.4,16.8 152.9,17.3 152.7,17.3 154.0,18.0 153.7,18.5 154.8,18.7 155.6,18.5 155.7,19.3 156.1,18.6 157.6,19.5 158.3,19.7 159.1,19.7 158.4,20.2 159.2,20.1 160.0,20.3 160.9,20.8 160.9,21.4 161.9,21.5 162.5,21.0 163.2,21.4 163.8,22.1 164.9,21.8 165.6,22.6 165.5,22.8 166.0,23.1 167.0,23.3 168.6,23.7 168.8,23.8 169.0,23.9 169.4,24.2 171.1,24.5 171.2,25.2 171.4,24.6 172.4,25.3 172.0,25.0 172.9,26.2 173.1,25.7 173.7,26.0 173.7,26.3 174.4,27.1 174.9,26.8 174.9,27.1 175.7,28.3 176.4,28.4 176.0,27.8 177.1,28.3 177.3,29.1 177.4,29.6 178.4,29.6 178.3,29.3 179.7,29.5 180.1,30.1 180.4,31.2 181.9,30.7 182.0,31.0 182.3,32.1 183.8,32.1 184.3,31.9 185.4,32.2 186.5,33.3 187.4,32.8 187.2,33.9 188.3,33.9 189.4,33.8 189.9,34.0 190.0,35.3 191.8,35.3 191.9,35.2 193.6,36.4 194.1,36.6 194.5,36.9 195.8,36.5 196.9,36.7 196.8,37.6 198.6,37.8 198.3,38.5 199.9,38.2 200.4,38.9 200.2,39.9 201.0,40.3 201.0,40.0 200.8,40.1 200.6,40.9 200.9,41.4 201.2,41.7 202.4,42.1 202.7,42.3 201.8,43.1 202.4,43.5 202.9,43.6 202.8,43.8 203.9,44.2 203.6,45.4 204.9,45.7 205.5,45.2 207.0,45.4 207.5,46.2 207.5,47.2 207.7,47.5 208.5,47.6 209.0,47.8 208.4,48.8 209.7,48.9 209.0,49.4 209.7,49.5 210.0,50.6 210.8,51.3 212.1,51.5 213.7,51.7 214.3,52.5 215.2,52.6 216.9,53.0 217.7,53.7 217.7,54.3 219.1,54.9 219.3,54.6 220.9,55.4 222.2,56.0 222.5,56.6 223.8,57.0 225.5,57.6 226.7,59.0 227.1,59.4 229.1,59.1 229.9,60.1 229.4,61.2 229.5,61.0 231.0,61.6 231.0,62.9 231.1,63.8 232.1,63.6 232.2,65.2 232.3,65.1 233.0,65.7 233.2,66.9 233.7,67.7 235.5,68.4 236.2,68.8 236.4,69.9 237.2,70.8 237.4,71.4 238.4,72.6 238.2,73.6 238.9,74.4 240.4,75.3 241.2,75.3 241.0,76.7 241.6,77.7 243.0,78.2 242.9,79.9 243.6,80.0 244.9,81.2 245.3,82.0 246.0,83.9 246.6,84.5 247.8,85.8 248.1,86.5 249.2,88.4 249.0,89.1 250.8,90.1 251.6,90.8 251.2,91.8 251.5,92.9 252.5,93.0 253.2,94.1 253.6,94.7 255.1,95.1 255.8,95.5 257.8,96.1 259.6,96.3 260.8,96.7 261.4,97.0 263.5,97.6 264.6,97.4 265.8,98.1 268.0,98.8 269.2,98.4 271.2,99.1 272.0,99.2 273.1,100.4 273.9,100.8 273.9,101.6 275.6,103.8 276.2,105.6 276.7,107.5 277.3,109.4 277.9,111.5 279.2,113.6 280.5,115.9 286.3,118.3 287.6,120.8 288.9,123.5 290.6,126.4 293.4,129.5 297.4,132.8 301.8,136.5 303.9,140.5 308.0,144.9 320.7,149.8 321.3,155.4 324.2,161.8 328.4,169.5 338.7,178.8 345.2,190.8 349.6,207.8 382.5,236.8 400.7,265.6" fill="none" stroke="#f00" stroke-width="1.25" clip-path="url(#pc)"/><g><use href="#m_red16" x="56.6" y="6.7"/><use href="#m_red16" x="58.2" y="5.8"/><use href="#m_red16" x="59.0" y="6.3"/><use href="#m_red16" x="60.5" y="6.3"/><use href="#m_red16" x="62.5" y="6.6"/><use href="#m_red16" x="63.2" y="7.0"/><use href="#m_red16" x="64.7" y="6.0"/><use href="#m_red16" x="66.3" y="7.2"/><use href="#m_red16" x="67.7" y="6.4"/><use href="#m_red16" x="69.4" y="6.2"/><use href="#m_red16" x="70.8" y="6.4"/><use href="#m_red16" x="71.9" y="6.5"/><use href="#m_red16" x="72.1" y="6.7"/><use href="#m_red16" x="73.8" y="7.2"/><use href="#m_red16" x="74.9" y="6.6"/><use href="#m_red16" x="76.7" y="7.5"/><use href="#m_red16" x="77.0" y="6.6"/><use href="#m_red16" x="78.2" y="7.7"/><use href="#m_red16" x="80.2" y="6.9"/><use href="#m_red16" x="80.3" y="7.9"/><use href="#m_red16" x="81.6" y="7.6"/><use href="#m_red16" x="83.6" y="7.8"/><use href="#m_red16" x="84.6" y="7.6"/><use href="#m_red16" x="85.8" y="7.3"/><use href="#m_red16" x="87.1" y="7.3"/><use href="#m_red16" x="87.1" y="8.0"/><use href="#m_red16" x="89.9" y="8.1"/><use href="#m_red16" x="90.9" y="7.4"/><use href="#m_red16" x="91.9" y="7.6"/><use href="#m_red16" x="93.0" y="7.9"/><use href="#m_red16" x="93.5" y="8.2"/><use href="#m_red16" x="95.5" y="8.5"/><use href="#m_red16" x="95.7" y="8.8"/><use href="#m_red16" x="98.0" y="8.2"/><use href="#m_red16" x="99.1" y="8.1"/><use href="#m_red16" x="99.4" y="8.9"/><use href="#m_red16" x="100.1" y="8.5"/><use href="#m_red16" x="101.1" y="8.4"/><use href="#m_red16" x="102.8" y="9.2"/><use href="#m_red16" x="104.3" y="8.5"/><use href="#m_red16" x="105.6" y="9.3"/><use href="#m_red16" x="106.1" y="8.7"/><use href="#m_red16" x="107.8" y="9.7"/><use href="#m_red16" x="108.2" y="9.1"/><use href="#m_red16" x="109.5" y="9.9"/><use href="#m_red16" x="110.3" y="8.9"/><use href="#m_red16" x="111.6" y="9.5"/><use href="#m_red16" x="113.8" y="9.1"/><use href="#m_red16" x="114.7" y="9.8"/><use href="#m_red16" x="116.0" y="10.4"/><use href="#m_red16" x="116.9" y="9.6"/><use href="#m_red16" x="118.4" y="9.5"/><use href="#m_red16" x="119.6" y="10.0"/><use href="#m_red16" x="119.7" y="10.6"/><use href="#m_red16" x="121.0" y="10.3"/><use href="#m_red16" x="121.7" y="10.5"/><use href="#m_red16" x="122.6" y="10.8"/><use href="#m_red16" x="123.8" y="10.7"/><use href="#m_red16" x="124.2" y="10.8"/><use href="#m_red16" x="126.3" y="11.6"/><use href="#m_red16" x="127.5" y="11.1"/><use href="#m_red16" x="128.5" y="12.2"/><use href="#m_red16" x="128.7" y="12.4"/><use href="#m_red16" x="130.6" y="12.5"/><use href="#m_red16" x="131.0" y="12.7"/><use href="#m_red16" x="131.4" y="12.1"/><use href="#m_red16" x="132.4" y="12.9"/><use href="#m_red16" x="134.6" y="12.6"/><use href="#m_red16" x="134.5" y="13.5"/><use href="#m_red16" x="136.4" y="12.9"/><use href="#m_red16" x="136.0" y="13.2"/><use href="#m_red16" x="137.2" y="13.1"/><use href="#m_red16" x="137.9" y="14.3"/><use href="#m_red16" x="138.7" y="14.1"/><use href="#m_red16" x="140.5" y="14.5"/><use href="#m_red16" x="140.8" y="14.1"/><use href="#m_red16" x="141.8" y="14.6"/><use href="#m_red16" x="142.8" y="14.7"/><use href="#m_red16" x="143.7" y="15.7"/><use href="#m_red16" x="143.9" y="15.0"/><use href="#m_red16" x="146.0" y="15.6"/><use href="#m_red16" x="146.8" y="15.3"/><use href="#m_red16" x="148.0" y="15.4"/><use href="#m_red16" x="148.7" y="15.9"/><use href="#m_red16" x="149.5" y="16.8"/><use href="#m_red16" x="150.4" y="17.1"/><use href="#m_red16" x="150.3" y="17.2"/><use href="#m_red16" x="151.4" y="16.7"/><use href="#m_red16" x="151.4" y="16.8"/><use href="#m_red16" x="152.9" y="17.3"/><use href="#m_red16" x="152.7" y="17.3"/><use href="#m_red16" x="154.0" y="18.0"/><use href="#m_red16" x="153.7" y="18.5"/><use href="#m_red16" x="154.8" y="18.7"/><use href="#m_red16" x="155.6" y="18.5"/><use href="#m_red16" x="155.7" y="19.3"/><use href="#m_red16" x="156.1" y="18.6"/><use href="#m_red16" x="157.6" y="19.5"/><use href="#m_red16" x="158.3" y="19.7"/><use href="#m_red16" x="159.1" y="19.7"/><use href="#m_red16" x="158.4" y="20.2"/><use href="#m_red16" x="159.2" y="20.1"/><use href="#m_red16" x="160.0" y="20.3"/><use href="#m_red16" x="160.9" y="20.8"/><use href="#m_red16" x="160.9" y="21.4"/><use href="#m_red16" x="161.9" y="21.5"/><use href="#m_red16" x="162.5" y="21.0"/><use href="#m_red16" x="163.2" y="21.4"/><use href="#m_red16" x="163.8" y="22.1"/><use href="#m_red16" x="164.9" y="21.8"/><use href="#m_red16" x="165.6" y="22.6"/><use href="#m_red16" x="165.5" y="22.8"/><use href="#m_red16" x="166.0" y="23.1"/><use href="#m_red16" x="167.0" y="23.3"/><use href="#m_red16" x="168.6" y="23.7"/><use href="#m_red16" x="168.8" y="23.8"/><use href="#m_red16" x="169.0" y="23.9"/><use href="#m_red16" x="169.4" y="24.2"/><use href="#m_red16" x="171.1" y="24.5"/><use href="#m_red16" x="171.2" y="25.2"/><use href="#m_red16" x="171.4" y="24.6"/><use href="#m_red16" x="172.4" y="25.3"/><use href="#m_red16" x="172.0" y="25.0"/><use href="#m_red16" x="172.9" y="26.2"/><use href="#m_red16" x="173.1" y="25.7"/><use href="#m_red16" x="173.7" y="26.0"/><use href="#m_red16" x="173.7" y="26.3"/><use href="#m_red16" x="174.4" y="27.1"/><use href="#m_red16" x="174.9" y="26.8"/><use href="#m_red16" x="174.9" y="27.1"/><use href="#m_red16" x="175.7" y="28.3"/><use href="#m_red16" x="176.4" y="28.4"/><use href="#m_red16" x="176.0" y="27.8"/><use href="#m_red16" x="177.1" y="28.3"/><use href="#m_red16" x="177.3" y="29.1"/><use href="#m_red16" x="177.4" y="29.6"/><use href="#m_red16" x="178.4" y="29.6"/><use href="#m_red16" x="178.3" y="29.3"/><use href="#m_red16" x="179.7" y="29.5"/><use href="#m_red16" x="180.1" y="30.1"/><use href="#m_red16" x="180.4" y="31.2"/><use href="#m_red16" x="181.9" y="30.7"/><use href="#m_red16" x="182.0" y="31.0"/><use href="#m_red16" x="182.3" y="32.1"/><use href="#m_red16" x="183.8" y="32.1"/><use href="#m_red16" x="184.3" y="31.9"/><use href="#m_red16" x="185.4" y="32.2"/><use href="#m_red16" x="186.5" y="33.3"/><use href="#m_red16" x="187.4" y="32.8"/><use href="#m_red16" x="187.2" y="33.9"/><use href="#m_red16" x="188.3" y="33.9"/><use href="#m_red16" x="189.4" y="33.8"/><use href="#m_red16" x="189.9" y="34.0"/><use href="#m_red16" x="190.0" y="35.3"/><use href="#m_red16" x="191.8" y="35.3"/><use href="#m_red16" x="191.9" y="35.2"/><use href="#m_red16" x="193.6" y="36.4"/><use href="#m_red16" x="194.1" y="36.6"/><use href="#m_red16" x="194.5" y="36.9"/><use href="#m_red16" x="195.8" y="36.5"/><use href="#m_red16" x="196.9" y="36.7"/><use href="#m_red16" x="196.8" y="37.6"/><use href="#m_red16" x="198.6" y="37.8"/><use href="#m_red16" x="198.3" y="38.5"/><use href="#m_red16" x="199.9" y="38.2"/><use href="#m_red16" x="200.4" y="38.9"/><use href="#m_red16" x="200.2" y="39.9"/><use href="#m_red16" x="201.0" y="40.3"/><use href="#m_red16" x="201.0" y="40.0"/><use href="#m_red16" x="200.8" y="40.1"/><use href="#m_red16" x="200.6" y="40.9"/><use href="#m_red16" x="200.9" y="41.4"/><use href="#m_red16" x="201.2" y="41.7"/><use href="#m_red16" x="202.4" y="42.1"/><use href="#m_red16" x="202.7" y="42.3"/><use href="#m_red16" x="201.8" y="43.1"/><use href="#m_red16" x="202.4" y="43.5"/><use href="#m_red16" x="202.9" y="43.6"/><use href="#m_red16" x="202.8" y="43.8"/><use href="#m_red16" x="203.9" y="44.2"/><use href="#m_red16" x="203.6" y="45.4"/><use href="#m_red16" x="204.9" y="45.7"/><use href="#m_red16" x="205.5" y="45.2"/><use href="#m_red16" x="207.0" y="45.4"/><use href="#m_red16" x="207.5" y="46.2"/><use href="#m_red16" x="207.5" y="47.2"/><use href="#m_red16" x="207.7" y="47.5"/><use href="#m_red16" x="208.5" y="47.6"/><use href="#m_red16" x="209.0" y="47.8"/><use href="#m_red16" x="208.4" y="48.8"/><use href="#m_red16" x="209.7" y="48.9"/><use href="#m_red16" x="209.0" y="49.4"/><use href="#m_red16" x="209.7" y="49.5"/><use href="#m_red16" x="210.0" y="50.6"/><use href="#m_red16" x="210.8" y="51.3"/><use href="#m_red16" x="212.1" y="51.5"/><use href="#m_red16" x="213.7" y="51.7"/><use href="#m_red16" x="214.3" y="52.5"/><use href="#m_red16" x="215.2" y="52.6"/><use href="#m_red16" x="216.9" y="53.0"/><use href="#m_red16" x="217.7" y="53.7"/><use href="#m_red16" x="217.7" y="54.3"/><use href="#m_red16" x="219.1" y="54.9"/><use href="#m_red16" x="219.3" y="54.6"/><use href="#m_red16" x="220.9" y="55.4"/><use href="#m_red16" x="222.2" y="56.0"/><use href="#m_red16" x="222.5" y="56.6"/><use href="#m_red16" x="223.8" y="57.0"/><use href="#m_red16" x="225.5" y="57.6"/><use href="#m_red16" x="226.7" y="59.0"/><use href="#m_red16" x="227.1" y="59.4"/><use href="#m_red16" x="229.1" y="59.1"/><use href="#m_red16" x="229.9" y="60.1"/><use href="#m_red16" x="229.4" y="61.2"/><use href="#m_red16" x="229.5" y="61.0"/><use href="#m_red16" x="231.0" y="61.6"/><use href="#m_red16" x="231.0" y="62.9"/><use href="#m_red16" x="231.1" y="63.8"/><use href="#m_red16" x="232.1" y="63.6"/><use href="#m_red16" x="232.2" y="65.2"/><use href="#m_red16" x="232.3" y="65.1"/><use href="#m_red16" x="233.0" y="65.7"/><use href="#m_red16" x="233.2" y="66.9"/><use href="#m_red16" x="233.7" y="67.7"/><use href="#m_red16" x="235.5" y="68.4"/><use href="#m_red16" x="236.2" y="68.8"/><use href="#m_red16" x="236.4" y="69.9"/><use href="#m_red16" x="237.2" y="70.8"/><use href="#m_red16" x="237.4" y="71.4"/><use href="#m_red16" x="238.4" y="72.6"/><use href="#m_red16" x="238.2" y="73.6"/><use href="#m_red16" x="238.9" y="74.4"/><use href="#m_red16" x="240.4" y="75.3"/><use href="#m_red16" x="241.2" y="75.3"/><use href="#m_red16" x="241.0" y="76.7"/><use href="#m_red16" x="241.6" y="77.7"/><use href="#m_red16" x="243.0" y="78.2"/><use href="#m_red16" x="242.9" y="79.9"/><use href="#m_red16" x="243.6" y="80.0"/><use href="#m_red16" x="244.9" y="81.2"/><use href="#m_red16" x="245.3" y="82.0"/><use href="#m_red16" x="246.0" y="83.9"/><use href="#m_red16" x="246.6" y="84.5"/><use href="#m_red16" x="247.8" y="85.8"/><use href="#m_red16" x="248.1" y="86.5"/><use href="#m_red16" x="249.2" y="88.4"/><use href="#m_red16" x="249.0" y="89.1"/><use href="#m_red16" x="250.8" y="90.1"/><use href="#m_red16" x="251.6" y="90.8"/><use href="#m_red16" x="251.2" y="91.8"/><use href="#m_red16" x="251.5" y="92.9"/><use href="#m_red16" x="252.5" y="93.0"/><use href="#m_red16" x="253.2" y="94.1"/><use href="#m_red16" x="253.6" y="94.7"/><use href="#m_red16" x="255.1" y="95.1"/><use href="#m_red16" x="255.8" y="95.5"/><use href="#m_red16" x="257.8" y="96.1"/><use href="#m_red16" x="259.6" y="96.3"/><use href="#m_red16" x="260.8" y="96.7"/><use href="#m_red16" x="261.4" y="97.0"/><use href="#m_red16" x="263.5" y="97.6"/><use href="#m_red16" x="264.6" y="97.4"/><use href="#m_red16" x="265.8" y="98.1"/><use href="#m_red16" x="268.0" y="98.8"/><use href="#m_red16" x="269.2" y="98.4"/><use href="#m_red16" x="271.2" y="99.1"/><use href="#m_red16" x="272.0" y="99.2"/><use href="#m_red16" x="273.1" y="100.4"/><use href="#m_red16" x="273.9" y="100.8"/><use href="#m_red16" x="273.9" y="101.6"/><use href="#m_red16" x="275.6" y="103.8"/><use href="#m_red16" x="276.2" y="105.6"/><use href="#m_red16" x="276.7" y="107.5"/><use href="#m_red16" x="277.3" y="109.4"/><use href="#m_red16" x="277.9" y="111.5"/><use href="#m_red16" x="279.2" y="113.6"/><use href="#m_red16" x="280.5" y="115.9"/><use href="#m_red16" x="286.3" y="118.3"/><use href="#m_red16" x="287.6" y="120.8"/><use href="#m_red16" x="288.9" y="123.5"/><use href="#m_red16" x="290.6" y="126.4"/><use href="#m_red16" x="293.4" y="129.5"/><use href="#m_red16" x="297.4" y="132.8"/><use href="#m_red16" x="301.8" y="136.5"/><use href="#m_red16" x="303.9" y="140.5"/><use href="#m_red16" x="308.0" y="144.9"/><use href="#m_red16" x="320.7" y="149.8"/><use href="#m_red16" x="321.3" y="155.4"/><use href="#m_red16" x="324.2" y="161.8"/><use href="#m_red16" x="328.4" y="169.5"/><use href="#m_red16" x="338.7" y="178.8"/><use href="#m_red16" x="345.2" y="190.8"/><use href="#m_red16" x="349.6" y="207.8"/><use href="#m_red16" x="382.5" y="236.8"/><use href="#m_red16" x="400.7" y="265.6"/></g><polyline points="51.0,12.5 52.5,12.8 52.9,13.2 54.2,13.1 55.4,13.0 55.8,13.5 55.8,13.2 56.2,13.6 56.5,13.3 56.5,13.7 56.9,13.8 57.6,13.6 57.5,14.0 57.9,14.3 58.4,14.0 59.0,14.3 59.2,14.5 59.4,14.2 59.5,14.8 60.1,14.3 60.1,14.5 60.5,14.9 61.3,15.0 61.3,15.3 61.4,15.4 62.1,15.1 62.5,15.2 62.7,15.4 62.6,15.8 63.0,15.6 63.6,15.6 63.5,15.8 64.0,16.2 64.4,16.3 64.4,16.4 65.3,16.6 65.1,16.2 65.7,16.5 65.9,16.4 66.4,16.7 66.7,16.6 66.6,16.9 66.9,16.9 67.6,17.2 67.9,17.3 68.1,17.5 67.9,17.6 68.7,17.7 68.8,17.5 69.3,18.1 69.1,17.7 69.6,18.2 69.9,18.4 70.4,18.3 70.3,18.5 70.4,18.3 70.9,18.5 71.0,18.7 71.1,19.0 71.4,19.2 71.2,19.3 71.8,19.3 71.5,19.6 72.1,19.4 71.9,19.7 72.4,19.6 72.7,20.1 72.7,20.1 72.9,19.9 73.2,20.2 73.4,20.2 73.7,20.5 73.7,20.7 73.7,20.8 74.2,21.0 74.2,20.6 74.1,20.8 74.2,21.0 74.7,21.5 74.6,21.6 75.1,21.6 75.5,21.5 75.6,21.8 75.5,22.0 76.1,21.7 76.2,22.0 76.5,21.9 76.6,22.3 76.4,22.4 77.0,22.5 76.9,22.9 77.4,22.6 77.4,22.9 77.4,22.9 77.6,23.0 78.0,23.2 78.4,23.2 78.3,23.8 78.8,23.5 79.2,23.6 79.0,23.7 79.3,24.1 79.9,24.2 80.1,24.6 79.8,24.3 80.5,24.5 80.5,24.8 80.7,25.1 80.7,24.9 80.9,25.0 81.8,25.0 81.7,25.2 82.1,25.3 82.3,25.7 82.7,25.6 82.6,26.2 82.9,26.0 83.4,26.4 83.5,26.3 83.4,26.4 84.1,26.4 83.8,26.8 84.6,27.2 84.6,27.2 84.8,27.2 85.3,27.1 85.6,27.4 85.4,27.5 86.2,27.9 86.4,28.0 86.5,27.9 86.8,28.1 87.0,28.5 87.6,28.3 87.5,28.6 88.1,28.8 88.3,28.9 88.7,28.9 89.1,29.1 88.9,29.1 89.6,29.5 90.0,29.8 89.9,29.9 90.5,29.9 91.1,29.9 91.0,30.2 91.2,30.4 91.9,30.5 91.5,30.5 92.2,30.8 92.0,30.8 92.5,31.0 92.5,31.2 92.7,31.6 93.1,31.6 93.4,31.7 93.9,31.7 93.9,31.9 93.8,32.3 94.2,32.5 94.6,32.3 94.5,32.4 95.1,32.8 95.1,32.9 95.5,33.4 96.0,33.5 96.2,33.3 96.1,33.8 96.3,33.9 96.4,34.1 96.8,34.0 97.5,34.1 97.7,34.4 97.5,34.4 97.6,34.7 98.1,34.9 98.1,35.4 98.9,35.4 98.7,35.3 99.2,35.5 99.3,35.7 99.9,36.1 99.8,36.4 100.4,36.5 100.7,36.5 100.9,36.6 100.9,37.1 101.3,36.8 101.5,37.1 102.2,37.4 102.2,37.8 102.3,37.6 103.2,37.9 103.2,37.9 103.6,38.4 104.0,38.3 104.1,38.8 104.6,38.6 104.4,39.2 104.9,39.2 105.4,39.2 105.3,39.6 106.0,40.0 105.9,40.0 106.2,40.2 106.8,40.3 106.9,40.5 107.4,40.9 107.4,41.1 107.6,41.1 108.0,41.4 108.2,41.5 108.7,41.6 108.8,41.7 109.3,41.8 109.4,42.1 109.6,42.2 109.6,42.4 110.0,43.0 110.0,43.1 110.5,43.5 110.8,43.2 110.9,43.9 111.4,43.9 111.5,44.0 111.7,44.4 111.9,44.4 112.2,44.6 113.0,44.8 112.7,45.4 113.3,45.7 113.8,45.6 113.8,45.6 114.1,45.9 114.4,46.5 114.9,46.7 115.3,46.9 115.1,47.0 115.9,47.3 116.2,47.4 116.0,47.6 116.7,48.0 116.8,48.3 117.5,48.5 117.7,48.8 117.6,48.7 118.1,49.0 118.6,49.2 118.7,49.2 118.8,49.7 119.3,49.8 119.5,50.0 119.9,50.4 120.3,50.7 121.0,50.7 121.3,51.3 121.8,51.7 121.7,51.4 122.4,52.0 123.0,52.2 123.3,52.2 123.4,52.5 123.6,52.7 124.5,53.1 124.8,53.6 125.2,53.6 125.6,54.0 126.1,54.4 126.4,54.8 126.3,54.7 126.3,55.3 127.0,55.2 127.3,55.9 127.7,56.2 127.6,56.0 127.6,56.3 128.1,56.8 128.2,57.3 128.9,57.5 128.9,57.6 129.7,57.7 129.4,58.0 129.7,58.3 129.9,58.6 130.5,59.0 130.8,59.4 131.2,59.7 131.7,60.2 132.0,60.3 131.8,60.6 132.2,60.9 132.7,61.3 133.0,61.3 133.0,61.7 132.7,61.9 133.2,62.3 133.4,62.5 133.4,63.0 134.1,63.5 134.3,64.0 134.4,64.2 134.4,64.4 135.0,65.0 134.8,65.0 135.3,65.5 135.6,66.1 135.6,66.0 135.7,66.5 136.2,66.7 136.7,67.2 136.6,67.5 137.3,68.1 137.6,68.2 137.5,68.7 138.1,68.9 138.3,69.3 138.6,69.7 139.1,70.2 139.7,71.0 140.1,71.1 140.3,71.3 140.9,71.9 141.3,72.2 141.4,72.6 141.7,73.0 142.6,73.4 142.7,74.2 142.9,74.3 143.1,74.6 144.0,75.3 144.0,75.5 144.6,76.0 144.8,76.8 145.4,77.3 145.4,77.3 145.7,77.9 146.2,78.3 146.6,78.9 147.5,79.2 148.5,79.7 149.0,80.4 149.7,81.0 150.6,81.5 151.5,81.7 152.4,82.5 153.1,82.8 153.7,83.7 154.1,84.1 155.1,84.6 155.4,85.3 156.2,85.6 156.8,86.4 157.0,86.7 157.5,87.4 158.4,88.0 158.5,88.4 159.8,89.0 160.3,90.1 160.6,90.6 161.3,91.3 161.7,91.9 162.4,92.3 162.6,93.3 163.3,93.8 164.1,94.3 164.1,95.0 164.8,96.2 166.0,96.8 166.3,97.6 167.0,98.2 168.0,98.8 168.8,99.9 169.3,100.6 169.9,101.5 171.2,102.1 172.5,103.0 173.8,103.8 175.1,104.7 176.5,105.6 177.9,106.5 178.4,107.5 178.9,108.4 179.4,109.4 179.9,110.4 180.4,111.5 181.0,112.5 181.5,113.6 181.9,114.7 182.3,115.9 182.7,117.1 183.1,118.3 183.5,119.5 183.9,120.8 184.3,122.1 185.1,123.5 186.0,124.9 187.0,126.4 188.1,127.9 189.1,129.5 190.1,131.1 191.1,132.8 192.2,134.6 194.3,136.5 197.2,138.4 199.1,140.5 200.7,142.6 201.7,144.9 202.5,147.3 203.3,149.8 203.9,152.5 204.6,155.4 205.6,158.5 207.5,161.8 208.9,165.5 213.7,169.5 214.8,173.9 224.7,178.8 228.1,184.4 231.6,190.8 234.4,198.5 235.9,207.8 244.1,219.8 250.8,236.8 285.6,265.8" fill="none" stroke="#00f" stroke-width="1.25" clip-path="url(#pc)"/><g><use href="#m_blu4" x="54.2" y="13.1"/><use href="#m_blu4" x="55.4" y="13.0"/><use href="#m_blu4" x="55.8" y="13.5"/><use href="#m_blu4" x="55.8" y="13.2"/><use href="#m_blu4" x="56.2" y="13.6"/><use href="#m_blu4" x="56.5" y="13.3"/><use href="#m_blu4" x="56.5" y="13.7"/><use href="#m_blu4" x="56.9" y="13.8"/><use href="#m_blu4" x="57.6" y="13.6"/><use href="#m_blu4" x="57.5" y="14.0"/><use href="#m_blu4" x="57.9" y="14.3"/><use href="#m_blu4" x="58.4" y="14.0"/><use href="#m_blu4" x="59.0" y="14.3"/><use href="#m_blu4" x="59.2" y="14.5"/><use href="#m_blu4" x="59.4" y="14.2"/><use href="#m_blu4" x="59.5" y="14.8"/><use href="#m_blu4" x="60.1" y="14.3"/><use href="#m_blu4" x="60.1" y="14.5"/><use href="#m_blu4" x="60.5" y="14.9"/><use href="#m_blu4" x="61.3" y="15.0"/><use href="#m_blu4" x="61.3" y="15.3"/><use href="#m_blu4" x="61.4" y="15.4"/><use href="#m_blu4" x="62.1" y="15.1"/><use href="#m_blu4" x="62.5" y="15.2"/><use href="#m_blu4" x="62.7" y="15.4"/><use href="#m_blu4" x="62.6" y="15.8"/><use href="#m_blu4" x="63.0" y="15.6"/><use href="#m_blu4" x="63.6" y="15.6"/><use href="#m_blu4" x="63.5" y="15.8"/><use href="#m_blu4" x="64.0" y="16.2"/><use href="#m_blu4" x="64.4" y="16.3"/><use href="#m_blu4" x="64.4" y="16.4"/><use href="#m_blu4" x="65.3" y="16.6"/><use href="#m_blu4" x="65.1" y="16.2"/><use href="#m_blu4" x="65.7" y="16.5"/><use href="#m_blu4" x="65.9" y="16.4"/><use href="#m_blu4" x="66.4" y="16.7"/><use href="#m_blu4" x="66.7" y="16.6"/><use href="#m_blu4" x="66.6" y="16.9"/><use href="#m_blu4" x="66.9" y="16.9"/><use href="#m_blu4" x="67.6" y="17.2"/><use href="#m_blu4" x="67.9" y="17.3"/><use href="#m_blu4" x="68.1" y="17.5"/><use href="#m_blu4" x="67.9" y="17.6"/><use href="#m_blu4" x="68.7" y="17.7"/><use href="#m_blu4" x="68.8" y="17.5"/><use href="#m_blu4" x="69.3" y="18.1"/><use href="#m_blu4" x="69.1" y="17.7"/><use href="#m_blu4" x="69.6" y="18.2"/><use href="#m_blu4" x="69.9" y="18.4"/><use href="#m_blu4" x="70.4" y="18.3"/><use href="#m_blu4" x="70.3" y="18.5"/><use href="#m_blu4" x="70.4" y="18.3"/><use href="#m_blu4" x="70.9" y="18.5"/><use href="#m_blu4" x="71.0" y="18.7"/><use href="#m_blu4" x="71.1" y="19.0"/><use href="#m_blu4" x="71.4" y="19.2"/><use href="#m_blu4" x="71.2" y="19.3"/><use href="#m_blu4" x="71.8" y="19.3"/><use href="#m_blu4" x="71.5" y="19.6"/><use href="#m_blu4" x="72.1" y="19.4"/><use href="#m_blu4" x="71.9" y="19.7"/><use href="#m_blu4" x="72.4" y="19.6"/><use href="#m_blu4" x="72.7" y="20.1"/><use href="#m_blu4" x="72.7" y="20.1"/><use href="#m_blu4" x="72.9" y="19.9"/><use href="#m_blu4" x="73.2" y="20.2"/><use href="#m_blu4" x="73.4" y="20.2"/><use href="#m_blu4" x="73.7" y="20.5"/><use href="#m_blu4" x="73.7" y="20.7"/><use href="#m_blu4" x="73.7" y="20.8"/><use href="#m_blu4" x="74.2" y="21.0"/><use href="#m_blu4" x="74.2" y="20.6"/><use href="#m_blu4" x="74.1" y="20.8"/><use href="#m_blu4" x="74.2" y="21.0"/><use href="#m_blu4" x="74.7" y="21.5"/><use href="#m_blu4" x="74.6" y="21.6"/><use href="#m_blu4" x="75.1" y="21.6"/><use href="#m_blu4" x="75.5" y="21.5"/><use href="#m_blu4" x="75.6" y="21.8"/><use href="#m_blu4" x="75.5" y="22.0"/><use href="#m_blu4" x="76.1" y="21.7"/><use href="#m_blu4" x="76.2" y="22.0"/><use href="#m_blu4" x="76.5" y="21.9"/><use href="#m_blu4" x="76.6" y="22.3"/><use href="#m_blu4" x="76.4" y="22.4"/><use href="#m_blu4" x="77.0" y="22.5"/><use href="#m_blu4" x="76.9" y="22.9"/><use href="#m_blu4" x="77.4" y="22.6"/><use href="#m_blu4" x="77.4" y="22.9"/><use href="#m_blu4" x="77.4" y="22.9"/><use href="#m_blu4" x="77.6" y="23.0"/><use href="#m_blu4" x="78.0" y="23.2"/><use href="#m_blu4" x="78.4" y="23.2"/><use href="#m_blu4" x="78.3" y="23.8"/><use href="#m_blu4" x="78.8" y="23.5"/><use href="#m_blu4" x="79.2" y="23.6"/><use href="#m_blu4" x="79.0" y="23.7"/><use href="#m_blu4" x="79.3" y="24.1"/><use href="#m_blu4" x="79.9" y="24.2"/><use href="#m_blu4" x="80.1" y="24.6"/><use href="#m_blu4" x="79.8" y="24.3"/><use href="#m_blu4" x="80.5" y="24.5"/><use href="#m_blu4" x="80.5" y="24.8"/><use href="#m_blu4" x="80.7" y="25.1"/><use href="#m_blu4" x="80.7" y="24.9"/><use href="#m_blu4" x="80.9" y="25.0"/><use href="#m_blu4" x="81.8" y="25.0"/><use href="#m_blu4" x="81.7" y="25.2"/><use href="#m_blu4" x="82.1" y="25.3"/><use href="#m_blu4" x="82.3" y="25.7"/><use href="#m_blu4" x="82.7" y="25.6"/><use href="#m_blu4" x="82.6" y="26.2"/><use href="#m_blu4" x="82.9" y="26.0"/><use href="#m_blu4" x="83.4" y="26.4"/><use href="#m_blu4" x="83.5" y="26.3"/><use href="#m_blu4" x="83.4" y="26.4"/><use href="#m_blu4" x="84.1" y="26.4"/><use href="#m_blu4" x="83.8" y="26.8"/><use href="#m_blu4" x="84.6" y="27.2"/><use href="#m_blu4" x="84.6" y="27.2"/><use href="#m_blu4" x="84.8" y="27.2"/><use href="#m_blu4" x="85.3" y="27.1"/><use href="#m_blu4" x="85.6" y="27.4"/><use href="#m_blu4" x="85.4" y="27.5"/><use href="#m_blu4" x="86.2" y="27.9"/><use href="#m_blu4" x="86.4" y="28.0"/><use href="#m_blu4" x="86.5" y="27.9"/><use href="#m_blu4" x="86.8" y="28.1"/><use href="#m_blu4" x="87.0" y="28.5"/><use href="#m_blu4" x="87.6" y="28.3"/><use href="#m_blu4" x="87.5" y="28.6"/><use href="#m_blu4" x="88.1" y="28.8"/><use href="#m_blu4" x="88.3" y="28.9"/><use href="#m_blu4" x="88.7" y="28.9"/><use href="#m_blu4" x="89.1" y="29.1"/><use href="#m_blu4" x="88.9" y="29.1"/><use href="#m_blu4" x="89.6" y="29.5"/><use href="#m_blu4" x="90.0" y="29.8"/><use href="#m_blu4" x="89.9" y="29.9"/><use href="#m_blu4" x="90.5" y="29.9"/><use href="#m_blu4" x="91.1" y="29.9"/><use href="#m_blu4" x="91.0" y="30.2"/><use href="#m_blu4" x="91.2" y="30.4"/><use href="#m_blu4" x="91.9" y="30.5"/><use href="#m_blu4" x="91.5" y="30.5"/><use href="#m_blu4" x="92.2" y="30.8"/><use href="#m_blu4" x="92.0" y="30.8"/><use href="#m_blu4" x="92.5" y="31.0"/><use href="#m_blu4" x="92.5" y="31.2"/><use href="#m_blu4" x="92.7" y="31.6"/><use href="#m_blu4" x="93.1" y="31.6"/><use href="#m_blu4" x="93.4" y="31.7"/><use href="#m_blu4" x="93.9" y="31.7"/><use href="#m_blu4" x="93.9" y="31.9"/><use href="#m_blu4" x="93.8" y="32.3"/><use href="#m_blu4" x="94.2" y="32.5"/><use href="#m_blu4" x="94.6" y="32.3"/><use href="#m_blu4" x="94.5" y="32.4"/><use href="#m_blu4" x="95.1" y="32.8"/><use href="#m_blu4" x="95.1" y="32.9"/><use href="#m_blu4" x="95.5" y="33.4"/><use href="#m_blu4" x="96.0" y="33.5"/><use href="#m_blu4" x="96.2" y="33.3"/><use href="#m_blu4" x="96.1" y="33.8"/><use href="#m_blu4" x="96.3" y="33.9"/><use href="#m_blu4" x="96.4" y="34.1"/><use href="#m_blu4" x="96.8" y="34.0"/><use href="#m_blu4" x="97.5" y="34.1"/><use href="#m_blu4" x="97.7" y="34.4"/><use href="#m_blu4" x="97.5" y="34.4"/><use href="#m_blu4" x="97.6" y="34.7"/><use href="#m_blu4" x="98.1" y="34.9"/><use href="#m_blu4" x="98.1" y="35.4"/><use href="#m_blu4" x="98.9" y="35.4"/><use href="#m_blu4" x="98.7" y="35.3"/><use href="#m_blu4" x="99.2" y="35.5"/><use href="#m_blu4" x="99.3" y="35.7"/><use href="#m_blu4" x="99.9" y="36.1"/><use href="#m_blu4" x="99.8" y="36.4"/><use href="#m_blu4" x="100.4" y="36.5"/><use href="#m_blu4" x="100.7" y="36.5"/><use href="#m_blu4" x="100.9" y="36.6"/><use href="#m_blu4" x="100.9" y="37.1"/><use href="#m_blu4" x="101.3" y="36.8"/><use href="#m_blu4" x="101.5" y="37.1"/><use href="#m_blu4" x="102.2" y="37.4"/><use href="#m_blu4" x="102.2" y="37.8"/><use href="#m_blu4" x="102.3" y="37.6"/><use href="#m_blu4" x="103.2" y="37.9"/><use href="#m_blu4" x="103.2" y="37.9"/><use href="#m_blu4" x="103.6" y="38.4"/><use href="#m_blu4" x="104.0" y="38.3"/><use href="#m_blu4" x="104.1" y="38.8"/><use href="#m_blu4" x="104.6" y="38.6"/><use href="#m_blu4" x="104.4" y="39.2"/><use href="#m_blu4" x="104.9" y="39.2"/><use href="#m_blu4" x="105.4" y="39.2"/><use href="#m_blu4" x="105.3" y="39.6"/><use href="#m_blu4" x="106.0" y="40.0"/><use href="#m_blu4" x="105.9" y="40.0"/><use href="#m_blu4" x="106.2" y="40.2"/><use href="#m_blu4" x="106.8" y="40.3"/><use href="#m_blu4" x="106.9" y="40.5"/><use href="#m_blu4" x="107.4" y="40.9"/><use href="#m_blu4" x="107.4" y="41.1"/><use href="#m_blu4" x="107.6" y="41.1"/><use href="#m_blu4" x="108.0" y="41.4"/><use href="#m_blu4" x="108.2" y="41.5"/><use href="#m_blu4" x="108.7" y="41.6"/><use href="#m_blu4" x="108.8" y="41.7"/><use href="#m_blu4" x="109.3" y="41.8"/><use href="#m_blu4" x="109.4" y="42.1"/><use href="#m_blu4" x="109.6" y="42.2"/><use href="#m_blu4" x="109.6" y="42.4"/><use href="#m_blu4" x="110.0" y="43.0"/><use href="#m_blu4" x="110.0" y="43.1"/><use href="#m_blu4" x="110.5" y="43.5"/><use href="#m_blu4" x="110.8" y="43.2"/><use href="#m_blu4" x="110.9" y="43.9"/><use href="#m_blu4" x="111.4" y="43.9"/><use href="#m_blu4" x="111.5" y="44.0"/><use href="#m_blu4" x="111.7" y="44.4"/><use href="#m_blu4" x="111.9" y="44.4"/><use href="#m_blu4" x="112.2" y="44.6"/><use href="#m_blu4" x="113.0" y="44.8"/><use href="#m_blu4" x="112.7" y="45.4"/><use href="#m_blu4" x="113.3" y="45.7"/><use href="#m_blu4" x="113.8" y="45.6"/><use href="#m_blu4" x="113.8" y="45.6"/><use href="#m_blu4" x="114.1" y="45.9"/><use href="#m_blu4" x="114.4" y="46.5"/><use href="#m_blu4" x="114.9" y="46.7"/><use href="#m_blu4" x="115.3" y="46.9"/><use href="#m_blu4" x="115.1" y="47.0"/><use href="#m_blu4" x="115.9" y="47.3"/><use href="#m_blu4" x="116.2" y="47.4"/><use href="#m_blu4" x="116.0" y="47.6"/><use href="#m_blu4" x="116.7" y="48.0"/><use href="#m_blu4" x="116.8" y="48.3"/><use href="#m_blu4" x="117.5" y="48.5"/><use href="#m_blu4" x="117.7" y="48.8"/><use href="#m_blu4" x="117.6" y="48.7"/><use href="#m_blu4" x="118.1" y="49.0"/><use href="#m_blu4" x="118.6" y="49.2"/><use href="#m_blu4" x="118.7" y="49.2"/><use href="#m_blu4" x="118.8" y="49.7"/><use href="#m_blu4" x="119.3" y="49.8"/><use href="#m_blu4" x="119.5" y="50.0"/><use href="#m_blu4" x="119.9" y="50.4"/><use href="#m_blu4" x="120.3" y="50.7"/><use href="#m_blu4" x="121.0" y="50.7"/><use href="#m_blu4" x="121.3" y="51.3"/><use href="#m_blu4" x="121.8" y="51.7"/><use href="#m_blu4" x="121.7" y="51.4"/><use href="#m_blu4" x="122.4" y="52.0"/><use href="#m_blu4" x="123.0" y="52.2"/><use href="#m_blu4" x="123.3" y="52.2"/><use href="#m_blu4" x="123.4" y="52.5"/><use href="#m_blu4" x="123.6" y="52.7"/><use href="#m_blu4" x="124.5" y="53.1"/><use href="#m_blu4" x="124.8" y="53.6"/><use href="#m_blu4" x="125.2" y="53.6"/><use href="#m_blu4" x="125.6" y="54.0"/><use href="#m_blu4" x="126.1" y="54.4"/><use href="#m_blu4" x="126.4" y="54.8"/><use href="#m_blu4" x="126.3" y="54.7"/><use href="#m_blu4" x="126.3" y="55.3"/><use href="#m_blu4" x="127.0" y="55.2"/><use href="#m_blu4" x="127.3" y="55.9"/><use href="#m_blu4" x="127.7" y="56.2"/><use href="#m_blu4" x="127.6" y="56.0"/><use href="#m_blu4" x="127.6" y="56.3"/><use href="#m_blu4" x="128.1" y="56.8"/><use href="#m_blu4" x="128.2" y="57.3"/><use href="#m_blu4" x="128.9" y="57.5"/><use href="#m_blu4" x="128.9" y="57.6"/><use href="#m_blu4" x="129.7" y="57.7"/><use href="#m_blu4" x="129.4" y="58.0"/><use href="#m_blu4" x="129.7" y="58.3"/><use href="#m_blu4" x="129.9" y="58.6"/><use href="#m_blu4" x="130.5" y="59.0"/><use href="#m_blu4" x="130.8" y="59.4"/><use href="#m_blu4" x="131.2" y="59.7"/><use href="#m_blu4" x="131.7" y="60.2"/><use href="#m_blu4" x="132.0" y="60.3"/><use href="#m_blu4" x="131.8" y="60.6"/><use href="#m_blu4" x="132.2" y="60.9"/><use href="#m_blu4" x="132.7" y="61.3"/><use href="#m_blu4" x="133.0" y="61.3"/><use href="#m_blu4" x="133.0" y="61.7"/><use href="#m_blu4" x="132.7" y="61.9"/><use href="#m_blu4" x="133.2" y="62.3"/><use href="#m_blu4" x="133.4" y="62.5"/><use href="#m_blu4" x="133.4" y="63.0"/><use href="#m_blu4" x="134.1" y="63.5"/><use href="#m_blu4" x="134.3" y="64.0"/><use href="#m_blu4" x="134.4" y="64.2"/><use href="#m_blu4" x="134.4" y="64.4"/><use href="#m_blu4" x="135.0" y="65.0"/><use href="#m_blu4" x="134.8" y="65.0"/><use href="#m_blu4" x="135.3" y="65.5"/><use href="#m_blu4" x="135.6" y="66.1"/><use href="#m_blu4" x="135.6" y="66.0"/><use href="#m_blu4" x="135.7" y="66.5"/><use href="#m_blu4" x="136.2" y="66.7"/><use href="#m_blu4" x="136.7" y="67.2"/><use href="#m_blu4" x="136.6" y="67.5"/><use href="#m_blu4" x="137.3" y="68.1"/><use href="#m_blu4" x="137.6" y="68.2"/><use href="#m_blu4" x="137.5" y="68.7"/><use href="#m_blu4" x="138.1" y="68.9"/><use href="#m_blu4" x="138.3" y="69.3"/><use href="#m_blu4" x="138.6" y="69.7"/><use href="#m_blu4" x="139.1" y="70.2"/><use href="#m_blu4" x="139.7" y="71.0"/><use href="#m_blu4" x="140.1" y="71.1"/><use href="#m_blu4" x="140.3" y="71.3"/><use href="#m_blu4" x="140.9" y="71.9"/><use href="#m_blu4" x="141.3" y="72.2"/><use href="#m_blu4" x="141.4" y="72.6"/><use href="#m_blu4" x="141.7" y="73.0"/><use href="#m_blu4" x="142.6" y="73.4"/><use href="#m_blu4" x="142.7" y="74.2"/><use href="#m_blu4" x="142.9" y="74.3"/><use href="#m_blu4" x="143.1" y="74.6"/><use href="#m_blu4" x="144.0" y="75.3"/><use href="#m_blu4" x="144.0" y="75.5"/><use href="#m_blu4" x="144.6" y="76.0"/><use href="#m_blu4" x="144.8" y="76.8"/><use href="#m_blu4" x="145.4" y="77.3"/><use href="#m_blu4" x="145.4" y="77.3"/><use href="#m_blu4" x="145.7" y="77.9"/><use href="#m_blu4" x="146.2" y="78.3"/><use href="#m_blu4" x="146.6" y="78.9"/><use href="#m_blu4" x="147.5" y="79.2"/><use href="#m_blu4" x="148.5" y="79.7"/><use href="#m_blu4" x="149.0" y="80.4"/><use href="#m_blu4" x="149.7" y="81.0"/><use href="#m_blu4" x="150.6" y="81.5"/><use href="#m_blu4" x="151.5" y="81.7"/><use href="#m_blu4" x="152.4" y="82.5"/><use href="#m_blu4" x="153.1" y="82.8"/><use href="#m_blu4" x="153.7" y="83.7"/><use href="#m_blu4" x="154.1" y="84.1"/><use href="#m_blu4" x="155.1" y="84.6"/><use href="#m_blu4" x="155.4" y="85.3"/><use href="#m_blu4" x="156.2" y="85.6"/><use href="#m_blu4" x="156.8" y="86.4"/><use href="#m_blu4" x="157.0" y="86.7"/><use href="#m_blu4" x="157.5" y="87.4"/><use href="#m_blu4" x="158.4" y="88.0"/><use href="#m_blu4" x="158.5" y="88.4"/><use href="#m_blu4" x="159.8" y="89.0"/><use href="#m_blu4" x="160.3" y="90.1"/><use href="#m_blu4" x="160.6" y="90.6"/><use href="#m_blu4" x="161.3" y="91.3"/><use href="#m_blu4" x="161.7" y="91.9"/><use href="#m_blu4" x="162.4" y="92.3"/><use href="#m_blu4" x="162.6" y="93.3"/><use href="#m_blu4" x="163.3" y="93.8"/><use href="#m_blu4" x="164.1" y="94.3"/><use href="#m_blu4" x="164.1" y="95.0"/><use href="#m_blu4" x="164.8" y="96.2"/><use href="#m_blu4" x="166.0" y="96.8"/><use href="#m_blu4" x="166.3" y="97.6"/><use href="#m_blu4" x="167.0" y="98.2"/><use href="#m_blu4" x="168.0" y="98.8"/><use href="#m_blu4" x="168.8" y="99.9"/><use href="#m_blu4" x="169.3" y="100.6"/><use href="#m_blu4" x="169.9" y="101.5"/><use href="#m_blu4" x="171.2" y="102.1"/><use href="#m_blu4" x="172.5" y="103.0"/><use href="#m_blu4" x="173.8" y="103.8"/><use href="#m_blu4" x="175.1" y="104.7"/><use href="#m_blu4" x="176.5" y="105.6"/><use href="#m_blu4" x="177.9" y="106.5"/><use href="#m_blu4" x="178.4" y="107.5"/><use href="#m_blu4" x="178.9" y="108.4"/><use href="#m_blu4" x="179.4" y="109.4"/><use href="#m_blu4" x="179.9" y="110.4"/><use href="#m_blu4" x="180.4" y="111.5"/><use href="#m_blu4" x="181.0" y="112.5"/><use href="#m_blu4" x="181.5" y="113.6"/><use href="#m_blu4" x="181.9" y="114.7"/><use href="#m_blu4" x="182.3" y="115.9"/><use href="#m_blu4" x="182.7" y="117.1"/><use href="#m_blu4" x="183.1" y="118.3"/><use href="#m_blu4" x="183.5" y="119.5"/><use href="#m_blu4" x="183.9" y="120.8"/><use href="#m_blu4" x="184.3" y="122.1"/><use href="#m_blu4" x="185.1" y="123.5"/><use href="#m_blu4" x="186.0" y="124.9"/><use href="#m_blu4" x="187.0" y="126.4"/><use href="#m_blu4" x="188.1" y="127.9"/><use href="#m_blu4" x="189.1" y="129.5"/><use href="#m_blu4" x="190.1" y="131.1"/><use href="#m_blu4" x="191.1" y="132.8"/><use href="#m_blu4" x="192.2" y="134.6"/><use href="#m_blu4" x="194.3" y="136.5"/><use href="#m_blu4" x="197.2" y="138.4"/><use href="#m_blu4" x="199.1" y="140.5"/><use href="#m_blu4" x="200.7" y="142.6"/><use href="#m_blu4" x="201.7" y="144.9"/><use href="#m_blu4" x="202.5" y="147.3"/><use href="#m_blu4" x="203.3" y="149.8"/><use href="#m_blu4" x="203.9" y="152.5"/><use href="#m_blu4" x="204.6" y="155.4"/><use href="#m_blu4" x="205.6" y="158.5"/><use href="#m_blu4" x="207.5" y="161.8"/><use href="#m_blu4" x="208.9" y="165.5"/><use href="#m_blu4" x="213.7" y="169.5"/><use href="#m_blu4" x="214.8" y="173.9"/><use href="#m_blu4" x="224.7" y="178.8"/><use href="#m_blu4" x="228.1" y="184.4"/><use href="#m_blu4" x="231.6" y="190.8"/><use href="#m_blu4" x="234.4" y="198.5"/><use href="#m_blu4" x="235.9" y="207.8"/><use href="#m_blu4" x="244.1" y="219.8"/><use href="#m_blu4" x="250.8" y="236.8"/><use href="#m_blu4" x="285.6" y="265.8"/></g><polyline points="64.8,5.5 89.0,5.5 121.5,5.3 121.6,6.4 122.1,5.7 122.9,6.2 123.3,6.6 124.9,6.5 125.1,6.2 125.4,6.2 126.4,6.3 127.2,6.0 128.3,6.9 129.0,6.3 129.0,6.5 130.1,7.4 130.5,7.4 130.8,7.3 132.0,7.0 133.1,7.6 134.2,7.2 134.4,7.4 134.4,7.6 136.1,8.1 136.0,7.7 137.5,7.4 137.5,7.8 138.8,8.3 138.9,8.2 140.6,8.6 141.1,8.1 141.6,8.3 142.0,8.2 143.4,8.8 143.5,8.0 143.9,9.1 144.3,9.2 145.5,8.4 146.2,9.3 146.3,9.0 148.0,9.0 148.1,9.3 149.2,8.9 150.4,9.8 150.4,9.9 150.9,9.0 151.8,9.8 151.2,9.2 152.4,9.7 152.0,10.1 153.0,10.4 153.5,10.1 153.6,10.8 154.9,9.8 155.4,10.7 154.8,10.8 155.8,10.7 156.6,10.5 157.0,10.8 156.8,11.4 156.8,11.1 158.4,10.6 158.8,11.2 158.9,11.0 159.6,10.9 159.7,11.3 160.2,11.2 160.7,11.1 161.2,11.8 161.0,11.6 161.9,12.3 163.1,12.1 163.3,12.0 163.9,12.7 164.5,12.4 163.7,12.1 164.4,12.6 165.0,12.5 166.1,12.2 165.5,12.5 166.9,12.6 167.7,13.0 167.7,13.1 167.5,13.3 168.7,13.5 168.8,13.8 169.4,13.8 169.3,13.7 170.9,13.3 170.0,13.3 170.8,14.3 171.0,14.2 172.2,13.8 172.6,14.3 172.3,14.2 172.3,14.8 173.6,14.2 172.9,14.2 173.7,14.6 174.8,15.1 174.1,15.4 175.6,15.5 175.3,15.3 176.2,14.9 176.7,15.1 176.2,15.2 177.0,15.8 176.7,15.3 178.2,16.1 177.5,16.2 178.5,15.9 179.2,16.4 178.6,16.7 179.1,16.6 179.7,16.3 179.6,16.5 180.4,16.4 180.2,16.8 180.8,16.9 181.5,17.4 181.4,17.2 181.1,16.8 181.8,17.3 181.8,17.4 182.8,17.7 183.3,17.7 183.4,17.9 182.8,18.0 183.9,17.7 184.3,17.9 184.7,18.6 184.4,18.6 184.4,18.1 185.5,18.0 185.6,18.9 185.6,18.5 185.2,18.7 186.0,18.9 186.0,18.8 186.4,18.8 186.8,19.7 187.8,19.5 187.9,19.7 188.0,19.6 188.4,19.6 188.2,19.6 188.6,20.3 188.4,20.4 189.8,20.4 189.9,20.0 189.8,20.1 190.2,20.5 190.3,21.3 190.6,21.3 190.7,20.6 191.0,21.0 191.4,20.7 191.8,21.8 191.3,21.8 191.9,21.1 192.7,22.2 192.9,22.1 193.3,22.3 193.0,22.0 192.7,22.5 194.1,22.8 194.4,22.4 194.4,22.4 194.8,22.3 193.9,22.5 194.5,22.6 195.0,23.3 195.3,23.6 195.0,22.8 195.5,23.7 195.6,23.0 196.0,24.1 196.2,23.5 196.5,24.0 197.4,24.3 197.8,24.2 197.1,24.0 197.2,24.6 197.8,24.4 198.1,24.2 198.4,24.5 198.3,25.4 198.6,25.3 199.3,25.1 200.3,25.4 200.5,25.2 200.2,25.4 200.8,25.3 200.2,26.4 200.9,26.0 200.8,26.7 201.9,26.3 201.5,26.1 201.7,26.3 202.1,26.6 202.8,27.1 202.9,27.3 202.4,27.2 202.7,27.2 202.6,27.9 204.1,28.1 203.2,27.2 203.9,28.3 204.3,28.2 203.8,27.6 205.3,28.3 204.9,28.4 205.1,28.5 204.9,28.5 205.3,28.4 205.8,29.2 206.7,29.5 206.8,29.1 206.9,29.1 206.7,29.4 207.3,30.3 206.8,29.6 207.7,30.3 208.4,29.9 207.5,30.8 207.9,30.4 208.4,30.3 209.3,30.8 209.1,30.8 210.1,31.5 209.2,31.7 209.6,31.1 210.3,31.7 210.5,31.3 211.3,32.2 211.0,32.6 211.7,32.3 211.1,32.5 211.7,32.0 211.8,32.7 211.8,32.4 211.2,33.0 211.8,33.5 212.9,33.4 213.0,33.2 212.4,33.5 212.6,33.3 212.8,34.0 213.8,34.0 213.0,34.8 213.9,34.0 213.4,34.4 214.3,34.6 214.7,35.2 214.8,35.5 214.7,35.3 215.2,35.1 214.9,35.7 214.7,35.9 214.8,36.2 214.9,36.4 215.8,36.8 216.0,36.7 216.1,37.0 216.4,37.4 216.9,37.3 215.9,36.7 217.2,37.8 216.5,37.9 216.5,37.7 217.0,38.4 217.0,38.0 218.2,38.4 218.5,38.5 217.6,38.4 218.6,38.8 219.3,39.1 218.7,39.3 218.8,39.2 218.9,39.5 220.1,39.6 220.1,39.9 219.7,40.6 220.3,40.1 219.7,41.0 220.1,41.0 221.1,40.8 220.5,40.6 221.2,40.9 221.2,41.0 220.7,42.0 221.0,41.4 221.0,41.8 222.4,42.0 221.4,42.2 221.9,42.5 222.4,42.9 222.5,43.4 222.8,42.8 222.3,43.7 222.9,43.4 223.7,44.0 223.3,44.2 224.0,44.6 224.0,44.8 223.9,44.7 224.1,45.4 224.3,44.8 224.1,45.7 224.2,45.3 224.3,46.1 225.3,46.5 225.3,46.6 224.9,46.7 225.5,46.9 226.3,46.6 226.5,47.3 225.5,47.3 226.5,48.1 226.9,48.0 227.0,47.8 227.4,47.9 227.2,48.1 227.8,48.3 227.9,49.2 227.7,49.0 228.1,49.5 228.3,49.5 227.8,50.0 228.8,49.8 229.1,50.6 228.2,50.2 229.2,51.4 228.7,51.6 229.7,51.5 229.6,51.8 230.5,51.4 229.8,51.7 229.6,52.1 230.5,52.8 230.2,53.1 231.4,53.2 230.8,53.9 231.8,53.7 230.8,54.4 231.7,53.9 232.4,54.1 231.7,55.2 232.4,55.1 232.5,55.4 232.7,55.5 233.2,55.8 233.4,56.2 233.4,56.2 233.1,57.1 234.1,57.6 233.2,57.7 234.4,57.6 234.9,58.2 234.8,58.4 235.0,59.0 235.1,58.7 234.8,59.1 234.8,59.6 235.3,59.9 236.2,59.8 236.7,60.1 235.8,61.1 236.3,60.8 236.2,61.3 237.7,61.4 237.1,61.9 237.8,62.3 238.0,62.1 238.4,63.4 237.4,63.3 237.7,63.4 238.4,64.2 238.6,64.5 239.3,65.0 239.6,65.0 239.1,64.8 239.6,65.8 240.3,65.6 239.8,66.4 240.9,66.7 240.2,67.1 241.1,67.3 240.9,67.7 241.5,68.1 241.3,68.9 241.8,69.0 242.2,68.8 242.0,69.5 242.3,70.2 243.8,70.0 243.4,70.5 243.1,71.2 244.3,71.4 244.3,71.9 244.6,72.3 244.7,73.0 245.8,73.2 245.1,73.1 245.9,73.6 246.1,74.8 246.2,74.7 247.0,75.5 248.1,76.0 248.0,76.3 248.1,76.4 248.8,77.0 248.2,77.7 249.3,77.5 249.4,78.0 250.2,79.4 250.8,79.4 250.3,79.8 250.1,80.2 251.5,80.9 251.3,81.7 251.3,81.6 251.9,82.2 253.0,83.5 252.8,83.4 252.6,84.6 253.1,84.8 253.9,84.6 254.2,85.5 254.4,86.8 255.1,87.2 255.4,87.3 255.6,88.0 256.1,89.0 255.8,89.0 256.8,89.7 256.3,90.2 257.5,91.5 256.6,91.4 257.3,92.6 258.6,93.1 258.0,93.9 258.2,94.5 259.0,95.7 259.1,95.8 260.2,96.1 260.5,97.5 260.4,97.9 261.1,99.3 261.6,99.8 261.1,100.4 261.4,101.4 262.5,101.9 262.6,103.0 262.9,103.8 263.3,104.7 263.6,105.6 264.0,106.5 264.4,107.5 264.8,108.4 265.2,109.4 265.5,110.4 265.7,111.5 265.9,112.5 266.1,113.6 266.4,114.7 266.6,115.9 266.8,117.1 267.1,118.3 267.4,119.5 267.9,120.8 268.5,122.1 269.0,123.5 269.6,124.9 270.2,126.4 270.8,127.9 271.9,129.5 273.1,131.1 274.4,132.8 275.7,134.6 276.9,136.5 278.1,138.4 279.4,140.5 280.7,142.6 282.0,144.9 283.1,147.3 284.3,149.8 285.2,152.5 286.1,155.4 287.2,158.5 288.3,161.8 289.6,165.5 290.9,169.5 292.3,173.9 293.2,178.8 295.9,184.4 299.2,190.8 303.0,198.5 306.1,207.8 307.9,219.8 312.1,236.8 317.0,265.8" fill="none" stroke="#f0f" stroke-width="1.25" clip-path="url(#pc)"/><g><use href="#m_mag16" x="64.8" y="5.5"/><use href="#m_mag16" x="89.0" y="5.5"/><use href="#m_mag16" x="121.5" y="5.3"/><use href="#m_mag16" x="121.6" y="6.4"/><use href="#m_mag16" x="122.1" y="5.7"/><use href="#m_mag16" x="122.9" y="6.2"/><use href="#m_mag16" x="123.3" y="6.6"/><use href="#m_mag16" x="124.9" y="6.5"/><use href="#m_mag16" x="125.1" y="6.2"/><use href="#m_mag16" x="125.4" y="6.2"/><use href="#m_mag16" x="126.4" y="6.3"/><use href="#m_mag16" x="127.2" y="6.0"/><use href="#m_mag16" x="128.3" y="6.9"/><use href="#m_mag16" x="129.0" y="6.3"/><use href="#m_mag16" x="129.0" y="6.5"/><use href="#m_mag16" x="130.1" y="7.4"/><use href="#m_mag16" x="130.5" y="7.4"/><use href="#m_mag16" x="130.8" y="7.3"/><use href="#m_mag16" x="132.0" y="7.0"/><use href="#m_mag16" x="133.1" y="7.6"/><use href="#m_mag16" x="134.2" y="7.2"/><use href="#m_mag16" x="134.4" y="7.4"/><use href="#m_mag16" x="134.4" y="7.6"/><use href="#m_mag16" x="136.1" y="8.1"/><use href="#m_mag16" x="136.0" y="7.7"/><use href="#m_mag16" x="137.5" y="7.4"/><use href="#m_mag16" x="137.5" y="7.8"/><use href="#m_mag16" x="138.8" y="8.3"/><use href="#m_mag16" x="138.9" y="8.2"/><use href="#m_mag16" x="140.6" y="8.6"/><use href="#m_mag16" x="141.1" y="8.1"/><use href="#m_mag16" x="141.6" y="8.3"/><use href="#m_mag16" x="142.0" y="8.2"/><use href="#m_mag16" x="143.4" y="8.8"/><use href="#m_mag16" x="143.5" y="8.0"/><use href="#m_mag16" x="143.9" y="9.1"/><use href="#m_mag16" x="144.3" y="9.2"/><use href="#m_mag16" x="145.5" y="8.4"/><use href="#m_mag16" x="146.2" y="9.3"/><use href="#m_mag16" x="146.3" y="9.0"/><use href="#m_mag16" x="148.0" y="9.0"/><use href="#m_mag16" x="148.1" y="9.3"/><use href="#m_mag16" x="149.2" y="8.9"/><use href="#m_mag16" x="150.4" y="9.8"/><use href="#m_mag16" x="150.4" y="9.9"/><use href="#m_mag16" x="150.9" y="9.0"/><use href="#m_mag16" x="151.8" y="9.8"/><use href="#m_mag16" x="151.2" y="9.2"/><use href="#m_mag16" x="152.4" y="9.7"/><use href="#m_mag16" x="152.0" y="10.1"/><use href="#m_mag16" x="153.0" y="10.4"/><use href="#m_mag16" x="153.5" y="10.1"/><use href="#m_mag16" x="153.6" y="10.8"/><use href="#m_mag16" x="154.9" y="9.8"/><use href="#m_mag16" x="155.4" y="10.7"/><use href="#m_mag16" x="154.8" y="10.8"/><use href="#m_mag16" x="155.8" y="10.7"/><use href="#m_mag16" x="156.6" y="10.5"/><use href="#m_mag16" x="157.0" y="10.8"/><use href="#m_mag16" x="156.8" y="11.4"/><use href="#m_mag16" x="156.8" y="11.1"/><use href="#m_mag16" x="158.4" y="10.6"/><use href="#m_mag16" x="158.8" y="11.2"/><use href="#m_mag16" x="158.9" y="11.0"/><use href="#m_mag16" x="159.6" y="10.9"/><use href="#m_mag16" x="159.7" y="11.3"/><use href="#m_mag16" x="160.2" y="11.2"/><use href="#m_mag16" x="160.7" y="11.1"/><use href="#m_mag16" x="161.2" y="11.8"/><use href="#m_mag16" x="161.0" y="11.6"/><use href="#m_mag16" x="161.9" y="12.3"/><use href="#m_mag16" x="163.1" y="12.1"/><use href="#m_mag16" x="163.3" y="12.0"/><use href="#m_mag16" x="163.9" y="12.7"/><use href="#m_mag16" x="164.5" y="12.4"/><use href="#m_mag16" x="163.7" y="12.1"/><use href="#m_mag16" x="164.4" y="12.6"/><use href="#m_mag16" x="165.0" y="12.5"/><use href="#m_mag16" x="166.1" y="12.2"/><use href="#m_mag16" x="165.5" y="12.5"/><use href="#m_mag16" x="166.9" y="12.6"/><use href="#m_mag16" x="167.7" y="13.0"/><use href="#m_mag16" x="167.7" y="13.1"/><use href="#m_mag16" x="167.5" y="13.3"/><use href="#m_mag16" x="168.7" y="13.5"/><use href="#m_mag16" x="168.8" y="13.8"/><use href="#m_mag16" x="169.4" y="13.8"/><use href="#m_mag16" x="169.3" y="13.7"/><use href="#m_mag16" x="170.9" y="13.3"/><use href="#m_mag16" x="170.0" y="13.3"/><use href="#m_mag16" x="170.8" y="14.3"/><use href="#m_mag16" x="171.0" y="14.2"/><use href="#m_mag16" x="172.2" y="13.8"/><use href="#m_mag16" x="172.6" y="14.3"/><use href="#m_mag16" x="172.3" y="14.2"/><use href="#m_mag16" x="172.3" y="14.8"/><use href="#m_mag16" x="173.6" y="14.2"/><use href="#m_mag16" x="172.9" y="14.2"/><use href="#m_mag16" x="173.7" y="14.6"/><use href="#m_mag16" x="174.8" y="15.1"/><use href="#m_mag16" x="174.1" y="15.4"/><use href="#m_mag16" x="175.6" y="15.5"/><use href="#m_mag16" x="175.3" y="15.3"/><use href="#m_mag16" x="176.2" y="14.9"/><use href="#m_mag16" x="176.7" y="15.1"/><use href="#m_mag16" x="176.2" y="15.2"/><use href="#m_mag16" x="177.0" y="15.8"/><use href="#m_mag16" x="176.7" y="15.3"/><use href="#m_mag16" x="178.2" y="16.1"/><use href="#m_mag16" x="177.5" y="16.2"/><use href="#m_mag16" x="178.5" y="15.9"/><use href="#m_mag16" x="179.2" y="16.4"/><use href="#m_mag16" x="178.6" y="16.7"/><use href="#m_mag16" x="179.1" y="16.6"/><use href="#m_mag16" x="179.7" y="16.3"/><use href="#m_mag16" x="179.6" y="16.5"/><use href="#m_mag16" x="180.4" y="16.4"/><use href="#m_mag16" x="180.2" y="16.8"/><use href="#m_mag16" x="180.8" y="16.9"/><use href="#m_mag16" x="181.5" y="17.4"/><use href="#m_mag16" x="181.4" y="17.2"/><use href="#m_mag16" x="181.1" y="16.8"/><use href="#m_mag16" x="181.8" y="17.3"/><use href="#m_mag16" x="181.8" y="17.4"/><use href="#m_mag16" x="182.8" y="17.7"/><use href="#m_mag16" x="183.3" y="17.7"/><use href="#m_mag16" x="183.4" y="17.9"/><use href="#m_mag16" x="182.8" y="18.0"/><use href="#m_mag16" x="183.9" y="17.7"/><use href="#m_mag16" x="184.3" y="17.9"/><use href="#m_mag16" x="184.7" y="18.6"/><use href="#m_mag16" x="184.4" y="18.6"/><use href="#m_mag16" x="184.4" y="18.1"/><use href="#m_mag16" x="185.5" y="18.0"/><use href="#m_mag16" x="185.6" y="18.9"/><use href="#m_mag16" x="185.6" y="18.5"/><use href="#m_mag16" x="185.2" y="18.7"/><use href="#m_mag16" x="186.0" y="18.9"/><use href="#m_mag16" x="186.0" y="18.8"/><use href="#m_mag16" x="186.4" y="18.8"/><use href="#m_mag16" x="186.8" y="19.7"/><use href="#m_mag16" x="187.8" y="19.5"/><use href="#m_mag16" x="187.9" y="19.7"/><use href="#m_mag16" x="188.0" y="19.6"/><use href="#m_mag16" x="188.4" y="19.6"/><use href="#m_mag16" x="188.2" y="19.6"/><use href="#m_mag16" x="188.6" y="20.3"/><use href="#m_mag16" x="188.4" y="20.4"/><use href="#m_mag16" x="189.8" y="20.4"/><use href="#m_mag16" x="189.9" y="20.0"/><use href="#m_mag16" x="189.8" y="20.1"/><use href="#m_mag16" x="190.2" y="20.5"/><use href="#m_mag16" x="190.3" y="21.3"/><use href="#m_mag16" x="190.6" y="21.3"/><use href="#m_mag16" x="190.7" y="20.6"/><use href="#m_mag16" x="191.0" y="21.0"/><use href="#m_mag16" x="191.4" y="20.7"/><use href="#m_mag16" x="191.8" y="21.8"/><use href="#m_mag16" x="191.3" y="21.8"/><use href="#m_mag16" x="191.9" y="21.1"/><use href="#m_mag16" x="192.7" y="22.2"/><use href="#m_mag16" x="192.9" y="22.1"/><use href="#m_mag16" x="193.3" y="22.3"/><use href="#m_mag16" x="193.0" y="22.0"/><use href="#m_mag16" x="192.7" y="22.5"/><use href="#m_mag16" x="194.1" y="22.8"/><use href="#m_mag16" x="194.4" y="22.4"/><use href="#m_mag16" x="194.4" y="22.4"/><use href="#m_mag16" x="194.8" y="22.3"/><use href="#m_mag16" x="193.9" y="22.5"/><use href="#m_mag16" x="194.5" y="22.6"/><use href="#m_mag16" x="195.0" y="23.3"/><use href="#m_mag16" x="195.3" y="23.6"/><use href="#m_mag16" x="195.0" y="22.8"/><use href="#m_mag16" x="195.5" y="23.7"/><use href="#m_mag16" x="195.6" y="23.0"/><use href="#m_mag16" x="196.0" y="24.1"/><use href="#m_mag16" x="196.2" y="23.5"/><use href="#m_mag16" x="196.5" y="24.0"/><use href="#m_mag16" x="197.4" y="24.3"/><use href="#m_mag16" x="197.8" y="24.2"/><use href="#m_mag16" x="197.1" y="24.0"/><use href="#m_mag16" x="197.2" y="24.6"/><use href="#m_mag16" x="197.8" y="24.4"/><use href="#m_mag16" x="198.1" y="24.2"/><use href="#m_mag16" x="198.4" y="24.5"/><use href="#m_mag16" x="198.3" y="25.4"/><use href="#m_mag16" x="198.6" y="25.3"/><use href="#m_mag16" x="199.3" y="25.1"/><use href="#m_mag16" x="200.3" y="25.4"/><use href="#m_mag16" x="200.5" y="25.2"/><use href="#m_mag16" x="200.2" y="25.4"/><use href="#m_mag16" x="200.8" y="25.3"/><use href="#m_mag16" x="200.2" y="26.4"/><use href="#m_mag16" x="200.9" y="26.0"/><use href="#m_mag16" x="200.8" y="26.7"/><use href="#m_mag16" x="201.9" y="26.3"/><use href="#m_mag16" x="201.5" y="26.1"/><use href="#m_mag16" x="201.7" y="26.3"/><use href="#m_mag16" x="202.1" y="26.6"/><use href="#m_mag16" x="202.8" y="27.1"/><use href="#m_mag16" x="202.9" y="27.3"/><use href="#m_mag16" x="202.4" y="27.2"/><use href="#m_mag16" x="202.7" y="27.2"/><use href="#m_mag16" x="202.6" y="27.9"/><use href="#m_mag16" x="204.1" y="28.1"/><use href="#m_mag16" x="203.2" y="27.2"/><use href="#m_mag16" x="203.9" y="28.3"/><use href="#m_mag16" x="204.3" y="28.2"/><use href="#m_mag16" x="203.8" y="27.6"/><use href="#m_mag16" x="205.3" y="28.3"/><use href="#m_mag16" x="204.9" y="28.4"/><use href="#m_mag16" x="205.1" y="28.5"/><use href="#m_mag16" x="204.9" y="28.5"/><use href="#m_mag16" x="205.3" y="28.4"/><use href="#m_mag16" x="205.8" y="29.2"/><use href="#m_mag16" x="206.7" y="29.5"/><use href="#m_mag16" x="206.8" y="29.1"/><use href="#m_mag16" x="206.9" y="29.1"/><use href="#m_mag16" x="206.7" y="29.4"/><use href="#m_mag16" x="207.3" y="30.3"/><use href="#m_mag16" x="206.8" y="29.6"/><use href="#m_mag16" x="207.7" y="30.3"/><use href="#m_mag16" x="208.4" y="29.9"/><use href="#m_mag16" x="207.5" y="30.8"/><use href="#m_mag16" x="207.9" y="30.4"/><use href="#m_mag16" x="208.4" y="30.3"/><use href="#m_mag16" x="209.3" y="30.8"/><use href="#m_mag16" x="209.1" y="30.8"/><use href="#m_mag16" x="210.1" y="31.5"/><use href="#m_mag16" x="209.2" y="31.7"/><use href="#m_mag16" x="209.6" y="31.1"/><use href="#m_mag16" x="210.3" y="31.7"/><use href="#m_mag16" x="210.5" y="31.3"/><use href="#m_mag16" x="211.3" y="32.2"/><use href="#m_mag16" x="211.0" y="32.6"/><use href="#m_mag16" x="211.7" y="32.3"/><use href="#m_mag16" x="211.1" y="32.5"/><use href="#m_mag16" x="211.7" y="32.0"/><use href="#m_mag16" x="211.8" y="32.7"/><use href="#m_mag16" x="211.8" y="32.4"/><use href="#m_mag16" x="211.2" y="33.0"/><use href="#m_mag16" x="211.8" y="33.5"/><use href="#m_mag16" x="212.9" y="33.4"/><use href="#m_mag16" x="213.0" y="33.2"/><use href="#m_mag16" x="212.4" y="33.5"/><use href="#m_mag16" x="212.6" y="33.3"/><use href="#m_mag16" x="212.8" y="34.0"/><use href="#m_mag16" x="213.8" y="34.0"/><use href="#m_mag16" x="213.0" y="34.8"/><use href="#m_mag16" x="213.9" y="34.0"/><use href="#m_mag16" x="213.4" y="34.4"/><use href="#m_mag16" x="214.3" y="34.6"/><use href="#m_mag16" x="214.7" y="35.2"/><use href="#m_mag16" x="214.8" y="35.5"/><use href="#m_mag16" x="214.7" y="35.3"/><use href="#m_mag16" x="215.2" y="35.1"/><use href="#m_mag16" x="214.9" y="35.7"/><use href="#m_mag16" x="214.7" y="35.9"/><use href="#m_mag16" x="214.8" y="36.2"/><use href="#m_mag16" x="214.9" y="36.4"/><use href="#m_mag16" x="215.8" y="36.8"/><use href="#m_mag16" x="216.0" y="36.7"/><use href="#m_mag16" x="216.1" y="37.0"/><use href="#m_mag16" x="216.4" y="37.4"/><use href="#m_mag16" x="216.9" y="37.3"/><use href="#m_mag16" x="215.9" y="36.7"/><use href="#m_mag16" x="217.2" y="37.8"/><use href="#m_mag16" x="216.5" y="37.9"/><use href="#m_mag16" x="216.5" y="37.7"/><use href="#m_mag16" x="217.0" y="38.4"/><use href="#m_mag16" x="217.0" y="38.0"/><use href="#m_mag16" x="218.2" y="38.4"/><use href="#m_mag16" x="218.5" y="38.5"/><use href="#m_mag16" x="217.6" y="38.4"/><use href="#m_mag16" x="218.6" y="38.8"/><use href="#m_mag16" x="219.3" y="39.1"/><use href="#m_mag16" x="218.7" y="39.3"/><use href="#m_mag16" x="218.8" y="39.2"/><use href="#m_mag16" x="218.9" y="39.5"/><use href="#m_mag16" x="220.1" y="39.6"/><use href="#m_mag16" x="220.1" y="39.9"/><use href="#m_mag16" x="219.7" y="40.6"/><use href="#m_mag16" x="220.3" y="40.1"/><use href="#m_mag16" x="219.7" y="41.0"/><use href="#m_mag16" x="220.1" y="41.0"/><use href="#m_mag16" x="221.1" y="40.8"/><use href="#m_mag16" x="220.5" y="40.6"/><use href="#m_mag16" x="221.2" y="40.9"/><use href="#m_mag16" x="221.2" y="41.0"/><use href="#m_mag16" x="220.7" y="42.0"/><use href="#m_mag16" x="221.0" y="41.4"/><use href="#m_mag16" x="221.0" y="41.8"/><use href="#m_mag16" x="222.4" y="42.0"/><use href="#m_mag16" x="221.4" y="42.2"/><use href="#m_mag16" x="221.9" y="42.5"/><use href="#m_mag16" x="222.4" y="42.9"/><use href="#m_mag16" x="222.5" y="43.4"/><use href="#m_mag16" x="222.8" y="42.8"/><use href="#m_mag16" x="222.3" y="43.7"/><use href="#m_mag16" x="222.9" y="43.4"/><use href="#m_mag16" x="223.7" y="44.0"/><use href="#m_mag16" x="223.3" y="44.2"/><use href="#m_mag16" x="224.0" y="44.6"/><use href="#m_mag16" x="224.0" y="44.8"/><use href="#m_mag16" x="223.9" y="44.7"/><use href="#m_mag16" x="224.1" y="45.4"/><use href="#m_mag16" x="224.3" y="44.8"/><use href="#m_mag16" x="224.1" y="45.7"/><use href="#m_mag16" x="224.2" y="45.3"/><use href="#m_mag16" x="224.3" y="46.1"/><use href="#m_mag16" x="225.3" y="46.5"/><use href="#m_mag16" x="225.3" y="46.6"/><use href="#m_mag16" x="224.9" y="46.7"/><use href="#m_mag16" x="225.5" y="46.9"/><use href="#m_mag16" x="226.3" y="46.6"/><use href="#m_mag16" x="226.5" y="47.3"/><use href="#m_mag16" x="225.5" y="47.3"/><use href="#m_mag16" x="226.5" y="48.1"/><use href="#m_mag16" x="226.9" y="48.0"/><use href="#m_mag16" x="227.0" y="47.8"/><use href="#m_mag16" x="227.4" y="47.9"/><use href="#m_mag16" x="227.2" y="48.1"/><use href="#m_mag16" x="227.8" y="48.3"/><use href="#m_mag16" x="227.9" y="49.2"/><use href="#m_mag16" x="227.7" y="49.0"/><use href="#m_mag16" x="228.1" y="49.5"/><use href="#m_mag16" x="228.3" y="49.5"/><use href="#m_mag16" x="227.8" y="50.0"/><use href="#m_mag16" x="228.8" y="49.8"/><use href="#m_mag16" x="229.1" y="50.6"/><use href="#m_mag16" x="228.2" y="50.2"/><use href="#m_mag16" x="229.2" y="51.4"/><use href="#m_mag16" x="228.7" y="51.6"/><use href="#m_mag16" x="229.7" y="51.5"/><use href="#m_mag16" x="229.6" y="51.8"/><use href="#m_mag16" x="230.5" y="51.4"/><use href="#m_mag16" x="229.8" y="51.7"/><use href="#m_mag16" x="229.6" y="52.1"/><use href="#m_mag16" x="230.5" y="52.8"/><use href="#m_mag16" x="230.2" y="53.1"/><use href="#m_mag16" x="231.4" y="53.2"/><use href="#m_mag16" x="230.8" y="53.9"/><use href="#m_mag16" x="231.8" y="53.7"/><use href="#m_mag16" x="230.8" y="54.4"/><use href="#m_mag16" x="231.7" y="53.9"/><use href="#m_mag16" x="232.4" y="54.1"/><use href="#m_mag16" x="231.7" y="55.2"/><use href="#m_mag16" x="232.4" y="55.1"/><use href="#m_mag16" x="232.5" y="55.4"/><use href="#m_mag16" x="232.7" y="55.5"/><use href="#m_mag16" x="233.2" y="55.8"/><use href="#m_mag16" x="233.4" y="56.2"/><use href="#m_mag16" x="233.4" y="56.2"/><use href="#m_mag16" x="233.1" y="57.1"/><use href="#m_mag16" x="234.1" y="57.6"/><use href="#m_mag16" x="233.2" y="57.7"/><use href="#m_mag16" x="234.4" y="57.6"/><use href="#m_mag16" x="234.9" y="58.2"/><use href="#m_mag16" x="234.8" y="58.4"/><use href="#m_mag16" x="235.0" y="59.0"/><use href="#m_mag16" x="235.1" y="58.7"/><use href="#m_mag16" x="234.8" y="59.1"/><use href="#m_mag16" x="234.8" y="59.6"/><use href="#m_mag16" x="235.3" y="59.9"/><use href="#m_mag16" x="236.2" y="59.8"/><use href="#m_mag16" x="236.7" y="60.1"/><use href="#m_mag16" x="235.8" y="61.1"/><use href="#m_mag16" x="236.3" y="60.8"/><use href="#m_mag16" x="236.2" y="61.3"/><use href="#m_mag16" x="237.7" y="61.4"/><use href="#m_mag16" x="237.1" y="61.9"/><use href="#m_mag16" x="237.8" y="62.3"/><use href="#m_mag16" x="238.0" y="62.1"/><use href="#m_mag16" x="238.4" y="63.4"/><use href="#m_mag16" x="237.4" y="63.3"/><use href="#m_mag16" x="237.7" y="63.4"/><use href="#m_mag16" x="238.4" y="64.2"/><use href="#m_mag16" x="238.6" y="64.5"/><use href="#m_mag16" x="239.3" y="65.0"/><use href="#m_mag16" x="239.6" y="65.0"/><use href="#m_mag16" x="239.1" y="64.8"/><use href="#m_mag16" x="239.6" y="65.8"/><use href="#m_mag16" x="240.3" y="65.6"/><use href="#m_mag16" x="239.8" y="66.4"/><use href="#m_mag16" x="240.9" y="66.7"/><use href="#m_mag16" x="240.2" y="67.1"/><use href="#m_mag16" x="241.1" y="67.3"/><use href="#m_mag16" x="240.9" y="67.7"/><use href="#m_mag16" x="241.5" y="68.1"/><use href="#m_mag16" x="241.3" y="68.9"/><use href="#m_mag16" x="241.8" y="69.0"/><use href="#m_mag16" x="242.2" y="68.8"/><use href="#m_mag16" x="242.0" y="69.5"/><use href="#m_mag16" x="242.3" y="70.2"/><use href="#m_mag16" x="243.8" y="70.0"/><use href="#m_mag16" x="243.4" y="70.5"/><use href="#m_mag16" x="243.1" y="71.2"/><use href="#m_mag16" x="244.3" y="71.4"/><use href="#m_mag16" x="244.3" y="71.9"/><use href="#m_mag16" x="244.6" y="72.3"/><use href="#m_mag16" x="244.7" y="73.0"/><use href="#m_mag16" x="245.8" y="73.2"/><use href="#m_mag16" x="245.1" y="73.1"/><use href="#m_mag16" x="245.9" y="73.6"/><use href="#m_mag16" x="246.1" y="74.8"/><use href="#m_mag16" x="246.2" y="74.7"/><use href="#m_mag16" x="247.0" y="75.5"/><use href="#m_mag16" x="248.1" y="76.0"/><use href="#m_mag16" x="248.0" y="76.3"/><use href="#m_mag16" x="248.1" y="76.4"/><use href="#m_mag16" x="248.8" y="77.0"/><use href="#m_mag16" x="248.2" y="77.7"/><use href="#m_mag16" x="249.3" y="77.5"/><use href="#m_mag16" x="249.4" y="78.0"/><use href="#m_mag16" x="250.2" y="79.4"/><use href="#m_mag16" x="250.8" y="79.4"/><use href="#m_mag16" x="250.3" y="79.8"/><use href="#m_mag16" x="250.1" y="80.2"/><use href="#m_mag16" x="251.5" y="80.9"/><use href="#m_mag16" x="251.3" y="81.7"/><use href="#m_mag16" x="251.3" y="81.6"/><use href="#m_mag16" x="251.9" y="82.2"/><use href="#m_mag16" x="253.0" y="83.5"/><use href="#m_mag16" x="252.8" y="83.4"/><use href="#m_mag16" x="252.6" y="84.6"/><use href="#m_mag16" x="253.1" y="84.8"/><use href="#m_mag16" x="253.9" y="84.6"/><use href="#m_mag16" x="254.2" y="85.5"/><use href="#m_mag16" x="254.4" y="86.8"/><use href="#m_mag16" x="255.1" y="87.2"/><use href="#m_mag16" x="255.4" y="87.3"/><use href="#m_mag16" x="255.6" y="88.0"/><use href="#m_mag16" x="256.1" y="89.0"/><use href="#m_mag16" x="255.8" y="89.0"/><use href="#m_mag16" x="256.8" y="89.7"/><use href="#m_mag16" x="256.3" y="90.2"/><use href="#m_mag16" x="257.5" y="91.5"/><use href="#m_mag16" x="256.6" y="91.4"/><use href="#m_mag16" x="257.3" y="92.6"/><use href="#m_mag16" x="258.6" y="93.1"/><use href="#m_mag16" x="258.0" y="93.9"/><use href="#m_mag16" x="258.2" y="94.5"/><use href="#m_mag16" x="259.0" y="95.7"/><use href="#m_mag16" x="259.1" y="95.8"/><use href="#m_mag16" x="260.2" y="96.1"/><use href="#m_mag16" x="260.5" y="97.5"/><use href="#m_mag16" x="260.4" y="97.9"/><use href="#m_mag16" x="261.1" y="99.3"/><use href="#m_mag16" x="261.6" y="99.8"/><use href="#m_mag16" x="261.1" y="100.4"/><use href="#m_mag16" x="261.4" y="101.4"/><use href="#m_mag16" x="262.5" y="101.9"/><use href="#m_mag16" x="262.6" y="103.0"/><use href="#m_mag16" x="262.9" y="103.8"/><use href="#m_mag16" x="263.3" y="104.7"/><use href="#m_mag16" x="263.6" y="105.6"/><use href="#m_mag16" x="264.0" y="106.5"/><use href="#m_mag16" x="264.4" y="107.5"/><use href="#m_mag16" x="264.8" y="108.4"/><use href="#m_mag16" x="265.2" y="109.4"/><use href="#m_mag16" x="265.5" y="110.4"/><use href="#m_mag16" x="265.7" y="111.5"/><use href="#m_mag16" x="265.9" y="112.5"/><use href="#m_mag16" x="266.1" y="113.6"/><use href="#m_mag16" x="266.4" y="114.7"/><use href="#m_mag16" x="266.6" y="115.9"/><use href="#m_mag16" x="266.8" y="117.1"/><use href="#m_mag16" x="267.1" y="118.3"/><use href="#m_mag16" x="267.4" y="119.5"/><use href="#m_mag16" x="267.9" y="120.8"/><use href="#m_mag16" x="268.5" y="122.1"/><use href="#m_mag16" x="269.0" y="123.5"/><use href="#m_mag16" x="269.6" y="124.9"/><use href="#m_mag16" x="270.2" y="126.4"/><use href="#m_mag16" x="270.8" y="127.9"/><use href="#m_mag16" x="271.9" y="129.5"/><use href="#m_mag16" x="273.1" y="131.1"/><use href="#m_mag16" x="274.4" y="132.8"/><use href="#m_mag16" x="275.7" y="134.6"/><use href="#m_mag16" x="276.9" y="136.5"/><use href="#m_mag16" x="278.1" y="138.4"/><use href="#m_mag16" x="279.4" y="140.5"/><use href="#m_mag16" x="280.7" y="142.6"/><use href="#m_mag16" x="282.0" y="144.9"/><use href="#m_mag16" x="283.1" y="147.3"/><use href="#m_mag16" x="284.3" y="149.8"/><use href="#m_mag16" x="285.2" y="152.5"/><use href="#m_mag16" x="286.1" y="155.4"/><use href="#m_mag16" x="287.2" y="158.5"/><use href="#m_mag16" x="288.3" y="161.8"/><use href="#m_mag16" x="289.6" y="165.5"/><use href="#m_mag16" x="290.9" y="169.5"/><use href="#m_mag16" x="292.3" y="173.9"/><use href="#m_mag16" x="293.2" y="178.8"/><use href="#m_mag16" x="295.9" y="184.4"/><use href="#m_mag16" x="299.2" y="190.8"/><use href="#m_mag16" x="303.0" y="198.5"/><use href="#m_mag16" x="306.1" y="207.8"/><use href="#m_mag16" x="307.9" y="219.8"/><use href="#m_mag16" x="312.1" y="236.8"/><use href="#m_mag16" x="317.0" y="265.8"/></g>
<text x="51.50" y="309.5" text-anchor="middle" font-size="12.3">5</text><text x="141.21" y="309.5" text-anchor="middle" font-size="12.3">6</text><text x="230.93" y="309.5" text-anchor="middle" font-size="12.3">7</text><text x="320.64" y="309.5" text-anchor="middle" font-size="12.3">8</text><text x="410.36" y="309.5" text-anchor="middle" font-size="12.3">9</text><text x="500.07" y="309.5" text-anchor="middle" font-size="12.3">10</text><text x="589.79" y="309.5" text-anchor="middle" font-size="12.3">11</text><text x="679.50" y="309.5" text-anchor="middle" font-size="12.3">12</text><text x="39.5" y="11.80" text-anchor="end" font-size="12.3">10</text><text x="38.8" y="6.90" font-size="10" letter-spacing="-0.3">0</text><text x="37.1" y="108.13" text-anchor="end" font-size="12.3">10</text><text x="36.4" y="103.23" font-size="10" letter-spacing="-0.3">-1</text><text x="37.1" y="204.47" text-anchor="end" font-size="12.3">10</text><text x="36.4" y="199.57" font-size="10" letter-spacing="-0.3">-2</text><text x="37.1" y="300.80" text-anchor="end" font-size="12.3">10</text><text x="36.4" y="295.90" font-size="10" letter-spacing="-0.3">-3</text><text x="364.8" y="328.6" text-anchor="middle" font-size="12.3">PAPR (dB)</text><text transform="translate(9.1,149.8) rotate(-90)" text-anchor="middle" font-size="12.3">CCDF of PAPR</text>
<rect x="495.5" y="14.5" width="176.2" height="109.3" fill="#fff" stroke="#262626" stroke-width="1"/><line x1="496.8" y1="22.00" x2="509.7" y2="22.00" stroke="#000" stroke-width="1"/><use href="#m_blk4" x="503.2" y="22.00"/><text x="511.2" y="25.80" font-size="10.5">Traditional CO-OFDM (4-QAM)</text><line x1="496.8" y1="35.49" x2="509.7" y2="35.49" stroke="#f00" stroke-width="1"/><use href="#m_red4" x="503.2" y="35.49"/><text x="511.2" y="39.29" font-size="10.5">DFT-S CO-OFDM (4-QAM)</text><line x1="496.8" y1="48.98" x2="509.7" y2="48.98" stroke="#00f" stroke-width="1"/><use href="#m_blu2" x="503.2" y="48.98"/><text x="511.2" y="52.78" font-size="10.5">2ASK DFT-S CO-OFDM (2-ASK)</text><line x1="496.8" y1="62.47" x2="509.7" y2="62.47" stroke="#f0f" stroke-width="1"/><use href="#m_mag4" x="503.2" y="62.47"/><text x="511.2" y="66.27" font-size="10.5">SLM DFT-S CO-OFDM (4-QAM)</text><line x1="496.8" y1="75.96" x2="509.7" y2="75.96" stroke="#000" stroke-width="1"/><use href="#m_blk16" x="503.2" y="75.96"/><text x="511.2" y="79.76" font-size="10.5">Traditional CO-OFDM (16-QAM)</text><line x1="496.8" y1="89.45" x2="509.7" y2="89.45" stroke="#f00" stroke-width="1"/><use href="#m_red16" x="503.2" y="89.45"/><text x="511.2" y="93.25" font-size="10.5">DFT-S CO-OFDM (16-QAM)</text><line x1="496.8" y1="102.94" x2="509.7" y2="102.94" stroke="#00f" stroke-width="1"/><use href="#m_blu4" x="503.2" y="102.94"/><text x="511.2" y="106.74" font-size="10.5">2ASK DFT-S CO-OFDM (4-ASK)</text><line x1="496.8" y1="116.43" x2="509.7" y2="116.43" stroke="#f0f" stroke-width="1"/><use href="#m_mag16" x="503.2" y="116.43"/><text x="511.2" y="120.23" font-size="10.5">SLM DFT-S CO-OFDM (16-QAM)</text>
</svg></body></html>
